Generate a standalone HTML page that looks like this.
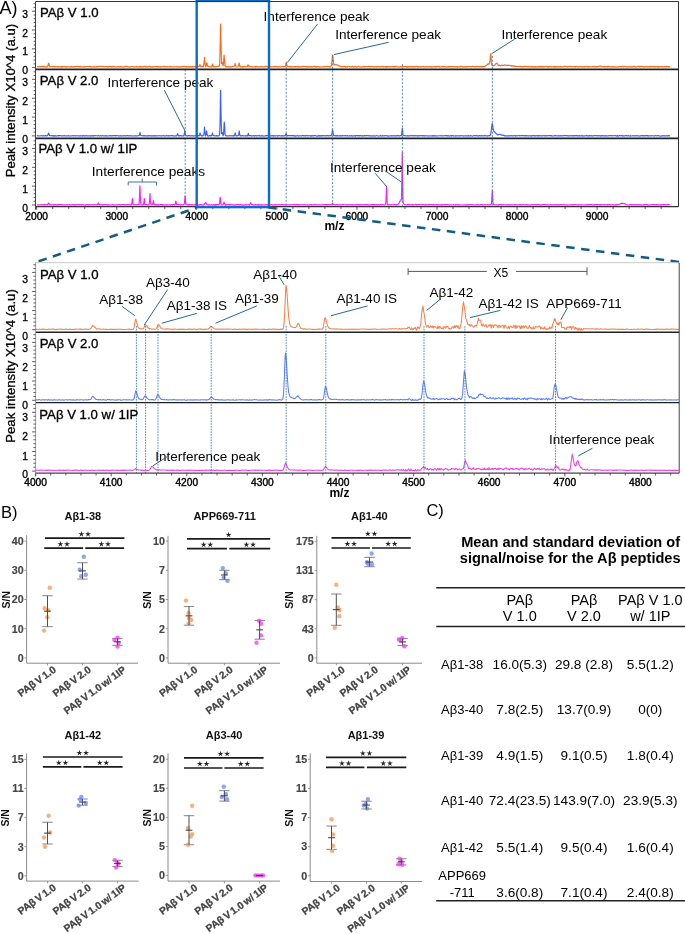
<!DOCTYPE html>
<html><head><meta charset="utf-8"><style>html,body{margin:0;padding:0;background:#fff;}svg{display:block;will-change:transform;}text{font-family:"Liberation Sans",sans-serif;}</style></head><body>
<svg width="685" height="934" viewBox="0 0 685 934" font-family='"Liberation Sans", sans-serif'>
<rect width="685" height="934" fill="#fff"/>
<polyline fill="none" stroke="#fb6a1c" stroke-width="1.15" stroke-linejoin="round" opacity="1" points="37,66.58 37.5,66.46 38,66.81 38.5,66.4 39,66.73 39.5,66.61 40,66.39 40.5,66.71 41,66.38 41.5,66.65 42,66.4 42.5,66.41 43,66.65 43.5,66.93 44,66.44 44.5,66.51 45,66.79 45.5,67.01 46,66.75 46.5,66.63 47,67.03 47.5,66.29 48,65.85 48.5,63.45 48.6,63.25 49,64.44 49.5,66.28 50,66.91 50.5,66.48 51,66.76 51.5,66.8 52,66.61 52.5,66.73 53,66.39 53.5,66.39 54,66.49 54.5,66.83 55,66.65 55.5,66.57 56,66.76 56.5,66.67 57,66.56 57.5,66.91 58,66.84 58.5,66.52 59,66.75 59.5,66.72 60,66.96 60.5,66.86 61,66.55 61.5,67.04 62,66.43 62.5,66.64 63,66.88 63.5,66.46 64,66.69 64.5,66.38 65,66.82 65.5,66.89 66,66.75 66.5,66.96 67,66.57 67.5,66.84 68,66.77 68.5,66.76 69,66.67 69.5,66.94 70,67.01 70.5,66.68 71,66.81 71.5,66.39 72,66.84 72.5,66.8 73,67.05 73.5,66.93 74,66.55 74.5,66.62 75,66.82 75.5,66.37 76,66.67 76.5,66.47 77,66.43 77.5,66.39 78,66.89 78.5,66.44 79,66.52 79.5,66.62 80,66.96 80.5,66.41 81,66.66 81.5,66.73 82,66.97 82.5,66.92 83,66.95 83.5,66.54 84,66.64 84.5,66.6 85,66.97 85.5,67.02 86,66.46 86.5,66.47 87,66.51 87.5,66.51 88,66.69 88.5,66.76 89,66.53 89.5,66.35 90,66.64 90.5,66.61 91,66.75 91.5,67.02 92,66.83 92.5,66.71 93,66.78 93.5,66.82 94,66.39 94.5,66.98 95,66.9 95.5,66.96 96,66.91 96.5,66.62 97,66.63 97.5,66.42 98,66.79 98.5,66.39 99,66.4 99.5,66.5 100,66.46 100.5,66.59 101,66.39 101.5,66.35 102,66.46 102.5,66.42 103,66.6 103.5,66.37 104,66.96 104.5,66.78 105,66.45 105.5,66.53 106,66.59 106.5,66.6 107,66.44 107.5,66.94 108,67.05 108.5,66.68 109,66.69 109.5,66.41 110,66.42 110.5,66.59 111,66.54 111.5,66.93 112,66.46 112.5,66.37 113,67.02 113.5,66.72 114,66.45 114.5,66.73 115,66.37 115.5,66.72 116,67.03 116.5,66.95 117,66.84 117.5,66.53 118,66.61 118.5,66.47 119,66.89 119.5,66.72 120,66.9 120.5,66.58 121,66.51 121.5,66.92 122,67.04 122.5,66.95 123,66.91 123.5,66.92 124,66.87 124.5,66.51 125,66.71 125.5,66.6 126,66.37 126.5,66.37 127,66.55 127.5,66.53 128,66.83 128.5,67.02 129,66.66 129.5,67.01 130,67.04 130.5,67.02 131,66.61 131.5,66.5 132,66.51 132.5,66.49 133,66.49 133.5,66.79 134,66.98 134.5,66.94 135,66.69 135.5,66.81 136,66.91 136.5,66.41 137,66.81 137.5,66.99 138,66.9 138.5,66.88 139,66.68 139.5,66.47 140,66.9 140.5,66.58 141,66.91 141.5,67.03 142,66.63 142.5,66.63 143,67.01 143.5,66.86 144,66.47 144.5,66.44 145,66.46 145.5,66.98 146,66.91 146.5,66.45 147,66.93 147.5,67.04 148,66.81 148.5,66.6 149,66.73 149.5,66.44 150,66.36 150.5,67.03 151,66.8 151.5,66.72 152,67 152.5,66.65 153,66.96 153.5,66.93 154,66.5 154.5,66.53 155,66.56 155.5,66.52 156,66.76 156.5,66.53 157,66.64 157.5,66.44 158,66.99 158.5,66.6 159,66.67 159.5,66.76 160,66.98 160.5,66.64 161,66.99 161.5,66.7 162,66.72 162.5,66.72 163,66.36 163.5,66.66 164,66.48 164.5,66.35 165,66.91 165.5,66.47 166,66.68 166.5,66.86 167,66.74 167.5,66.58 168,66.71 168.5,66.74 169,66.9 169.5,66.42 170,66.74 170.5,66.52 171,66.54 171.5,66.89 172,66.71 172.5,66.74 173,66.88 173.5,66.99 174,66.66 174.5,66.78 175,66.7 175.5,66.71 176,66.83 176.5,66.67 177,66.72 177.5,66.68 178,67.01 178.5,66.84 179,66.96 179.5,67.01 180,66.53 180.5,66.74 181,67.01 181.5,66.94 182,66.45 182.5,66.44 183,66.66 183.5,66.4 184,66.52 184.5,66.4 185,66.82 185.5,66.9 186,66.98 186.5,66.46 187,66.85 187.5,66.81 188,66.45 188.5,66.97 189,67.03 189.5,66.5 190,67.02 190.5,66.63 191,66.69 191.5,67.04 192,66.93 192.5,66.46 193,66.65 193.5,66.71 194,66.59 194.5,66.49 195,66.57 195.5,66.86 196,66.36 196.5,66.74 197,66.66 197.5,66.36 198,66.58 198.5,66.79 199,66.66 199.5,65.51 200,64.64 200.5,66.02 201,66.99 201.5,66.42 202,66.54 202.5,66.38 203,66.89 203.5,66.37 204,63.02 204.5,57.35 205,63.57 205.5,66.75 206,66.21 206.5,63.52 206.8,62.79 207,63.17 207.5,66.25 208,66.4 208.5,66.39 209,66.83 209.5,66.65 210,66.4 210.5,67.01 211,66.79 211.5,66.88 212,65.4 212.4,64.55 212.5,64.12 213,66.61 213.5,66.66 214,66.59 214.5,66.74 215,67 215.5,66.54 216,66.44 216.5,66.72 217,66.52 217.5,66.43 218,66.46 218.5,66.39 219,66.48 219.5,65.9 220,54.2 220.5,25.81 220.6,24.05 221,42.15 221.5,63.54 222,63.16 222.2,62.16 222.5,63.94 223,66.05 223.5,63.52 224,55.62 224.1,54.98 224.5,60.04 225,66.29 225.5,66.41 226,66.92 226.5,66.65 227,66.7 227.5,66.93 228,66.63 228.5,66.7 229,66.83 229.5,67.04 230,66.59 230.5,66.93 231,66.84 231.5,66.8 232,66.63 232.5,66.59 233,66.39 233.5,66.44 234,66.38 234.5,66.01 235,63.23 235.5,65.61 236,66.39 236.5,66.94 237,66.96 237.5,66.82 238,66.55 238.5,66.26 239,63.57 239.2,62.97 239.5,64.19 240,66.55 240.5,66.53 241,67.02 241.5,67.03 242,66.73 242.5,66.52 243,67.03 243.5,66.57 244,66.6 244.5,66.35 245,66.62 245.5,66.68 246,66.7 246.5,66.49 247,66.7 247.5,65.91 248,64.83 248.5,65.97 249,66.62 249.5,66.38 250,66.37 250.5,66.56 251,66.51 251.5,66.76 252,66.72 252.5,66.88 253,66.81 253.5,66.85 254,66.97 254.5,66.62 255,66.58 255.5,67.04 256,66.45 256.5,66.86 257,66.8 257.5,66.38 258,66.93 258.5,66.97 259,66.79 259.5,66.86 260,66.92 260.5,66.45 261,66.72 261.5,66.7 262,66.93 262.5,66.91 263,66.93 263.5,66.76 264,66.97 264.5,66.83 265,66.84 265.5,66.51 266,66.37 266.5,66.44 267,66.6 267.5,66.42 268,66.94 268.5,66.74 269,66.79 269.5,66.79 270,66.83 270.5,66.69 271,66.35 271.5,66.91 272,66.87 272.5,66.7 273,66.72 273.5,66.81 274,66.4 274.5,66.87 275,66.53 275.5,66.4 276,66.54 276.5,66.86 277,66.49 277.5,66.87 278,67.03 278.5,66.7 279,66.62 279.5,66.69 280,66.83 280.5,66.89 281,66.78 281.5,66.8 282,66.4 282.5,66.45 283,66.53 283.5,66.87 284,66.56 284.5,66.75 285,66.36 285.5,66.33 286,64.56 286.4,62.12 286.5,62.38 287,66.15 287.5,66.55 288,66.71 288.5,66.68 289,66.68 289.5,66.43 290,66.98 290.5,66.49 291,67.03 291.5,67.01 292,66.36 292.5,66.67 293,66.92 293.5,67.03 294,66.66 294.5,66.54 295,66.5 295.5,67.01 296,66.5 296.5,66.76 297,66.45 297.5,66.72 298,67.02 298.5,66.44 299,66.92 299.5,66.71 300,66.97 300.5,66.84 301,66.51 301.5,66.98 302,66.69 302.5,66.37 303,66.35 303.5,66.69 304,66.67 304.5,66.56 305,66.45 305.5,66.59 306,66.57 306.5,66.94 307,66.35 307.5,66.88 308,66.94 308.5,66.43 309,67 309.5,66.85 310,66.98 310.5,66.55 311,66.61 311.5,66.63 312,67.05 312.5,66.76 313,66.6 313.5,66.65 314,66.54 314.5,66.38 315,66.42 315.5,66.93 316,66.55 316.5,67 317,66.52 317.5,66.54 318,66.71 318.5,66.48 319,66.61 319.5,67.02 320,66.97 320.5,66.92 321,66.79 321.5,66.99 322,67.01 322.5,66.73 323,66.85 323.5,66.38 324,66.86 324.5,66.67 325,66.88 325.5,66.8 326,66.55 326.5,66.38 327,67 327.5,66.44 328,66.68 328.5,66.58 329,66.54 329.5,66.83 330,66.96 330.5,66.4 331,66.48 331.5,64.98 332,60.67 332.5,55.54 332.6,55.14 333,57.51 333.5,62.66 334,65.03 334.5,64.8 335,64.46 335.5,64.88 336,65.01 336.5,64.79 337,64.81 337.5,65.14 338,65.36 338.5,65.82 339,65.88 339.5,66.16 340,66.31 340.5,66.62 341,66.9 341.5,66.84 342,66.62 342.5,66.63 343,66.71 343.5,66.61 344,66.59 344.5,66.39 345,66.54 345.5,67.03 346,66.44 346.5,66.7 347,66.79 347.5,66.95 348,66.5 348.5,66.54 349,66.52 349.5,66.63 350,66.66 350.5,67.02 351,66.94 351.5,66.96 352,66.37 352.5,66.37 353,66.85 353.5,66.98 354,66.68 354.5,66.76 355,66.35 355.5,66.62 356,67 356.5,66.93 357,66.95 357.5,67.03 358,66.52 358.5,66.43 359,66.46 359.5,66.72 360,66.83 360.5,67.01 361,66.86 361.5,66.8 362,66.89 362.5,66.67 363,66.74 363.5,66.38 364,66.9 364.5,66.51 365,66.99 365.5,66.8 366,66.56 366.5,66.44 367,66.53 367.5,66.8 368,66.84 368.5,66.43 369,66.4 369.5,66.72 370,66.76 370.5,66.62 371,66.51 371.5,66.77 372,66.36 372.5,66.56 373,66.67 373.5,67.02 374,66.8 374.5,66.97 375,66.68 375.5,66.51 376,66.52 376.5,67.02 377,66.84 377.5,66.57 378,66.37 378.5,66.7 379,66.82 379.5,66.64 380,66.53 380.5,66.82 381,67 381.5,66.51 382,66.37 382.5,66.59 383,66.64 383.5,66.83 384,66.49 384.5,66.91 385,66.87 385.5,66.7 386,66.49 386.5,67.03 387,66.57 387.5,66.92 388,66.51 388.5,66.51 389,66.88 389.5,66.56 390,67.02 390.5,66.7 391,66.48 391.5,66.51 392,66.64 392.5,66.82 393,67.01 393.5,66.45 394,66.63 394.5,66.5 395,67.03 395.5,66.45 396,66.39 396.5,66.39 397,66.63 397.5,66.98 398,66.97 398.5,66.86 399,67.05 399.5,67 400,66.58 400.5,66.48 401,67.01 401.5,66.87 402,66.37 402.5,66.82 403,66.62 403.5,66.61 404,66.58 404.5,66.47 405,66.35 405.5,66.55 406,66.6 406.5,67.02 407,66.44 407.5,67.02 408,66.5 408.5,66.6 409,66.93 409.5,66.93 410,66.65 410.5,66.38 411,66.68 411.5,66.61 412,66.99 412.5,66.49 413,66.6 413.5,66.98 414,66.37 414.5,66.64 415,66.92 415.5,66.89 416,66.38 416.5,66.37 417,66.39 417.5,66.99 418,66.53 418.5,66.87 419,66.98 419.5,66.59 420,66.54 420.5,67.02 421,66.78 421.5,66.53 422,66.85 422.5,66.57 423,66.54 423.5,66.35 424,66.88 424.5,66.99 425,66.79 425.5,67.01 426,66.37 426.5,66.51 427,66.68 427.5,67.02 428,67.02 428.5,66.62 429,66.53 429.5,66.65 430,66.7 430.5,67 431,66.48 431.5,66.91 432,66.87 432.5,66.93 433,66.89 433.5,66.78 434,66.58 434.5,66.57 435,66.6 435.5,66.9 436,66.41 436.5,66.49 437,66.88 437.5,66.52 438,66.4 438.5,66.37 439,66.74 439.5,66.58 440,67.04 440.5,66.97 441,67.04 441.5,66.54 442,66.41 442.5,66.42 443,66.7 443.5,66.85 444,66.66 444.5,66.51 445,66.64 445.5,66.78 446,66.82 446.5,66.87 447,66.94 447.5,66.82 448,66.43 448.5,66.94 449,66.56 449.5,66.75 450,66.61 450.5,66.87 451,66.49 451.5,66.52 452,66.52 452.5,66.46 453,66.97 453.5,66.75 454,66.58 454.5,66.63 455,67.04 455.5,66.71 456,66.51 456.5,66.92 457,66.81 457.5,67.04 458,66.42 458.5,66.68 459,66.92 459.5,66.94 460,66.99 460.5,66.38 461,66.56 461.5,66.43 462,66.48 462.5,67.03 463,66.76 463.5,67 464,66.61 464.5,66.96 465,66.66 465.5,66.53 466,66.89 466.5,67.01 467,66.42 467.5,66.77 468,66.78 468.5,66.5 469,66.61 469.5,66.45 470,66.49 470.5,66.53 471,66.77 471.5,66.81 472,66.49 472.5,66.36 473,66.58 473.5,66.82 474,66.48 474.5,66.57 475,66.49 475.5,66.91 476,66.73 476.5,66.39 477,66.42 477.5,66.63 478,66.73 478.5,66.8 479,66.41 479.5,66.46 480,66.84 480.5,66.63 481,66.54 481.5,66.56 482,67 482.5,66.53 483,66.68 483.5,66.49 484,66.45 484.5,66.64 485,66.56 485.5,65.88 486,65.47 486.5,65.49 487,64.74 487.5,64.21 488,64.48 488.5,63.87 489,63.98 489.5,63.32 490,60.39 490.5,54.22 490.6,53.79 491,57.56 491.5,63.71 492,65.14 492.5,65.7 493,65.37 493.5,65.89 494,65.69 494.5,65.52 495,64.73 495.5,64.09 496,63.59 496.5,63.56 497,63.2 497.5,64.05 498,64.93 498.5,65.55 499,65.28 499.5,65.32 500,65.89 500.5,65.86 501,65.46 501.5,65.1 502,65.66 502.5,65.23 503,65.56 503.5,65.33 504,65.45 504.5,64.97 505,65.4 505.5,65.01 506,65.15 506.5,65.48 507,65.5 507.5,65.09 508,65.16 508.5,65.34 509,65.48 509.5,65.45 510,65.33 510.5,65.49 511,65.9 511.5,66.09 512,65.56 512.5,65.99 513,66.2 513.5,65.76 514,66.38 514.5,65.94 515,66.33 515.5,66.35 516,66.45 516.5,66.27 517,66.39 517.5,66.54 518,66.46 518.5,66.65 519,66.53 519.5,66.54 520,66.27 520.5,66.71 521,66.63 521.5,66.46 522,66.84 522.5,66.86 523,66.64 523.5,66.45 524,66.66 524.5,66.41 525,66.43 525.5,66.64 526,66.41 526.5,66.65 527,66.7 527.5,66.38 528,66.79 528.5,66.41 529,66.86 529.5,66.89 530,66.71 530.5,66.39 531,66.7 531.5,66.61 532,67.02 532.5,66.45 533,66.95 533.5,67.05 534,66.86 534.5,66.92 535,66.49 535.5,67.04 536,66.69 536.5,67.02 537,66.99 537.5,66.47 538,66.9 538.5,67 539,66.4 539.5,66.6 540,66.88 540.5,66.46 541,66.98 541.5,66.54 542,66.92 542.5,66.45 543,66.7 543.5,66.99 544,66.5 544.5,66.53 545,66.7 545.5,66.57 546,66.38 546.5,66.48 547,66.46 547.5,67.01 548,66.83 548.5,66.98 549,66.47 549.5,66.9 550,66.43 550.5,66.72 551,66.8 551.5,66.6 552,66.96 552.5,66.74 553,66.76 553.5,66.97 554,66.42 554.5,67.05 555,66.79 555.5,66.63 556,66.91 556.5,66.54 557,67.04 557.5,66.75 558,66.6 558.5,66.89 559,66.66 559.5,66.47 560,66.87 560.5,66.38 561,66.92 561.5,66.53 562,66.8 562.5,67.04 563,66.76 563.5,66.81 564,66.57 564.5,66.35 565,66.37 565.5,66.45 566,66.78 566.5,66.65 567,66.71 567.5,66.98 568,66.44 568.5,66.51 569,66.81 569.5,66.37 570,66.35 570.5,66.6 571,66.42 571.5,66.6 572,66.51 572.5,66.76 573,66.76 573.5,66.49 574,66.79 574.5,66.68 575,66.44 575.5,67.01 576,66.52 576.5,66.45 577,66.42 577.5,66.8 578,66.96 578.5,66.9 579,66.63 579.5,66.53 580,66.36 580.5,66.8 581,66.74 581.5,66.6 582,66.8 582.5,66.66 583,67.01 583.5,66.86 584,66.52 584.5,66.98 585,66.38 585.5,66.72 586,66.63 586.5,66.52 587,66.39 587.5,66.9 588,66.36 588.5,66.74 589,67.01 589.5,66.45 590,66.49 590.5,66.78 591,66.7 591.5,66.8 592,66.92 592.5,66.47 593,66.57 593.5,66.56 594,66.38 594.5,66.96 595,66.88 595.5,66.82 596,66.3 596.5,66.86 597,66.76 597.5,66.53 598,66.68 598.5,66.43 599,66.24 599.5,66.13 600,66.21 600.5,66.09 601,66.32 601.5,66.64 602,66.64 602.5,66.79 603,66.74 603.5,66.46 604,66.69 604.5,66.62 605,66.88 605.5,66.71 606,66.53 606.5,66.8 607,67.02 607.5,66.5 608,66.97 608.5,66.36 609,66.53 609.5,66.52 610,66.87 610.5,67.01 611,66.87 611.5,66.58 612,66.97 612.5,66.58 613,66.52 613.5,66.99 614,66.79 614.5,66.83 615,66.82 615.5,67.04 616,66.68 616.5,66.94 617,66.84 617.5,66.95 618,66.66 618.5,66.86 619,66.75 619.5,66.57 620,66.5 620.5,66.79 621,66.4 621.5,66.99 622,66.45 622.5,66.37 623,66.42 623.5,67 624,66.59 624.5,66.45 625,66.37 625.5,66.38 626,66.83 626.5,66.79 627,66.84 627.5,66.87 628,66.4 628.5,66.76 629,66.6 629.5,66.92 630,66.92 630.5,66.97 631,66.4 631.5,66.96 632,66.99 632.5,67.01 633,66.42 633.5,66.49 634,66.43 634.5,66.37 635,66.94 635.5,66.92 636,66.79 636.5,66.93 637,66.79 637.5,66.55 638,66.42 638.5,66.42 639,66.88 639.5,66.49 640,66.57 640.5,66.65 641,66.36 641.5,66.53 642,66.55 642.5,66.85 643,66.61 643.5,66.57 644,67.02 644.5,66.7 645,66.95 645.5,66.78 646,66.37 646.5,66.64 647,66.66 647.5,66.89 648,66.59 648.5,66.84 649,66.73 649.5,66.5 650,66.95 650.5,66.41 651,66.92 651.5,66.47 652,66.35 652.5,66.49 653,66.88 653.5,67.03 654,66.35 654.5,66.69 655,66.69 655.5,66.91 656,66.48 656.5,66.7 657,66.59 657.5,66.93 658,66.53 658.5,67.01 659,66.55 659.5,66.5 660,66.84 660.5,66.7 661,66.43 661.5,66.8 662,66.41 662.5,66.9 663,66.84 663.5,66.9 664,66.79 664.5,66.6 665,66.63 665.5,66.63 666,66.97 666.5,66.41 667,66.97 667.5,66.37 668,66.49 668.5,66.53 669,66.98 669.5,66.7 670,66.62"/>
<polyline fill="none" stroke="#3d5efa" stroke-width="1.15" stroke-linejoin="round" opacity="1" points="37,136.03 37.5,135.64 38,135.78 38.5,135.82 39,135.95 39.5,135.95 40,135.89 40.5,135.71 41,135.7 41.5,135.59 42,136.01 42.5,135.9 43,135.95 43.5,135.6 44,135.76 44.5,135.96 45,135.85 45.5,135.58 46,135.78 46.5,136.03 47,135.64 47.5,135.59 48,134.97 48.5,133.04 48.6,133.01 49,134.01 49.5,135.48 50,135.65 50.5,135.7 51,135.81 51.5,135.6 52,135.7 52.5,135.61 53,136.09 53.5,135.94 54,135.56 54.5,136.08 55,135.56 55.5,135.73 56,136.09 56.5,135.98 57,135.94 57.5,135.76 58,135.62 58.5,135.88 59,135.56 59.5,135.62 60,135.73 60.5,135.52 61,135.74 61.5,135.97 62,135.92 62.5,135.8 63,135.88 63.5,135.78 64,135.59 64.5,135.86 65,135.74 65.5,135.94 66,136.04 66.5,135.76 67,135.84 67.5,135.95 68,135.75 68.5,135.64 69,135.93 69.5,136.03 70,135.96 70.5,135.92 71,136.01 71.5,135.91 72,135.88 72.5,135.77 73,135.69 73.5,135.88 74,135.56 74.5,135.75 75,135.97 75.5,135.93 76,135.88 76.5,135.65 77,135.75 77.5,135.77 78,135.87 78.5,135.75 79,135.91 79.5,136.06 80,135.61 80.5,135.89 81,135.97 81.5,135.73 82,135.79 82.5,136.08 83,135.52 83.5,135.83 84,135.6 84.5,135.97 85,136.06 85.5,135.81 86,135.56 86.5,135.84 87,135.82 87.5,135.93 88,135.81 88.5,135.88 89,136 89.5,135.81 90,135.75 90.5,136.07 91,135.63 91.5,135.91 92,135.74 92.5,135.96 93,135.57 93.5,136.09 94,135.71 94.5,135.53 95,135.66 95.5,135.74 96,135.51 96.5,135.75 97,135.75 97.5,135.92 98,135.71 98.5,135.66 99,135.63 99.5,135.94 100,136.06 100.5,135.82 101,135.63 101.5,135.98 102,135.74 102.5,135.63 103,135.58 103.5,135.97 104,135.99 104.5,135.88 105,135.78 105.5,135.84 106,135.64 106.5,136.08 107,135.71 107.5,135.88 108,135.99 108.5,135.99 109,135.78 109.5,135.68 110,135.83 110.5,135.58 111,136 111.5,135.71 112,136.01 112.5,135.66 113,135.73 113.5,135.65 114,135.76 114.5,135.61 115,135.5 115.5,135.93 116,135.67 116.5,135.65 117,135.68 117.5,135.79 118,135.76 118.5,135.88 119,135.9 119.5,135.72 120,136.06 120.5,136.01 121,135.53 121.5,136 122,136.04 122.5,135.97 123,135.58 123.5,136 124,135.88 124.5,135.51 125,135.51 125.5,136.07 126,135.89 126.5,135.65 127,135.56 127.5,135.59 128,135.64 128.5,135.97 129,135.71 129.5,135.59 130,136.04 130.5,135.98 131,135.6 131.5,136.03 132,135.87 132.5,135.97 133,135.9 133.5,136.04 134,135.97 134.5,136 135,135.62 135.5,135.92 136,135.82 136.5,135.95 137,135.76 137.5,136.03 138,135.83 138.5,135.66 139,135.63 139.5,134.7 140,132.4 140.5,134.66 141,135.77 141.5,135.59 142,135.79 142.5,135.8 143,135.82 143.5,136.02 144,135.5 144.5,136 145,135.78 145.5,135.84 146,135.9 146.5,136 147,135.72 147.5,135.75 148,136.08 148.5,135.55 149,135.88 149.5,135.88 150,135.52 150.5,135.87 151,135.91 151.5,136.06 152,135.7 152.5,136.09 153,135.81 153.5,135.79 154,136.04 154.5,135.52 155,135.93 155.5,135.88 156,135.7 156.5,136.02 157,135.72 157.5,135.78 158,135.82 158.5,135.96 159,135.63 159.5,135.76 160,135.75 160.5,135.83 161,136 161.5,135.68 162,136 162.5,135.74 163,135.8 163.5,135.66 164,135.8 164.5,136.08 165,135.89 165.5,135.98 166,135.7 166.5,135.69 167,135.68 167.5,135.85 168,135.88 168.5,135.97 169,135.52 169.5,135.93 170,136.03 170.5,135.83 171,135.53 171.5,135.68 172,135.5 172.5,135.61 173,136.05 173.5,135.87 174,135.89 174.5,135.97 175,136.05 175.5,135.87 176,135.87 176.5,135.87 177,135.6 177.5,133.77 177.6,133.71 178,134.7 178.5,135.87 179,135.77 179.5,135.96 180,135.56 180.5,135.61 181,135.52 181.5,135.96 182,136.05 182.5,135.89 183,135.72 183.5,135.99 184,135.59 184.5,132.35 184.8,130.65 185,131.42 185.5,135.05 186,135.68 186.5,135.76 187,135.89 187.5,136.06 188,135.53 188.5,135.84 189,135.52 189.5,135.57 190,135.99 190.5,135.85 191,136.05 191.5,135.77 192,135.51 192.5,135.73 193,135.86 193.5,136.06 194,136.09 194.5,135.79 195,135.75 195.5,135.56 196,135.89 196.5,135.63 197,135.59 197.5,135.51 198,135.5 198.5,135.91 199,135.57 199.5,135.67 200,132.81 200.1,133.12 200.5,134.36 201,135.47 201.5,135.93 202,135.65 202.5,135.94 203,135.61 203.5,135.49 204,133.69 204.5,127.13 205,133.74 205.5,135.89 206,134.84 206.5,131.14 206.6,130.93 207,133.67 207.5,136 208,135.65 208.5,136.08 209,135.93 209.5,135.51 210,135.51 210.5,135.89 211,135.99 211.5,135.51 212,134.51 212.4,133.14 212.5,132.95 213,135.62 213.5,135.79 214,135.54 214.5,135.72 215,135.84 215.5,135.76 216,135.91 216.5,135.59 217,135.98 217.5,135.72 218,135.89 218.5,135.88 219,135.75 219.5,135.37 220,125.17 220.5,92.25 220.6,90.37 221,111.79 221.5,133.62 222,132.46 222.2,132.28 222.5,133.59 223,135.86 223.5,134.61 224,126.03 224.3,121.99 224.5,123.98 225,133.87 225.5,135.64 226,135.76 226.5,136.03 227,135.73 227.5,135.91 228,135.86 228.5,136.04 229,135.98 229.5,135.67 230,135.5 230.5,135.66 231,135.75 231.5,135.85 232,135.99 232.5,136.03 233,135.53 233.5,136 234,135.99 234.5,135.82 235,133.51 235.2,132.76 235.5,134.23 236,135.89 236.5,135.91 237,136.05 237.5,135.71 238,135.55 238.5,135.5 239,132.19 239.2,130.92 239.5,133.06 240,135.91 240.5,135.64 241,135.86 241.5,135.91 242,135.78 242.5,135.62 243,135.65 243.5,135.95 244,135.97 244.5,135.78 245,135.55 245.5,135.98 246,135.96 246.5,135.64 247,135.85 247.5,136.02 248,134.83 248.3,133.41 248.5,134.02 249,135.8 249.5,135.61 250,135.62 250.5,135.61 251,135.92 251.5,135.72 252,135.84 252.5,135.74 253,135.81 253.5,135.59 254,135.53 254.5,136.1 255,135.72 255.5,135.56 256,135.88 256.5,135.97 257,135.59 257.5,135.86 258,135.71 258.5,135.81 259,135.51 259.5,135.52 260,136.09 260.5,136.02 261,135.79 261.5,135.84 262,135.66 262.5,135.97 263,135.76 263.5,136.07 264,135.96 264.5,135.99 265,136.08 265.5,135.65 266,135.52 266.5,135.62 267,135.61 267.5,135.55 268,135.53 268.5,135.83 269,136.02 269.5,135.77 270,136.07 270.5,136.05 271,135.54 271.5,135.86 272,135.74 272.5,135.57 273,136.08 273.5,135.65 274,135.84 274.5,135.88 275,136.07 275.5,135.9 276,135.74 276.5,135.77 277,135.6 277.5,136.08 278,136.1 278.5,135.63 279,135.52 279.5,135.65 280,135.71 280.5,136.04 281,136.04 281.5,136 282,135.53 282.5,135.97 283,135.93 283.5,135.89 284,136.09 284.5,135.53 285,135.57 285.5,135.36 286,133.66 286.1,133.41 286.5,134.36 287,135.76 287.5,135.95 288,135.56 288.5,135.69 289,135.65 289.5,135.57 290,135.79 290.5,135.6 291,135.64 291.5,135.59 292,135.91 292.5,135.51 293,135.93 293.5,135.62 294,135.52 294.5,136.06 295,135.63 295.5,136.06 296,136.02 296.5,136.03 297,135.58 297.5,135.77 298,135.56 298.5,136.06 299,136.01 299.5,135.88 300,135.77 300.5,135.7 301,135.99 301.5,135.79 302,135.88 302.5,135.59 303,135.63 303.5,135.53 304,135.93 304.5,135.83 305,135.59 305.5,136.02 306,135.66 306.5,135.75 307,135.59 307.5,135.66 308,136 308.5,135.7 309,135.6 309.5,135.79 310,135.69 310.5,136.04 311,135.57 311.5,136.09 312,135.53 312.5,136.04 313,135.9 313.5,135.63 314,135.79 314.5,135.67 315,135.65 315.5,135.62 316,135.72 316.5,136.09 317,136.1 317.5,136.06 318,135.56 318.5,135.67 319,136.04 319.5,135.53 320,135.94 320.5,135.68 321,136.09 321.5,135.51 322,135.98 322.5,135.7 323,135.58 323.5,135.5 324,136 324.5,135.82 325,135.61 325.5,135.76 326,136.05 326.5,135.63 327,135.84 327.5,135.58 328,135.61 328.5,135.96 329,135.93 329.5,135.62 330,135.55 330.5,135.55 331,135.85 331.5,135.46 332,133.11 332.5,129.76 332.6,129.87 333,131.82 333.5,135.1 334,135.79 334.5,135.62 335,135.54 335.5,135.94 336,135.74 336.5,135.93 337,135.53 337.5,135.99 338,135.7 338.5,136.01 339,136.02 339.5,135.8 340,135.51 340.5,136.05 341,135.79 341.5,136.02 342,135.66 342.5,135.61 343,136 343.5,135.72 344,135.6 344.5,135.72 345,135.86 345.5,135.5 346,135.81 346.5,135.77 347,135.81 347.5,135.57 348,135.93 348.5,135.99 349,136.02 349.5,135.69 350,135.93 350.5,135.73 351,135.95 351.5,135.54 352,136.02 352.5,136.07 353,135.8 353.5,135.81 354,135.82 354.5,135.82 355,135.51 355.5,136.08 356,135.63 356.5,135.61 357,135.56 357.5,135.65 358,135.99 358.5,135.52 359,135.56 359.5,135.92 360,135.62 360.5,135.51 361,135.86 361.5,135.85 362,135.81 362.5,135.92 363,135.56 363.5,136.02 364,135.93 364.5,135.53 365,135.57 365.5,135.8 366,135.8 366.5,135.67 367,135.57 367.5,135.74 368,135.58 368.5,135.86 369,136.02 369.5,135.59 370,135.84 370.5,135.95 371,135.6 371.5,136 372,136.06 372.5,135.73 373,135.75 373.5,136 374,135.82 374.5,135.74 375,136.06 375.5,135.97 376,135.7 376.5,135.64 377,135.7 377.5,135.76 378,136.09 378.5,135.98 379,136.05 379.5,135.99 380,136.01 380.5,135.53 381,135.81 381.5,136.07 382,136.06 382.5,135.65 383,135.75 383.5,135.88 384,135.72 384.5,135.82 385,135.54 385.5,135.76 386,135.8 386.5,135.51 387,135.58 387.5,136.08 388,135.97 388.5,136.06 389,135.88 389.5,135.99 390,136.03 390.5,136.03 391,135.52 391.5,135.88 392,135.66 392.5,135.91 393,135.66 393.5,135.83 394,136.05 394.5,135.87 395,135.65 395.5,135.81 396,135.76 396.5,136.07 397,135.67 397.5,135.68 398,135.89 398.5,135.57 399,135.86 399.5,136.07 400,135.81 400.5,135.66 401,135.78 401.5,135.58 402,130.98 402.3,128.07 402.5,129.54 403,135.15 403.5,135.74 404,135.67 404.5,135.65 405,135.55 405.5,135.83 406,136 406.5,135.87 407,135.84 407.5,135.89 408,135.62 408.5,135.93 409,135.78 409.5,135.83 410,135.87 410.5,135.78 411,135.69 411.5,135.65 412,135.63 412.5,135.81 413,135.73 413.5,135.85 414,135.51 414.5,135.71 415,136.02 415.5,135.64 416,135.83 416.5,135.79 417,135.67 417.5,136.09 418,135.68 418.5,135.96 419,135.6 419.5,135.54 420,136.02 420.5,135.76 421,135.54 421.5,135.73 422,135.76 422.5,135.94 423,135.57 423.5,135.64 424,136.08 424.5,135.94 425,135.59 425.5,135.7 426,135.71 426.5,135.91 427,135.87 427.5,136.01 428,135.99 428.5,135.81 429,135.94 429.5,135.95 430,135.96 430.5,135.79 431,135.97 431.5,135.93 432,136.05 432.5,135.58 433,136.02 433.5,135.5 434,135.96 434.5,135.85 435,135.8 435.5,136.08 436,135.84 436.5,135.75 437,135.97 437.5,136.02 438,135.86 438.5,135.73 439,135.77 439.5,135.77 440,135.93 440.5,135.68 441,135.73 441.5,135.83 442,135.73 442.5,135.69 443,135.97 443.5,136.01 444,135.8 444.5,135.77 445,135.61 445.5,135.68 446,135.59 446.5,135.85 447,135.85 447.5,135.55 448,136.05 448.5,135.69 449,136.01 449.5,136 450,136.08 450.5,135.62 451,135.76 451.5,136.05 452,135.51 452.5,135.53 453,135.84 453.5,135.8 454,136.05 454.5,135.96 455,135.82 455.5,136.1 456,135.81 456.5,135.81 457,135.91 457.5,135.73 458,135.71 458.5,135.86 459,135.71 459.5,136.07 460,135.91 460.5,135.82 461,135.56 461.5,135.72 462,135.74 462.5,135.84 463,135.84 463.5,136.03 464,136.08 464.5,135.79 465,135.76 465.5,135.87 466,136.1 466.5,135.71 467,135.82 467.5,135.99 468,135.6 468.5,135.69 469,136.09 469.5,136 470,135.81 470.5,135.57 471,136.04 471.5,135.91 472,135.99 472.5,136.09 473,136.03 473.5,135.75 474,135.59 474.5,135.67 475,135.81 475.5,135.8 476,135.61 476.5,135.61 477,135.88 477.5,135.86 478,135.71 478.5,136.1 479,135.88 479.5,135.53 480,135.75 480.5,135.97 481,135.68 481.5,135.91 482,135.5 482.5,135.68 483,136.01 483.5,135.85 484,135.9 484.5,135.62 485,135.8 485.5,135.83 486,135.66 486.5,135.89 487,135.82 487.5,136.1 488,135.84 488.5,135.75 489,135.57 489.5,135.58 490,135.84 490.5,134.87 491,132.7 491.5,128.28 492,124.16 492.2,123.68 492.5,124.14 493,127.85 493.5,130.48 494,131.47 494.5,132.06 495,132.04 495.5,132.83 496,133.33 496.5,133.87 497,134.39 497.5,134.51 498,135.03 498.5,134.77 499,134.52 499.5,134.5 500,134.43 500.5,134.27 501,134.87 501.5,134.84 502,135.24 502.5,135.11 503,135.39 503.5,135.32 504,135.31 504.5,135.92 505,135.93 505.5,135.64 506,136.02 506.5,135.98 507,135.68 507.5,135.86 508,136.07 508.5,135.8 509,136.07 509.5,135.65 510,135.73 510.5,135.93 511,135.63 511.5,135.69 512,136.03 512.5,135.79 513,135.98 513.5,135.65 514,135.6 514.5,135.72 515,135.61 515.5,136.08 516,135.67 516.5,135.84 517,135.57 517.5,135.82 518,135.73 518.5,135.74 519,135.54 519.5,135.57 520,136 520.5,135.71 521,135.65 521.5,135.61 522,135.67 522.5,135.64 523,135.52 523.5,135.9 524,135.7 524.5,135.59 525,135.92 525.5,135.56 526,135.66 526.5,136 527,135.58 527.5,135.77 528,136 528.5,135.98 529,135.6 529.5,135.71 530,135.93 530.5,135.73 531,136.08 531.5,135.62 532,136.07 532.5,135.8 533,135.64 533.5,135.77 534,135.58 534.5,135.92 535,135.66 535.5,136.04 536,135.85 536.5,135.72 537,135.65 537.5,135.86 538,135.63 538.5,136.02 539,135.57 539.5,135.81 540,135.83 540.5,135.66 541,135.96 541.5,135.73 542,135.89 542.5,135.84 543,135.69 543.5,135.73 544,135.55 544.5,135.61 545,136.01 545.5,135.69 546,135.9 546.5,135.57 547,135.84 547.5,135.72 548,135.8 548.5,135.68 549,135.54 549.5,135.69 550,135.64 550.5,135.58 551,135.93 551.5,135.67 552,135.74 552.5,136.05 553,135.96 553.5,136.03 554,136.02 554.5,135.58 555,135.67 555.5,135.52 556,135.91 556.5,135.9 557,135.71 557.5,135.75 558,135.9 558.5,135.92 559,135.65 559.5,136.01 560,135.71 560.5,135.88 561,135.61 561.5,135.57 562,136.05 562.5,135.94 563,135.93 563.5,135.52 564,135.52 564.5,135.6 565,135.62 565.5,135.68 566,135.73 566.5,135.52 567,135.69 567.5,135.88 568,135.61 568.5,136 569,135.84 569.5,135.93 570,135.65 570.5,135.76 571,135.91 571.5,135.71 572,135.5 572.5,136 573,135.97 573.5,135.67 574,135.53 574.5,136.01 575,135.86 575.5,135.53 576,135.65 576.5,135.57 577,135.97 577.5,135.63 578,136.05 578.5,135.95 579,135.55 579.5,135.92 580,135.74 580.5,135.95 581,136 581.5,135.67 582,135.55 582.5,136.07 583,135.75 583.5,136.06 584,135.91 584.5,135.94 585,136 585.5,135.88 586,135.77 586.5,135.53 587,135.92 587.5,135.76 588,135.81 588.5,136.06 589,135.58 589.5,135.96 590,135.53 590.5,135.92 591,135.98 591.5,135.66 592,135.83 592.5,136.08 593,135.88 593.5,135.83 594,135.65 594.5,135.54 595,135.71 595.5,135.75 596,135.62 596.5,135.69 597,135.58 597.5,135.92 598,135.9 598.5,135.64 599,135.65 599.5,135.81 600,135.77 600.5,136.06 601,135.71 601.5,135.68 602,136.03 602.5,135.59 603,135.84 603.5,135.7 604,135.99 604.5,135.83 605,135.96 605.5,135.6 606,135.9 606.5,135.86 607,135.78 607.5,135.96 608,136 608.5,135.57 609,135.67 609.5,135.72 610,135.62 610.5,135.54 611,135.67 611.5,135.62 612,135.92 612.5,135.77 613,135.57 613.5,135.69 614,135.78 614.5,135.72 615,135.6 615.5,135.54 616,135.51 616.5,136.1 617,135.95 617.5,135.55 618,135.93 618.5,136.09 619,135.84 619.5,135.57 620,135.79 620.5,135.76 621,135.61 621.5,135.83 622,135.5 622.5,136.05 623,135.89 623.5,135.88 624,136.06 624.5,135.89 625,135.65 625.5,135.65 626,135.58 626.5,135.52 627,135.96 627.5,136 628,135.68 628.5,135.61 629,135.88 629.5,136.01 630,136.06 630.5,135.6 631,135.97 631.5,136 632,135.95 632.5,135.7 633,135.61 633.5,136 634,135.69 634.5,135.72 635,135.83 635.5,135.72 636,136 636.5,135.64 637,135.52 637.5,135.84 638,135.88 638.5,135.99 639,135.92 639.5,136.04 640,136.07 640.5,135.8 641,135.8 641.5,135.59 642,135.68 642.5,135.85 643,135.55 643.5,135.91 644,135.6 644.5,135.77 645,136.08 645.5,135.55 646,135.52 646.5,135.76 647,135.61 647.5,135.93 648,135.5 648.5,136 649,136.01 649.5,135.97 650,135.76 650.5,135.67 651,135.9 651.5,135.81 652,135.75 652.5,135.7 653,135.76 653.5,135.9 654,136 654.5,136.04 655,135.6 655.5,135.68 656,135.77 656.5,135.84 657,135.71 657.5,135.62 658,135.55 658.5,135.69 659,135.78 659.5,136.08 660,136.05 660.5,136.02 661,136.08 661.5,136.08 662,135.87 662.5,135.99 663,135.54 663.5,135.91 664,135.87 664.5,135.68 665,135.84 665.5,136.07 666,135.79 666.5,135.89 667,135.68 667.5,135.71 668,136.03 668.5,135.52 669,135.61 669.5,135.91 670,135.77"/>
<polyline fill="none" stroke="#fa1efa" stroke-width="1.15" stroke-linejoin="round" opacity="1" points="37,204.55 37.5,204.9 38,204.72 38.5,204.85 39,204.75 39.5,204.82 40,204.84 40.5,204.74 41,204.57 41.5,204.61 42,205.03 42.5,204.83 43,204.57 43.5,205.02 44,204.65 44.5,204.56 45,204.82 45.5,204.65 46,204.79 46.5,204.83 47,204.64 47.5,204.83 48,204.14 48.5,203.08 48.6,203.05 49,203.6 49.5,204.67 50,204.54 50.5,204.76 51,205.02 51.5,204.83 52,204.93 52.5,204.95 53,204.57 53.5,205.09 54,204.93 54.5,204.56 55,205 55.5,204.74 56,204.6 56.5,205.08 57,204.84 57.5,204.96 58,204.58 58.5,204.97 59,204.53 59.5,204.64 60,204.72 60.5,204.51 61,204.86 61.5,204.63 62,204.68 62.5,204.92 63,204.76 63.5,205.03 64,204.87 64.5,205.02 65,204.84 65.5,205.05 66,205.02 66.5,204.6 67,204.95 67.5,204.7 68,204.96 68.5,204.91 69,205 69.5,204.57 70,204.72 70.5,204.94 71,205.07 71.5,204.93 72,204.53 72.5,204.86 73,204.56 73.5,204.83 74,204.98 74.5,204.57 75,205.06 75.5,204.91 76,204.65 76.5,204.62 77,204.77 77.5,205 78,204.85 78.5,204.57 79,204.51 79.5,204.57 80,204.98 80.5,204.61 81,204.83 81.5,204.67 82,204.91 82.5,204.73 83,204.59 83.5,205.03 84,204.82 84.5,204.91 85,204.98 85.5,205.07 86,204.51 86.5,204.71 87,204.59 87.5,204.8 88,205.02 88.5,204.98 89,204.52 89.5,204.61 90,204.99 90.5,204.91 91,204.74 91.5,204.79 92,204.59 92.5,205.01 93,204.74 93.5,205.02 94,204.87 94.5,204.55 95,204.7 95.5,204.63 96,205.04 96.5,204.85 97,204.53 97.5,204.58 98,203.92 98.4,202.88 98.5,203.05 99,204.46 99.5,204.71 100,204.5 100.5,204.85 101,204.7 101.5,204.51 102,204.78 102.5,205.09 103,204.53 103.5,204.59 104,204.9 104.5,204.66 105,204.66 105.5,204.8 106,204.66 106.5,204.84 107,204.82 107.5,205.07 108,205.1 108.5,204.52 109,204.84 109.5,204.96 110,205.02 110.5,204.96 111,204.88 111.5,204.88 112,204.72 112.5,204.67 113,204.98 113.5,205.02 114,205.06 114.5,204.91 115,204.68 115.5,204.96 116,204.94 116.5,204.81 117,204.88 117.5,204.71 118,204.83 118.5,204.74 119,204.54 119.5,204.7 120,204.69 120.5,205.09 121,204.79 121.5,204.72 122,204.65 122.5,204.64 123,204.71 123.5,204.58 124,204.5 124.5,205.02 125,204.77 125.5,204.77 126,204.84 126.5,204.68 127,204.6 127.5,204.54 128,204.68 128.5,204.69 129,204.94 129.5,204.83 130,205.06 130.5,204.7 131,205.05 131.5,204.77 132,201.98 132.4,198.51 132.5,199.07 133,204.22 133.5,204.71 134,204.96 134.5,204.76 135,205.02 135.5,204.54 136,204.79 136.5,205.04 137,204.67 137.5,204.65 138,204.51 138.5,204.6 139,204.42 139.5,196.97 139.9,185.73 140,186.83 140.5,201.92 141,204.83 141.5,205.02 142,204.89 142.5,204.62 143,204.94 143.5,204.89 144,201.11 144.3,198.45 144.5,200.07 145,204.59 145.5,204.7 146,204.58 146.5,204.61 147,204.82 147.5,205.03 148,204.88 148.5,205.05 149,204.58 149.5,201.75 150,193.55 150.5,201.94 151,204.69 151.5,204.91 152,204.7 152.5,204.48 153,203.06 153.4,200.53 153.5,201.09 154,204.13 154.5,204.79 155,204.86 155.5,204.65 156,204.78 156.5,204.51 157,205.06 157.5,204.84 158,205.09 158.5,204.53 159,204.87 159.5,204.93 160,204.7 160.5,204.56 161,204.59 161.5,204.59 162,204.96 162.5,204.55 163,204.99 163.5,204.75 164,204.82 164.5,204.85 165,204.83 165.5,204.89 166,204.86 166.5,204.7 167,204.94 167.5,204.65 168,204.93 168.5,204.96 169,204.97 169.5,204.69 170,204.96 170.5,205.09 171,204.77 171.5,204.67 172,204.81 172.5,205.06 173,204.58 173.5,204.51 174,204.79 174.5,204.89 175,204.84 175.5,202.26 175.8,201.09 176,201.42 176.5,204.67 177,204.55 177.5,204.52 178,204.58 178.5,204.54 179,204.8 179.5,204.83 180,204.61 180.5,205.06 181,204.72 181.5,204.59 182,204.61 182.5,204.94 183,205.05 183.5,204.6 184,204.45 184.5,202.86 185,196.09 185.1,196.19 185.5,200.11 186,204.53 186.5,204.7 187,204.98 187.5,204.78 188,204.69 188.5,205.04 189,204.56 189.5,204.94 190,204.54 190.5,204.89 191,204.74 191.5,205.02 192,204.54 192.5,204.84 193,204.75 193.5,205.05 194,205.07 194.5,204.88 195,204.63 195.5,204.65 196,204.66 196.5,204.76 197,204.64 197.5,204.62 198,204.96 198.5,204.89 199,204.68 199.5,205.1 200,204.63 200.5,204.84 201,204.59 201.5,205.02 202,205.02 202.5,204.66 203,204.95 203.5,204.98 204,204.52 204.5,204 205,203.03 205.5,202.63 206,202.83 206.5,204.21 207,204.71 207.5,204.75 208,204.85 208.5,205.03 209,204.63 209.5,205.03 210,204.72 210.5,204.97 211,205.02 211.5,204.61 212,205.02 212.5,205.1 213,204.68 213.5,204.51 214,204.57 214.5,205.08 215,204.51 215.5,205.05 216,204.59 216.5,204.94 217,204.56 217.5,204.6 218,204.91 218.5,204.55 219,204.68 219.5,203.95 220,198.28 220.2,197.23 220.5,199.65 221,203.92 221.5,204.63 222,204.98 222.5,204.91 223,204.5 223.5,204.19 224,202.14 224.1,202.16 224.5,203.19 225,204.41 225.5,205.09 226,204.69 226.5,205.03 227,204.57 227.5,204.79 228,204.58 228.5,204.76 229,204.61 229.5,204.91 230,204.59 230.5,204.94 231,204.8 231.5,204.57 232,204.71 232.5,204.8 233,205.05 233.5,204.71 234,204.63 234.5,205.08 235,205.03 235.5,204.94 236,204.66 236.5,204.61 237,204.66 237.5,204.54 238,204.53 238.5,204.81 239,204.74 239.5,204.83 240,204.72 240.5,204.51 241,204.91 241.5,204.89 242,204.83 242.5,204.83 243,204.91 243.5,205.09 244,205.02 244.5,204.93 245,204.74 245.5,204.69 246,204.75 246.5,205.08 247,204.73 247.5,204.73 248,204.75 248.5,204.59 249,205.1 249.5,204.43 250,204.13 250.5,203.11 250.6,202.65 251,203.58 251.5,204.52 252,204.64 252.5,204.62 253,204.57 253.5,205.01 254,204.97 254.5,205.05 255,204.53 255.5,204.92 256,204.69 256.5,204.89 257,204.83 257.5,204.69 258,205.08 258.5,204.5 259,204.95 259.5,205.01 260,204.81 260.5,204.86 261,205.1 261.5,204.64 262,204.88 262.5,204.95 263,204.73 263.5,204.93 264,204.74 264.5,204.82 265,204.87 265.5,204.91 266,204.69 266.5,204.88 267,204.83 267.5,204.63 268,204.87 268.5,204.66 269,205.05 269.5,204.78 270,204.93 270.5,204.81 271,204.79 271.5,204.63 272,204.59 272.5,205.06 273,204.82 273.5,204.81 274,204.82 274.5,204.99 275,204.64 275.5,204.6 276,204.99 276.5,204.78 277,204.88 277.5,205 278,205.04 278.5,205.02 279,204.53 279.5,204.73 280,205 280.5,204.99 281,204.57 281.5,204.59 282,204.65 282.5,204.56 283,204.71 283.5,204.98 284,204.81 284.5,204.77 285,204.55 285.5,204.74 286,205.1 286.5,204.92 287,204.77 287.5,204.79 288,204.98 288.5,204.96 289,204.59 289.5,204.91 290,204.72 290.5,204.81 291,204.64 291.5,204.72 292,204.7 292.5,204.73 293,204.51 293.5,204.62 294,204.84 294.5,204.53 295,204.61 295.5,204.93 296,204.66 296.5,204.69 297,204.65 297.5,205 298,204.55 298.5,204.88 299,205.02 299.5,204.62 300,204.75 300.5,204.98 301,204.87 301.5,204.72 302,204.53 302.5,204.77 303,204.72 303.5,204.93 304,204.68 304.5,204.74 305,204.89 305.5,204.99 306,204.71 306.5,204.73 307,204.85 307.5,205.05 308,204.61 308.5,205.08 309,204.93 309.5,204.72 310,204.9 310.5,204.7 311,204.54 311.5,204.95 312,204.73 312.5,204.82 313,204.8 313.5,205.04 314,204.95 314.5,204.52 315,204.86 315.5,204.78 316,204.78 316.5,205 317,204.75 317.5,204.78 318,205.03 318.5,204.76 319,204.79 319.5,204.81 320,204.99 320.5,204.9 321,204.94 321.5,204.74 322,204.52 322.5,204.91 323,204.83 323.5,204.96 324,204.96 324.5,204.57 325,204.63 325.5,204.55 326,204.99 326.5,204.56 327,204.55 327.5,204.95 328,204.84 328.5,204.53 329,204.91 329.5,204.93 330,204.79 330.5,204.53 331,204.91 331.5,204.75 332,204.56 332.5,203.2 332.6,202.99 333,204.18 333.5,204.56 334,204.7 334.5,204.81 335,204.5 335.5,205.09 336,204.66 336.5,204.66 337,204.69 337.5,204.65 338,205.02 338.5,204.83 339,204.81 339.5,204.75 340,204.53 340.5,204.68 341,205.02 341.5,204.98 342,205.01 342.5,204.65 343,204.62 343.5,204.53 344,204.82 344.5,204.72 345,204.78 345.5,204.79 346,204.85 346.5,204.72 347,204.98 347.5,204.62 348,205.05 348.5,204.83 349,204.53 349.5,204.69 350,204.82 350.5,204.75 351,204.84 351.5,204.69 352,204.66 352.5,204.98 353,204.67 353.5,204.93 354,204.98 354.5,204.86 355,204.77 355.5,205.06 356,204.77 356.5,205.03 357,204.53 357.5,204.76 358,204.88 358.5,204.53 359,205.02 359.5,204.54 360,204.86 360.5,204.61 361,205.05 361.5,204.84 362,204.98 362.5,204.8 363,204.9 363.5,204.9 364,204.68 364.5,204.63 365,205 365.5,204.59 366,205.05 366.5,204.62 367,204.56 367.5,204.56 368,204.97 368.5,205.07 369,204.75 369.5,204.9 370,204.65 370.5,205.04 371,204.91 371.5,204.59 372,204.53 372.5,204.92 373,204.53 373.5,205 374,204.68 374.5,204.64 375,204.85 375.5,204.69 376,204.84 376.5,204.59 377,205.05 377.5,204.69 378,205 378.5,204.59 379,204.98 379.5,205.09 380,204.73 380.5,204.52 381,204.73 381.5,204.88 382,204.63 382.5,204.83 383,204.56 383.5,204.78 384,204.94 384.5,204.76 385,204.91 385.5,204.49 386,200.24 386.5,186.17 387,200.29 387.5,205.02 388,205.06 388.5,204.82 389,204.67 389.5,204.71 390,204.95 390.5,204.8 391,205.06 391.5,204.56 392,204.79 392.5,205.02 393,204.86 393.5,204.82 394,204.55 394.5,204.58 395,204.66 395.5,205.03 396,205 396.5,204.61 397,204.97 397.5,204.29 398,204.35 398.5,204.07 399,202.94 399.5,202.33 400,201.16 400.5,200.02 401,199.9 401.5,199.35 402,172.65 402.3,152.2 402.5,163.24 403,200.89 403.5,203.67 404,204.04 404.5,204.61 405,204.47 405.5,204.8 406,204.96 406.5,204.85 407,204.78 407.5,204.52 408,204.81 408.5,204.56 409,204.89 409.5,204.58 410,204.85 410.5,204.71 411,204.72 411.5,204.9 412,204.6 412.5,204.6 413,205.06 413.5,204.7 414,205.01 414.5,205.02 415,204.79 415.5,204.59 416,204.56 416.5,205.03 417,204.57 417.5,204.8 418,204.82 418.5,204.57 419,204.78 419.5,204.6 420,204.82 420.5,204.8 421,204.72 421.5,204.62 422,204.74 422.5,204.62 423,204.58 423.5,204.64 424,205.02 424.5,204.8 425,205.03 425.5,204.51 426,205.07 426.5,204.79 427,204.97 427.5,204.84 428,204.91 428.5,204.64 429,204.95 429.5,204.59 430,204.66 430.5,204.52 431,204.74 431.5,204.81 432,204.68 432.5,205.03 433,204.55 433.5,204.85 434,204.64 434.5,204.86 435,204.97 435.5,204.93 436,204.54 436.5,204.65 437,204.86 437.5,205.09 438,204.52 438.5,204.87 439,204.92 439.5,204.99 440,204.71 440.5,204.99 441,204.78 441.5,205.05 442,204.51 442.5,205.06 443,204.75 443.5,204.74 444,204.55 444.5,204.65 445,204.94 445.5,204.91 446,204.59 446.5,204.71 447,204.58 447.5,204.62 448,204.63 448.5,204.7 449,205.09 449.5,205.1 450,204.97 450.5,204.79 451,204.8 451.5,204.97 452,205.04 452.5,204.95 453,204.88 453.5,204.62 454,204.88 454.5,205.01 455,204.97 455.5,204.56 456,204.93 456.5,204.71 457,204.6 457.5,205.08 458,204.9 458.5,204.95 459,204.58 459.5,205 460,205.06 460.5,205.04 461,204.95 461.5,205 462,204.98 462.5,204.85 463,204.76 463.5,205 464,204.97 464.5,205.02 465,204.68 465.5,205.08 466,204.82 466.5,205.07 467,204.57 467.5,205.08 468,204.97 468.5,204.65 469,205 469.5,204.64 470,204.62 470.5,204.77 471,204.64 471.5,204.8 472,205.04 472.5,204.91 473,204.93 473.5,204.74 474,204.97 474.5,204.98 475,204.91 475.5,205.07 476,205 476.5,204.74 477,204.55 477.5,204.89 478,205 478.5,204.7 479,204.86 479.5,205 480,204.98 480.5,204.5 481,204.79 481.5,204.51 482,204.57 482.5,204.99 483,204.75 483.5,204.86 484,204.77 484.5,204.7 485,204.63 485.5,204.71 486,205.01 486.5,204.87 487,204.68 487.5,204.55 488,204.66 488.5,204.92 489,204.77 489.5,204.9 490,204.98 490.5,204.57 491,204.89 491.5,203.42 492,195.02 492.3,190.31 492.5,192.48 493,203.06 493.5,204.67 494,204.63 494.5,205.03 495,204.87 495.5,205.04 496,204.74 496.5,204.8 497,205.07 497.5,204.8 498,205.09 498.5,204.61 499,205 499.5,204.6 500,204.82 500.5,204.5 501,204.61 501.5,205.07 502,204.77 502.5,204.99 503,204.65 503.5,204.71 504,204.56 504.5,204.83 505,205.02 505.5,204.81 506,204.73 506.5,205.06 507,205.04 507.5,204.9 508,204.55 508.5,204.87 509,204.77 509.5,205.07 510,204.72 510.5,204.9 511,204.88 511.5,204.73 512,204.81 512.5,204.91 513,205.04 513.5,204.8 514,204.72 514.5,205.09 515,204.53 515.5,205 516,204.91 516.5,204.83 517,204.77 517.5,204.95 518,205.03 518.5,204.94 519,204.95 519.5,204.52 520,204.7 520.5,204.58 521,205.07 521.5,205.03 522,204.59 522.5,204.85 523,204.85 523.5,204.53 524,204.74 524.5,204.95 525,204.88 525.5,204.67 526,204.96 526.5,204.67 527,204.83 527.5,204.75 528,205.09 528.5,204.89 529,204.98 529.5,204.91 530,204.73 530.5,205.08 531,204.93 531.5,204.91 532,204.67 532.5,204.6 533,204.85 533.5,205 534,204.98 534.5,204.71 535,204.58 535.5,204.81 536,205.03 536.5,204.6 537,204.94 537.5,204.6 538,204.69 538.5,204.53 539,204.68 539.5,204.73 540,205.08 540.5,205.08 541,204.61 541.5,204.69 542,205.07 542.5,204.62 543,204.69 543.5,204.76 544,204.57 544.5,204.66 545,204.74 545.5,204.73 546,205.08 546.5,204.66 547,204.62 547.5,205.05 548,204.77 548.5,205 549,204.88 549.5,204.97 550,204.69 550.5,204.59 551,204.95 551.5,204.78 552,204.84 552.5,204.9 553,204.95 553.5,204.67 554,204.72 554.5,205.05 555,204.82 555.5,204.67 556,204.88 556.5,204.66 557,204.96 557.5,204.52 558,205 558.5,204.84 559,204.71 559.5,205.06 560,204.66 560.5,204.65 561,204.54 561.5,204.83 562,204.95 562.5,204.91 563,204.75 563.5,204.98 564,204.57 564.5,204.68 565,204.89 565.5,205.08 566,204.88 566.5,204.92 567,204.96 567.5,204.74 568,205.06 568.5,204.95 569,204.71 569.5,204.74 570,204.98 570.5,204.71 571,204.61 571.5,205.02 572,204.82 572.5,204.81 573,204.9 573.5,205.04 574,204.58 574.5,204.7 575,204.54 575.5,204.75 576,204.8 576.5,205.01 577,204.9 577.5,204.85 578,204.74 578.5,204.84 579,204.66 579.5,205.01 580,204.97 580.5,205 581,204.59 581.5,204.9 582,204.95 582.5,204.8 583,205.04 583.5,205.04 584,204.95 584.5,204.99 585,204.89 585.5,205.03 586,204.58 586.5,204.92 587,204.92 587.5,204.87 588,204.67 588.5,204.54 589,204.86 589.5,204.99 590,204.66 590.5,204.63 591,204.63 591.5,204.56 592,204.91 592.5,205.08 593,204.98 593.5,204.72 594,204.92 594.5,204.54 595,205 595.5,204.7 596,204.5 596.5,204.88 597,204.58 597.5,204.67 598,204.54 598.5,204.77 599,204.83 599.5,204.98 600,204.52 600.5,205 601,204.57 601.5,204.63 602,204.88 602.5,204.7 603,204.7 603.5,204.84 604,204.63 604.5,204.98 605,204.63 605.5,205 606,204.99 606.5,204.82 607,204.52 607.5,204.97 608,204.52 608.5,204.8 609,204.75 609.5,204.54 610,204.88 610.5,204.93 611,204.85 611.5,204.74 612,204.81 612.5,204.85 613,204.64 613.5,205.02 614,205.1 614.5,204.98 615,205.07 615.5,204.69 616,205.08 616.5,204.52 617,204.73 617.5,204.49 618,204.61 618.5,204.66 619,204.54 619.5,204.22 620,203.96 620.5,203.65 621,203.57 621.5,203.33 622,203.16 622.5,203.44 623,203.35 623.5,203.42 624,203.45 624.5,203.96 625,203.87 625.5,204.11 626,204.45 626.5,204.67 627,204.93 627.5,204.86 628,205.02 628.5,205.02 629,204.92 629.5,204.93 630,204.53 630.5,204.62 631,204.51 631.5,205.02 632,204.93 632.5,204.88 633,204.66 633.5,204.71 634,204.6 634.5,204.88 635,205.09 635.5,204.68 636,204.53 636.5,204.61 637,204.71 637.5,205.04 638,204.98 638.5,204.77 639,204.56 639.5,204.56 640,204.59 640.5,204.97 641,204.78 641.5,205.09 642,205.05 642.5,204.98 643,204.79 643.5,204.99 644,204.58 644.5,204.57 645,204.84 645.5,204.8 646,204.63 646.5,204.65 647,204.51 647.5,205.05 648,204.93 648.5,205.07 649,205.09 649.5,204.76 650,204.94 650.5,204.73 651,204.99 651.5,205 652,204.58 652.5,204.51 653,204.63 653.5,204.85 654,204.73 654.5,204.51 655,205 655.5,204.97 656,204.78 656.5,204.53 657,205.03 657.5,204.82 658,204.54 658.5,204.69 659,204.87 659.5,205.03 660,204.79 660.5,204.88 661,204.62 661.5,204.65 662,205.04 662.5,204.73 663,204.56 663.5,204.85 664,204.58 664.5,204.62 665,204.77 665.5,204.85 666,204.88 666.5,204.92 667,204.76 667.5,204.54 668,204.93 668.5,204.53 669,204.78 669.5,204.74 670,204.9"/>
<line x1="185.2" y1="69.4" x2="185.2" y2="206.6" stroke="#4477a6" stroke-width="0.85" stroke-dasharray="2.1,1.5"/>
<line x1="286.2" y1="63" x2="286.2" y2="206.6" stroke="#4477a6" stroke-width="0.85" stroke-dasharray="2.1,1.5"/>
<line x1="332.6" y1="56" x2="332.6" y2="206.6" stroke="#4477a6" stroke-width="0.85" stroke-dasharray="2.1,1.5"/>
<line x1="402.4" y1="64" x2="402.4" y2="206.6" stroke="#4477a6" stroke-width="0.85" stroke-dasharray="2.1,1.5"/>
<line x1="492.4" y1="56" x2="492.4" y2="206.6" stroke="#4477a6" stroke-width="0.85" stroke-dasharray="2.1,1.5"/>
<line x1="35.5" y1="1.5" x2="678.5" y2="1.5" stroke="#333" stroke-width="1"/>
<line x1="678.5" y1="1.5" x2="678.5" y2="206.6" stroke="#333" stroke-width="1"/>
<line x1="35.5" y1="69.4" x2="678.5" y2="69.4" stroke="#222" stroke-width="1.6"/>
<line x1="35.5" y1="138.4" x2="678.5" y2="138.4" stroke="#222" stroke-width="1.6"/>
<line x1="35.5" y1="206.6" x2="678.5" y2="206.6" stroke="#333" stroke-width="1.2"/>
<line x1="35.5" y1="1.5" x2="35.5" y2="209.6" stroke="#444" stroke-width="1"/>
<line x1="32" y1="67.6" x2="35.5" y2="67.6" stroke="#333" stroke-width="0.8"/>
<text x="28" y="74.2" font-size="10.3" font-weight="normal" text-anchor="end" fill="#000" stroke="#000" stroke-width="0.3">0</text>
<line x1="33.5" y1="63.84" x2="35.5" y2="63.84" stroke="#333" stroke-width="0.8"/>
<line x1="33.5" y1="60.08" x2="35.5" y2="60.08" stroke="#333" stroke-width="0.8"/>
<line x1="33.5" y1="56.32" x2="35.5" y2="56.32" stroke="#333" stroke-width="0.8"/>
<line x1="33.5" y1="52.56" x2="35.5" y2="52.56" stroke="#333" stroke-width="0.8"/>
<line x1="32" y1="48.8" x2="35.5" y2="48.8" stroke="#333" stroke-width="0.8"/>
<text x="28" y="55.4" font-size="10.3" font-weight="normal" text-anchor="end" fill="#000" stroke="#000" stroke-width="0.3">1</text>
<line x1="33.5" y1="45.04" x2="35.5" y2="45.04" stroke="#333" stroke-width="0.8"/>
<line x1="33.5" y1="41.28" x2="35.5" y2="41.28" stroke="#333" stroke-width="0.8"/>
<line x1="33.5" y1="37.52" x2="35.5" y2="37.52" stroke="#333" stroke-width="0.8"/>
<line x1="33.5" y1="33.76" x2="35.5" y2="33.76" stroke="#333" stroke-width="0.8"/>
<line x1="32" y1="30" x2="35.5" y2="30" stroke="#333" stroke-width="0.8"/>
<text x="28" y="36.6" font-size="10.3" font-weight="normal" text-anchor="end" fill="#000" stroke="#000" stroke-width="0.3">2</text>
<line x1="33.5" y1="26.24" x2="35.5" y2="26.24" stroke="#333" stroke-width="0.8"/>
<line x1="33.5" y1="22.48" x2="35.5" y2="22.48" stroke="#333" stroke-width="0.8"/>
<line x1="33.5" y1="18.72" x2="35.5" y2="18.72" stroke="#333" stroke-width="0.8"/>
<line x1="33.5" y1="14.96" x2="35.5" y2="14.96" stroke="#333" stroke-width="0.8"/>
<line x1="32" y1="11.2" x2="35.5" y2="11.2" stroke="#333" stroke-width="0.8"/>
<text x="28" y="17.8" font-size="10.3" font-weight="normal" text-anchor="end" fill="#000" stroke="#000" stroke-width="0.3">3</text>
<line x1="33.5" y1="7.44" x2="35.5" y2="7.44" stroke="#333" stroke-width="0.8"/>
<line x1="33.5" y1="3.68" x2="35.5" y2="3.68" stroke="#333" stroke-width="0.8"/>
<line x1="32" y1="135.9" x2="35.5" y2="135.9" stroke="#333" stroke-width="0.8"/>
<text x="28" y="142.5" font-size="10.3" font-weight="normal" text-anchor="end" fill="#000" stroke="#000" stroke-width="0.3">0</text>
<line x1="33.5" y1="132.13" x2="35.5" y2="132.13" stroke="#333" stroke-width="0.8"/>
<line x1="33.5" y1="128.36" x2="35.5" y2="128.36" stroke="#333" stroke-width="0.8"/>
<line x1="33.5" y1="124.59" x2="35.5" y2="124.59" stroke="#333" stroke-width="0.8"/>
<line x1="33.5" y1="120.82" x2="35.5" y2="120.82" stroke="#333" stroke-width="0.8"/>
<line x1="32" y1="117.05" x2="35.5" y2="117.05" stroke="#333" stroke-width="0.8"/>
<text x="28" y="123.65" font-size="10.3" font-weight="normal" text-anchor="end" fill="#000" stroke="#000" stroke-width="0.3">1</text>
<line x1="33.5" y1="113.28" x2="35.5" y2="113.28" stroke="#333" stroke-width="0.8"/>
<line x1="33.5" y1="109.51" x2="35.5" y2="109.51" stroke="#333" stroke-width="0.8"/>
<line x1="33.5" y1="105.74" x2="35.5" y2="105.74" stroke="#333" stroke-width="0.8"/>
<line x1="33.5" y1="101.97" x2="35.5" y2="101.97" stroke="#333" stroke-width="0.8"/>
<line x1="32" y1="98.2" x2="35.5" y2="98.2" stroke="#333" stroke-width="0.8"/>
<text x="28" y="104.8" font-size="10.3" font-weight="normal" text-anchor="end" fill="#000" stroke="#000" stroke-width="0.3">2</text>
<line x1="33.5" y1="94.43" x2="35.5" y2="94.43" stroke="#333" stroke-width="0.8"/>
<line x1="33.5" y1="90.66" x2="35.5" y2="90.66" stroke="#333" stroke-width="0.8"/>
<line x1="33.5" y1="86.89" x2="35.5" y2="86.89" stroke="#333" stroke-width="0.8"/>
<line x1="33.5" y1="83.12" x2="35.5" y2="83.12" stroke="#333" stroke-width="0.8"/>
<line x1="32" y1="79.35" x2="35.5" y2="79.35" stroke="#333" stroke-width="0.8"/>
<text x="28" y="85.95" font-size="10.3" font-weight="normal" text-anchor="end" fill="#000" stroke="#000" stroke-width="0.3">3</text>
<line x1="33.5" y1="75.58" x2="35.5" y2="75.58" stroke="#333" stroke-width="0.8"/>
<line x1="33.5" y1="71.81" x2="35.5" y2="71.81" stroke="#333" stroke-width="0.8"/>
<line x1="32" y1="205" x2="35.5" y2="205" stroke="#333" stroke-width="0.8"/>
<text x="28" y="211.6" font-size="10.3" font-weight="normal" text-anchor="end" fill="#000" stroke="#000" stroke-width="0.3">0</text>
<line x1="33.5" y1="201.23" x2="35.5" y2="201.23" stroke="#333" stroke-width="0.8"/>
<line x1="33.5" y1="197.46" x2="35.5" y2="197.46" stroke="#333" stroke-width="0.8"/>
<line x1="33.5" y1="193.69" x2="35.5" y2="193.69" stroke="#333" stroke-width="0.8"/>
<line x1="33.5" y1="189.92" x2="35.5" y2="189.92" stroke="#333" stroke-width="0.8"/>
<line x1="32" y1="186.15" x2="35.5" y2="186.15" stroke="#333" stroke-width="0.8"/>
<text x="28" y="192.75" font-size="10.3" font-weight="normal" text-anchor="end" fill="#000" stroke="#000" stroke-width="0.3">1</text>
<line x1="33.5" y1="182.38" x2="35.5" y2="182.38" stroke="#333" stroke-width="0.8"/>
<line x1="33.5" y1="178.61" x2="35.5" y2="178.61" stroke="#333" stroke-width="0.8"/>
<line x1="33.5" y1="174.84" x2="35.5" y2="174.84" stroke="#333" stroke-width="0.8"/>
<line x1="33.5" y1="171.07" x2="35.5" y2="171.07" stroke="#333" stroke-width="0.8"/>
<line x1="32" y1="167.3" x2="35.5" y2="167.3" stroke="#333" stroke-width="0.8"/>
<text x="28" y="173.9" font-size="10.3" font-weight="normal" text-anchor="end" fill="#000" stroke="#000" stroke-width="0.3">2</text>
<line x1="33.5" y1="163.53" x2="35.5" y2="163.53" stroke="#333" stroke-width="0.8"/>
<line x1="33.5" y1="159.76" x2="35.5" y2="159.76" stroke="#333" stroke-width="0.8"/>
<line x1="33.5" y1="155.99" x2="35.5" y2="155.99" stroke="#333" stroke-width="0.8"/>
<line x1="33.5" y1="152.22" x2="35.5" y2="152.22" stroke="#333" stroke-width="0.8"/>
<line x1="32" y1="148.45" x2="35.5" y2="148.45" stroke="#333" stroke-width="0.8"/>
<text x="28" y="155.05" font-size="10.3" font-weight="normal" text-anchor="end" fill="#000" stroke="#000" stroke-width="0.3">3</text>
<line x1="33.5" y1="144.68" x2="35.5" y2="144.68" stroke="#333" stroke-width="0.8"/>
<line x1="33.5" y1="140.91" x2="35.5" y2="140.91" stroke="#333" stroke-width="0.8"/>
<line x1="36.7" y1="206.6" x2="36.7" y2="209.8" stroke="#333" stroke-width="0.8"/>
<text x="36.7" y="220.2" font-size="10.2" font-weight="normal" text-anchor="middle" fill="#000" stroke="#000" stroke-width="0.4">2000</text>
<line x1="52.71" y1="206.6" x2="52.71" y2="209.1" stroke="#333" stroke-width="0.8"/>
<line x1="68.72" y1="206.6" x2="68.72" y2="209.1" stroke="#333" stroke-width="0.8"/>
<line x1="84.74" y1="206.6" x2="84.74" y2="209.1" stroke="#333" stroke-width="0.8"/>
<line x1="100.75" y1="206.6" x2="100.75" y2="209.1" stroke="#333" stroke-width="0.8"/>
<line x1="116.76" y1="206.6" x2="116.76" y2="209.8" stroke="#333" stroke-width="0.8"/>
<text x="116.76" y="220.2" font-size="10.2" font-weight="normal" text-anchor="middle" fill="#000" stroke="#000" stroke-width="0.4">3000</text>
<line x1="132.77" y1="206.6" x2="132.77" y2="209.1" stroke="#333" stroke-width="0.8"/>
<line x1="148.78" y1="206.6" x2="148.78" y2="209.1" stroke="#333" stroke-width="0.8"/>
<line x1="164.8" y1="206.6" x2="164.8" y2="209.1" stroke="#333" stroke-width="0.8"/>
<line x1="180.81" y1="206.6" x2="180.81" y2="209.1" stroke="#333" stroke-width="0.8"/>
<line x1="196.82" y1="206.6" x2="196.82" y2="209.8" stroke="#333" stroke-width="0.8"/>
<text x="196.82" y="220.2" font-size="10.2" font-weight="normal" text-anchor="middle" fill="#000" stroke="#000" stroke-width="0.4">4000</text>
<line x1="212.83" y1="206.6" x2="212.83" y2="209.1" stroke="#333" stroke-width="0.8"/>
<line x1="228.84" y1="206.6" x2="228.84" y2="209.1" stroke="#333" stroke-width="0.8"/>
<line x1="244.86" y1="206.6" x2="244.86" y2="209.1" stroke="#333" stroke-width="0.8"/>
<line x1="260.87" y1="206.6" x2="260.87" y2="209.1" stroke="#333" stroke-width="0.8"/>
<line x1="276.88" y1="206.6" x2="276.88" y2="209.8" stroke="#333" stroke-width="0.8"/>
<text x="276.88" y="220.2" font-size="10.2" font-weight="normal" text-anchor="middle" fill="#000" stroke="#000" stroke-width="0.4">5000</text>
<line x1="292.89" y1="206.6" x2="292.89" y2="209.1" stroke="#333" stroke-width="0.8"/>
<line x1="308.9" y1="206.6" x2="308.9" y2="209.1" stroke="#333" stroke-width="0.8"/>
<line x1="324.92" y1="206.6" x2="324.92" y2="209.1" stroke="#333" stroke-width="0.8"/>
<line x1="340.93" y1="206.6" x2="340.93" y2="209.1" stroke="#333" stroke-width="0.8"/>
<line x1="356.94" y1="206.6" x2="356.94" y2="209.8" stroke="#333" stroke-width="0.8"/>
<text x="356.94" y="220.2" font-size="10.2" font-weight="normal" text-anchor="middle" fill="#000" stroke="#000" stroke-width="0.4">6000</text>
<line x1="372.95" y1="206.6" x2="372.95" y2="209.1" stroke="#333" stroke-width="0.8"/>
<line x1="388.96" y1="206.6" x2="388.96" y2="209.1" stroke="#333" stroke-width="0.8"/>
<line x1="404.98" y1="206.6" x2="404.98" y2="209.1" stroke="#333" stroke-width="0.8"/>
<line x1="420.99" y1="206.6" x2="420.99" y2="209.1" stroke="#333" stroke-width="0.8"/>
<line x1="437" y1="206.6" x2="437" y2="209.8" stroke="#333" stroke-width="0.8"/>
<text x="437" y="220.2" font-size="10.2" font-weight="normal" text-anchor="middle" fill="#000" stroke="#000" stroke-width="0.4">7000</text>
<line x1="453.01" y1="206.6" x2="453.01" y2="209.1" stroke="#333" stroke-width="0.8"/>
<line x1="469.02" y1="206.6" x2="469.02" y2="209.1" stroke="#333" stroke-width="0.8"/>
<line x1="485.04" y1="206.6" x2="485.04" y2="209.1" stroke="#333" stroke-width="0.8"/>
<line x1="501.05" y1="206.6" x2="501.05" y2="209.1" stroke="#333" stroke-width="0.8"/>
<line x1="517.06" y1="206.6" x2="517.06" y2="209.8" stroke="#333" stroke-width="0.8"/>
<text x="517.06" y="220.2" font-size="10.2" font-weight="normal" text-anchor="middle" fill="#000" stroke="#000" stroke-width="0.4">8000</text>
<line x1="533.07" y1="206.6" x2="533.07" y2="209.1" stroke="#333" stroke-width="0.8"/>
<line x1="549.08" y1="206.6" x2="549.08" y2="209.1" stroke="#333" stroke-width="0.8"/>
<line x1="565.1" y1="206.6" x2="565.1" y2="209.1" stroke="#333" stroke-width="0.8"/>
<line x1="581.11" y1="206.6" x2="581.11" y2="209.1" stroke="#333" stroke-width="0.8"/>
<line x1="597.12" y1="206.6" x2="597.12" y2="209.8" stroke="#333" stroke-width="0.8"/>
<text x="597.12" y="220.2" font-size="10.2" font-weight="normal" text-anchor="middle" fill="#000" stroke="#000" stroke-width="0.4">9000</text>
<line x1="613.13" y1="206.6" x2="613.13" y2="209.1" stroke="#333" stroke-width="0.8"/>
<line x1="629.14" y1="206.6" x2="629.14" y2="209.1" stroke="#333" stroke-width="0.8"/>
<line x1="645.16" y1="206.6" x2="645.16" y2="209.1" stroke="#333" stroke-width="0.8"/>
<line x1="661.17" y1="206.6" x2="661.17" y2="209.1" stroke="#333" stroke-width="0.8"/>
<text x="334.4" y="229.6" font-size="12" font-weight="bold" text-anchor="middle" fill="#000">m/z</text>
<text x="-0.6" y="13.7" font-size="18" font-weight="normal" text-anchor="start" fill="#000">A)</text>
<text x="10.6" y="100.6" font-size="13.2" font-weight="normal" text-anchor="middle" fill="#000" transform="rotate(-90 10.6 100.6)" dominant-baseline="central" stroke="#000" stroke-width="0.3">Peak intensity X10^4 (a.u)</text>
<text x="40" y="16.6" font-size="13.2" font-weight="normal" text-anchor="start" fill="#000" stroke="#000" stroke-width="0.32">PAβ V 1.0</text>
<text x="39.8" y="85" font-size="13.2" font-weight="normal" text-anchor="start" fill="#000" stroke="#000" stroke-width="0.32">PAβ V 2.0</text>
<text x="38.4" y="153.3" font-size="13.2" font-weight="normal" text-anchor="start" fill="#000" stroke="#000" stroke-width="0.32">PAβ V 1.0 w/ 1IP</text>
<text x="263.6" y="21" font-size="13.6" font-weight="normal" text-anchor="start" fill="#000">Interference peak</text>
<text x="335.2" y="39.4" font-size="13.6" font-weight="normal" text-anchor="start" fill="#000">Interference peak</text>
<text x="501.4" y="39.4" font-size="13.6" font-weight="normal" text-anchor="start" fill="#000">Interference peak</text>
<text x="107.6" y="87" font-size="13.6" font-weight="normal" text-anchor="start" fill="#000">Interference peak</text>
<text x="91.8" y="176.3" font-size="13.7" font-weight="normal" text-anchor="start" fill="#000">Interference peaks</text>
<text x="330" y="171.5" font-size="13.6" font-weight="normal" text-anchor="start" fill="#000">Interference peak</text>
<line x1="317.7" y1="23.9" x2="287.4" y2="62.5" stroke="#2a6892" stroke-width="1"/>
<line x1="388.7" y1="42.3" x2="333.8" y2="54.6" stroke="#2a6892" stroke-width="1"/>
<line x1="514.5" y1="39.2" x2="491.5" y2="53.8" stroke="#2a6892" stroke-width="1"/>
<line x1="164.4" y1="90.2" x2="184.8" y2="130.5" stroke="#2a6892" stroke-width="1"/>
<line x1="375.2" y1="173.3" x2="386.8" y2="186.8" stroke="#2a6892" stroke-width="1"/>
<line x1="384.8" y1="170.6" x2="401.4" y2="182" stroke="#2a6892" stroke-width="1"/>
<polyline fill="none" stroke="#2a6892" stroke-width="0.9" points="128.2,185.5 128.2,182 156.5,182 156.5,185.5"/>
<line x1="142.2" y1="182" x2="142.2" y2="178.5" stroke="#2a6892" stroke-width="0.9"/>
<rect x="196.7" y="0.9" width="72.3" height="206.2" fill="none" stroke="#0a6ec8" stroke-width="2.4"/>
<line x1="196" y1="1.5" x2="270" y2="1.5" stroke="#1a2a40" stroke-width="0.9"/>
<line x1="38.6" y1="261.3" x2="196.4" y2="207.9" stroke="#135c86" stroke-width="2.5" stroke-dasharray="8.5,6.5"/>
<line x1="267.8" y1="207.3" x2="679.2" y2="262.0" stroke="#135c86" stroke-width="2.5" stroke-dasharray="8.5,6.55"/>
<polyline fill="none" stroke="#f7814a" stroke-width="1.05" stroke-linejoin="round" opacity="1" points="36,329.43 36.75,329.14 37.5,329.39 38.25,329.42 39,329.28 39.75,329.09 40.5,329.55 41.25,329.36 42,329.04 42.75,329.14 43.5,329.59 44.25,329.14 45,329.24 45.75,329.47 46.5,329.49 47.25,329.38 48,329.44 48.75,329.02 49.5,329.06 50.25,329.59 51,329.48 51.75,329.02 52.5,329.03 53.25,329.14 54,329.56 54.75,329.13 55.5,329.4 56.25,329.56 57,329.38 57.75,329.55 58.5,329.16 59.25,329.09 60,329.01 60.75,329.45 61.5,329.06 62.25,329.58 63,329.43 63.75,329.11 64.5,329.48 65.25,329.1 66,329.31 66.75,329.06 67.5,329.47 68.25,329.53 69,329.55 69.75,329 70.5,329.51 71.25,329.33 72,329.49 72.75,329.3 73.5,329.37 74.25,329.36 75,329.48 75.75,329.05 76.5,329.03 77.25,329.33 78,329.17 78.75,329.24 79.5,329 80.25,329.45 81,329.01 81.75,329.5 82.5,329.49 83.25,329.27 84,329.07 84.75,329.39 85.5,329.12 86.25,329.26 87,329.07 87.75,329.59 88.5,329.32 89.25,329.18 90,328.88 90.75,328.7 91.5,327.55 92.25,326.13 92.8,325.26 93,325.46 93.75,325.93 94.5,327.06 95.25,327.56 96,328.47 96.75,329.06 97.5,329.12 98.25,328.74 99,328.82 99.75,328.88 100.5,329.24 101.25,329.21 102,329.18 102.75,329.15 103.5,329.14 104.25,329.27 105,329.3 105.75,329.47 106.5,329.37 107.25,329.42 108,329.49 108.75,329.46 109.5,329.39 110.25,328.98 111,329.38 111.75,329.48 112.5,329.23 113.25,329.5 114,329.09 114.75,329.55 115.5,329.25 116.25,329.41 117,329.14 117.75,329.17 118.5,329.2 119.25,329.19 120,329.05 120.75,329.26 121.5,329.58 122.25,329.39 123,329.55 123.75,329.45 124.5,329.5 125.25,329.59 126,329.45 126.75,329.16 127.5,329.15 128.25,329.25 129,329.01 129.75,329.14 130.5,329.53 131.25,329.55 132,329.19 132.75,329.43 133.5,328.99 134.25,326.68 135,321.61 135.6,319.22 135.75,319.07 136.5,321.55 137.25,324.41 138,327.01 138.75,328.03 139.5,328.57 140.25,328.99 141,328.6 141.75,328.89 142.5,328.97 143.25,328.57 144,327.57 144.75,325.23 145.4,324.65 145.5,324.54 146.25,325.42 147,326.15 147.75,327.4 148.5,328.21 149.25,328.96 150,328.59 150.75,328.81 151.5,329.14 152.25,329.34 153,328.88 153.75,329.07 154.5,329.24 155.25,329.23 156,329 156.75,327.96 157.5,325.66 158.25,324.38 158.3,324.23 159,325.14 159.75,326.04 160.5,327.29 161.25,328.56 162,328.8 162.75,328.95 163.5,329.07 164.25,329.09 165,329.18 165.75,328.97 166.5,328.86 167.25,328.88 168,328.87 168.75,329.1 169.5,328.98 170.25,328.97 171,329.21 171.75,329.51 172.5,329.35 173.25,329.11 174,329.41 174.75,329.07 175.5,329.02 176.25,329.15 177,329.22 177.75,329.39 178.5,329.25 179.25,329.42 180,329.04 180.75,329.55 181.5,329.19 182.25,329.49 183,329.01 183.75,329.49 184.5,329.13 185.25,329.51 186,329.48 186.75,329.4 187.5,329.16 188.25,329 189,329.11 189.75,329.54 190.5,329.09 191.25,329.39 192,329.35 192.75,329.4 193.5,329.11 194.25,329.08 195,329.06 195.75,329.59 196.5,329.23 197.25,329.39 198,329.34 198.75,329.13 199.5,329.04 200.25,329.01 201,329.51 201.75,329.08 202.5,329.58 203.25,329.22 204,329.43 204.75,329.08 205.5,329.47 206.25,329.15 207,329.21 207.75,329.26 208.5,328.77 209.25,328.08 210,327.14 210.75,326.07 210.8,326.13 211.5,326.65 212.25,327.03 213,327.78 213.75,328.37 214.5,328.8 215.25,328.94 216,329.18 216.75,329.11 217.5,329.37 218.25,328.9 219,329.28 219.75,329.4 220.5,329.05 221.25,328.94 222,329.19 222.75,329.01 223.5,329.22 224.25,329.38 225,329.01 225.75,329.03 226.5,329.25 227.25,329.07 228,329.11 228.75,329.24 229.5,329.05 230.25,329.02 231,329.2 231.75,329.27 232.5,329.55 233.25,329.32 234,329.03 234.75,329.12 235.5,329.44 236.25,329.33 237,329.52 237.75,329.57 238.5,329.51 239.25,329.06 240,329.56 240.75,329.31 241.5,329.14 242.25,329.1 243,329.52 243.75,329.13 244.5,329.05 245.25,329.16 246,329.55 246.75,329.28 247.5,329.44 248.25,329.04 249,329.27 249.75,329.19 250.5,329.12 251.25,329.4 252,329.22 252.75,329.07 253.5,329.59 254.25,329.29 255,329.11 255.75,329.01 256.5,329.39 257.25,329.31 258,329.01 258.75,329.28 259.5,329.44 260.25,329.32 261,329.14 261.75,329.3 262.5,329.36 263.25,329.39 264,329.09 264.75,329.48 265.5,329.57 266.25,329.44 267,329.51 267.75,329.22 268.5,329.54 269.25,329.11 270,329.14 270.75,329.36 271.5,329.54 272.25,329.05 273,329.13 273.75,329.02 274.5,329.26 275.25,329.08 276,329.11 276.75,329.45 277.5,329.35 278.25,329.56 279,329.24 279.75,329.41 280.5,329.01 281.25,329.57 282,329.13 282.75,329.14 283.5,327.91 284.25,321.91 285,305.62 285.75,288.35 286.1,285.47 286.5,287.01 287.25,296.49 288,307.97 288.75,317.91 289.5,322.97 290.25,325.25 291,326.67 291.75,326.76 292.5,327.14 293.25,327.37 294,327.78 294.75,327.51 295.5,327.55 296.25,326.65 297,325.59 297.75,323.62 298.3,323.62 298.5,323.5 299.25,324.86 300,326.74 300.75,328.16 301.5,328.45 302.25,328.73 303,328.74 303.75,329.29 304.5,328.84 305.25,328.87 306,329.12 306.75,329.18 307.5,329.39 308.25,328.91 309,329.03 309.75,329 310.5,329.26 311.25,329.19 312,329.18 312.75,329.47 313.5,329.34 314.25,329.47 315,329.53 315.75,329.12 316.5,329.53 317.25,329.22 318,329 318.75,329.52 319.5,329.04 320.25,328.99 321,329.15 321.75,329.12 322.5,329.19 323.25,327.47 324,322.93 324.75,318.31 325.1,317.8 325.5,318.25 326.25,320.58 327,323.66 327.75,325.94 328.5,327.45 329.25,328.35 330,328.56 330.75,328.82 331.5,328.97 332.25,329.07 333,328.67 333.75,328.66 334.5,329.2 335.25,329.04 336,328.84 336.75,329.18 337.5,328.94 338.25,328.96 339,329.05 339.75,329.17 340.5,329.27 341.25,328.92 342,329.34 342.75,329.28 343.5,329.19 344.25,329.32 345,329.4 345.75,328.93 346.5,329.22 347.25,329.34 348,329.36 348.75,329.33 349.5,329.05 350.25,329.52 351,329.41 351.75,329.08 352.5,329.2 353.25,329.52 354,329.07 354.75,329.19 355.5,329.52 356.25,329.48 357,329.08 357.75,329.38 358.5,329.15 359.25,329.33 360,329.39 360.75,329.01 361.5,329.06 362.25,329.05 363,329.08 363.75,328.94 364.5,329 365.25,329.16 366,329.16 366.75,328.95 367.5,329.25 368.25,329.46 369,329.24 369.75,329.1 370.5,329.31 371.25,329.14 372,328.98 372.75,329.16 373.5,328.88 374.25,329.27 375,328.95 375.75,329.07 376.5,329.42 377.25,329.3 378,329.34 378.75,329.21 379.5,329.2 380.25,329.24 381,329.39 381.75,328.92 382.5,329.26 383.25,328.97 384,328.93 384.75,329.27 385.5,329.13 386.25,329.27 387,329.28 387.75,329.1 388.5,328.85 389.25,328.73 390,329.04 390.75,329.14 391.5,328.86 392.25,328.73 393,328.68 393.75,328.77 394.5,329.07 395.25,328.65 396,328.77 396.75,328.78 397.5,329.04 398.25,329.19 399,328.6 399.75,328.64 400.5,329.12 401.25,329.13 402,328.63 402.75,328.73 403.5,328.82 404.25,328.69 405,328.73 405.75,328.76 406.5,328.61 407.25,328.47 408,327.14 408.75,327.43 409.5,327.14 410.25,329.15 411,329.41 411.75,327.74 412.5,329.74 413.25,329.48 414,327.99 414.75,328.54 415.5,327.37 416.25,330.17 417,328.75 417.75,326.8 418.5,327.15 419.25,329.05 420,326.94 420.75,324.55 421.5,314.82 422.25,309.15 422.6,308.02 423,306.1 423.75,311.93 424.5,315.84 425.25,322.45 426,325.74 426.75,327.14 427.5,325.63 428.25,325.38 429,327.7 429.75,327.43 430.5,325.91 431.25,326.19 432,327.74 432.75,325.99 433.5,328.04 434.25,326.58 435,326.68 435.75,327.33 436.5,327.77 437.25,328.51 438,325.88 438.75,328.52 439.5,326.61 440.25,326.87 441,328.19 441.75,328.38 442.5,328.08 443.25,329.16 444,326.5 444.75,326.89 445.5,328.21 446.25,326.67 447,326.26 447.75,326.5 448.5,328.55 449.25,328.74 450,328.3 450.75,329.2 451.5,328.56 452.25,326.69 453,326.69 453.75,328.21 454.5,325.66 455.25,327.75 456,325.75 456.75,325.57 457.5,327.32 458.25,325.92 459,328.86 459.75,328.57 460.5,326.44 461.25,322.81 462,315.27 462.75,306.5 463.4,302.28 463.5,301.77 464.25,306.3 465,311.54 465.75,318.44 466.5,320.11 467.25,322.26 468,324.48 468.75,325.28 469.5,324.63 470.25,326.36 471,324.79 471.75,325.26 472.5,325.96 473.25,326.93 474,327.19 474.75,325.6 475.5,325.49 476.25,326.26 477,324.45 477.75,321.19 478.5,318.16 478.6,319.48 479.25,320.53 480,320.14 480.75,320.51 481.5,325.36 482.25,326.12 483,323.86 483.75,325.57 484.5,326.39 485.25,325.31 486,324.5 486.75,327.14 487.5,327.26 488.25,326.02 489,324.71 489.75,325.91 490.5,324.8 491.25,328.12 492,324.68 492.75,325.6 493.5,327.44 494.25,325.05 495,324.95 495.75,324.83 496.5,325.2 497.25,326.61 498,327.77 498.75,325.26 499.5,325.29 500.25,327.55 501,326.27 501.75,325.95 502.5,325.14 503.25,325.61 504,328.39 504.75,325.15 505.5,325.71 506.25,327.55 507,328.13 507.75,328.2 508.5,326.57 509.25,328.42 510,327.09 510.75,325.91 511.5,326.6 512.25,327.56 513,327.65 513.75,325.37 514.5,325.63 515.25,328.55 516,325.33 516.75,328.03 517.5,326.24 518.25,325.92 519,325.96 519.75,326.79 520.5,328.79 521.25,325.61 522,328.32 522.75,326.31 523.5,325.77 524.25,327.96 525,326.45 525.75,325.88 526.5,326.78 527.25,328.34 528,328.52 528.75,327.44 529.5,325.32 530.25,328.2 531,327.63 531.75,328.77 532.5,328.99 533.25,326.64 534,328.64 534.75,328.56 535.5,326.48 536.25,326.88 537,326.94 537.75,326.88 538.5,327 539.25,326.01 540,326.48 540.75,329.09 541.5,327.22 542.25,328.1 543,329.08 543.75,328.61 544.5,326.69 545.25,329.28 546,328.87 546.75,329.6 547.5,328.63 548.25,328.75 549,329 549.75,326.89 550.5,328.4 551.25,327.16 552,328.17 552.75,323.73 553.5,322.47 554.25,319.08 554.8,320.22 555,318.49 555.75,321.3 556.5,322.91 557.25,324.68 558,322.69 558.75,324.97 559.5,322.65 560,322.08 560.25,322.25 561,322.09 561.75,327.57 562.5,327.56 563.25,327.59 564,327.26 564.75,329.01 565.5,329.06 566.25,329.45 567,327.01 567.75,327.53 568.5,327.23 569.25,326.7 570,327.6 570.75,326.5 571.5,329.46 572.25,327.33 573,326.77 573.75,326.78 574.5,329.37 575.25,327.34 576,328.37 576.75,328.16 577.5,329.71 578.25,330.31 579,327.88 579.75,329.13 580.5,330.15 581.25,328.55 582,330.2 582.75,329.59 583.5,328.61 584.25,328.97 585,328.8 585.75,328.54 586.5,328.84 587.25,329 588,328.83 588.75,328.83 589.5,328.8 590.25,329.09 591,328.98 591.75,328.71 592.5,328.82 593.25,328.83 594,329.2 594.75,329.06 595.5,328.72 596.25,329.21 597,328.69 597.75,329.04 598.5,328.95 599.25,329.13 600,328.97 600.75,328.78 601.5,329.04 602.25,329.23 603,329.22 603.75,328.97 604.5,328.9 605.25,329.22 606,329.26 606.75,328.92 607.5,329.32 608.25,329.4 609,329.07 609.75,329.04 610.5,329.25 611.25,329.39 612,328.96 612.75,329.02 613.5,329.04 614.25,329.29 615,328.97 615.75,329.19 616.5,329.17 617.25,329.27 618,328.96 618.75,329.46 619.5,329.49 620.25,329.23 621,329.37 621.75,329.01 622.5,329.45 623.25,329.24 624,329.37 624.75,329.43 625.5,329.13 626.25,329.47 627,329.05 627.75,328.94 628.5,329.23 629.25,329.47 630,329.47 630.75,329.51 631.5,329.25 632.25,329.5 633,329.28 633.75,329.03 634.5,329.33 635.25,329.43 636,329.21 636.75,329.32 637.5,329.11 638.25,329.12 639,329.21 639.75,329.27 640.5,329.25 641.25,329.02 642,328.97 642.75,329.17 643.5,329.4 644.25,329.42 645,329.11 645.75,329.13 646.5,329.29 647.25,329.08 648,329.34 648.75,329.52 649.5,329.1 650.25,329.33 651,329.41 651.75,329.43 652.5,329.41 653.25,329.41 654,329.15 654.75,329.49 655.5,329.54 656.25,329.02 657,329.55 657.75,329.25 658.5,329.04 659.25,329.03 660,329.47 660.75,329.4 661.5,329.08 662.25,329.27 663,329.37 663.75,329.59 664.5,329.19 665.25,329.45 666,329.14 666.75,329.11 667.5,329.09 668.25,329.24 669,329.37 669.75,329.18 670.5,329.09 671.25,329.13 672,329.05 672.75,329.11 673.5,329.19 674.25,329.3 675,329.11 675.75,329.28 676.5,329.26 677.25,329.58 678,329.29 678.75,329.56"/>
<polyline fill="none" stroke="#5a7ff6" stroke-width="1.05" stroke-linejoin="round" opacity="1" points="36,399.88 36.75,399.72 37.5,399.96 38.25,399.69 39,399.7 39.75,399.64 40.5,400.02 41.25,400.18 42,399.84 42.75,399.81 43.5,399.86 44.25,399.81 45,400.01 45.75,399.84 46.5,399.69 47.25,400.12 48,399.94 48.75,399.6 49.5,400.11 50.25,400.04 51,399.81 51.75,399.98 52.5,400.15 53.25,399.84 54,399.86 54.75,399.78 55.5,399.93 56.25,400 57,400.04 57.75,400.17 58.5,399.69 59.25,399.82 60,400.11 60.75,400.07 61.5,399.95 62.25,400.01 63,399.8 63.75,400.17 64.5,399.93 65.25,399.84 66,399.71 66.75,399.67 67.5,400.14 68.25,400.08 69,399.62 69.75,399.79 70.5,399.89 71.25,399.9 72,399.82 72.75,400.14 73.5,399.81 74.25,399.92 75,400.16 75.75,399.98 76.5,399.89 77.25,399.8 78,399.83 78.75,399.97 79.5,400.07 80.25,399.76 81,399.82 81.75,399.83 82.5,399.82 83.25,400.15 84,399.92 84.75,399.77 85.5,399.8 86.25,400.09 87,399.7 87.75,400.01 88.5,399.61 89.25,399.69 90,399.48 90.75,399.42 91.5,397.93 92.25,396.72 92.8,396.23 93,396.39 93.75,397.13 94.5,397.89 95.25,398.78 96,399.37 96.75,399.46 97.5,399.85 98.25,399.42 99,399.96 99.75,399.69 100.5,399.56 101.25,399.91 102,399.99 102.75,399.72 103.5,399.56 104.25,400.04 105,399.98 105.75,399.89 106.5,400.13 107.25,399.57 108,399.59 108.75,399.63 109.5,399.58 110.25,399.99 111,399.95 111.75,399.64 112.5,399.67 113.25,399.69 114,399.95 114.75,399.99 115.5,400.17 116.25,399.8 117,400.18 117.75,399.85 118.5,399.83 119.25,399.74 120,399.73 120.75,400.18 121.5,400.19 122.25,400.02 123,399.7 123.75,399.7 124.5,399.69 125.25,399.81 126,400.04 126.75,399.63 127.5,399.92 128.25,400.01 129,399.62 129.75,399.86 130.5,400.07 131.25,399.94 132,399.87 132.75,400.11 133.5,399.73 134.25,398.07 135,393.94 135.75,390.98 135.8,390.92 136.5,392.23 137.25,394.83 138,397.06 138.75,398.43 139.5,399.08 140.25,399.45 141,399.13 141.75,399.67 142.5,399.61 143.25,398.94 144,397.25 144.75,396.2 145.1,395.75 145.5,396.08 146.25,396.85 147,398.02 147.75,398.69 148.5,399.52 149.25,399.74 150,399.83 150.75,399.69 151.5,399.55 152.25,399.62 153,399.58 153.75,399.98 154.5,399.91 155.25,399.7 156,398.75 156.75,396.7 157.5,394.64 157.7,394.31 158.25,394.97 159,395.93 159.75,397.58 160.5,398.38 161.25,399.38 162,399.41 162.75,399.39 163.5,399.84 164.25,399.38 165,399.92 165.75,399.84 166.5,399.51 167.25,399.9 168,399.8 168.75,400.02 169.5,399.84 170.25,399.76 171,400.08 171.75,399.58 172.5,400 173.25,399.61 174,399.72 174.75,399.63 175.5,400.09 176.25,399.83 177,400.01 177.75,399.73 178.5,400.02 179.25,399.97 180,399.64 180.75,399.88 181.5,400.02 182.25,399.72 183,399.98 183.75,399.76 184.5,399.81 185.25,400.15 186,400.16 186.75,400.19 187.5,399.85 188.25,399.94 189,400.08 189.75,400.05 190.5,399.87 191.25,400.12 192,399.84 192.75,400.17 193.5,399.88 194.25,399.67 195,400.05 195.75,399.69 196.5,400.01 197.25,399.63 198,400.19 198.75,399.92 199.5,400.04 200.25,399.68 201,399.98 201.75,399.83 202.5,399.75 203.25,400.09 204,399.62 204.75,399.89 205.5,399.65 206.25,400.11 207,400.13 207.75,399.6 208.5,399.74 209.25,399.29 210,398.45 210.75,397.48 211.1,397.11 211.5,397.56 212.25,397.61 213,398.26 213.75,399.26 214.5,399.21 215.25,399.43 216,399.7 216.75,399.64 217.5,399.56 218.25,400.03 219,399.78 219.75,399.98 220.5,399.67 221.25,400.07 222,399.67 222.75,400.09 223.5,399.92 224.25,400.14 225,400.02 225.75,399.94 226.5,399.89 227.25,400.09 228,399.84 228.75,399.64 229.5,400.13 230.25,400.07 231,399.99 231.75,400.03 232.5,399.73 233.25,399.87 234,400.08 234.75,400.17 235.5,400.15 236.25,399.69 237,400 237.75,399.93 238.5,399.84 239.25,399.7 240,399.68 240.75,399.88 241.5,399.89 242.25,399.76 243,399.82 243.75,399.93 244.5,400.06 245.25,399.95 246,399.7 246.75,400.13 247.5,399.82 248.25,400.18 249,400.19 249.75,399.68 250.5,399.95 251.25,400.18 252,399.83 252.75,399.93 253.5,399.79 254.25,399.62 255,399.72 255.75,399.67 256.5,399.77 257.25,399.98 258,399.94 258.75,400.17 259.5,400.01 260.25,399.82 261,400.17 261.75,399.98 262.5,399.93 263.25,400.12 264,400 264.75,399.82 265.5,399.96 266.25,399.78 267,400.18 267.75,399.75 268.5,400.18 269.25,399.64 270,399.61 270.75,399.93 271.5,399.72 272.25,399.9 273,399.67 273.75,400.1 274.5,400 275.25,400.01 276,400.16 276.75,400.2 277.5,400.01 278.25,400.03 279,399.6 279.75,399.63 280.5,399.86 281.25,400.18 282,399.73 282.75,399.2 283.5,394.36 284.25,379.87 285,359.08 285.5,352.85 285.75,353.92 286.5,362.37 287.25,375.64 288,386.54 288.75,393.18 289.5,395.48 290.25,397.06 291,397.18 291.75,397.9 292.5,397.98 293.25,398.11 294,398.68 294.75,398.38 295.5,398.26 296.25,397.1 297,396.55 297.75,396.16 297.8,395.64 298.5,396.57 299.25,397.48 300,398.47 300.75,399.17 301.5,399.58 302.25,399.85 303,399.92 303.75,399.95 304.5,399.76 305.25,399.81 306,399.54 306.75,399.9 307.5,399.81 308.25,399.71 309,400.05 309.75,399.67 310.5,399.61 311.25,399.63 312,399.64 312.75,399.91 313.5,400.04 314.25,399.66 315,399.87 315.75,399.92 316.5,399.91 317.25,399.83 318,399.91 318.75,399.59 319.5,399.62 320.25,399.84 321,399.73 321.75,400.04 322.5,399.64 323.25,399.24 324,395.78 324.75,389.66 325.5,386.28 326.25,387.97 327,391.57 327.75,395.34 328.5,397.27 329.25,398.6 330,399.12 330.75,399.08 331.5,399.22 332.25,399.56 333,399.45 333.75,399.26 334.5,399.25 335.25,399.31 336,399.5 336.75,399.39 337.5,399.76 338.25,399.65 339,399.61 339.75,399.75 340.5,400.02 341.25,399.63 342,399.59 342.75,399.69 343.5,399.71 344.25,400.07 345,399.96 345.75,399.8 346.5,399.64 347.25,399.58 348,399.63 348.75,400.06 349.5,399.95 350.25,399.65 351,399.94 351.75,399.6 352.5,399.87 353.25,399.77 354,399.63 354.75,400.01 355.5,400 356.25,399.87 357,399.67 357.75,399.97 358.5,399.83 359.25,399.96 360,399.62 360.75,400.11 361.5,399.57 362.25,399.7 363,399.8 363.75,399.68 364.5,399.61 365.25,399.97 366,400.15 366.75,399.75 367.5,399.71 368.25,399.95 369,399.68 369.75,399.79 370.5,399.96 371.25,399.8 372,399.63 372.75,399.58 373.5,399.86 374.25,400.13 375,400.08 375.75,399.59 376.5,399.83 377.25,399.82 378,399.64 378.75,399.92 379.5,399.81 380.25,400 381,399.68 381.75,400.07 382.5,399.99 383.25,399.78 384,399.58 384.75,399.78 385.5,399.56 386.25,399.9 387,399.9 387.75,399.82 388.5,400.06 389.25,399.49 390,399.89 390.75,399.94 391.5,399.52 392.25,399.64 393,399.48 393.75,399.79 394.5,399.87 395.25,399.64 396,399.84 396.75,399.64 397.5,399.84 398.25,399.57 399,399.99 399.75,399.66 400.5,399.39 401.25,399.44 402,399.81 402.75,399.89 403.5,399.75 404.25,399.45 405,399.87 405.75,399.77 406.5,399.41 407.25,399.56 408,399.95 408.75,398.67 409.5,398.74 410.25,399.32 411,400.3 411.75,400.53 412.5,399.23 413.25,400.34 414,400.1 414.75,400.24 415.5,399.71 416.25,400.43 417,399.8 417.75,400.37 418.5,399.63 419.25,398.92 420,399.5 420.75,399.16 421.5,397.24 422.25,392.04 423,384.32 423.6,381.41 423.75,380.86 424.5,383.81 425.25,389.05 426,393.45 426.75,396.06 427.5,397.85 428.25,397.47 429,398.36 429.75,398.02 430.5,399.06 431.25,399.02 432,399.25 432.75,398.81 433.5,398.36 434.25,399.69 435,398.94 435.75,398.72 436.5,398.58 437.25,398.82 438,399.42 438.75,399.64 439.5,399.01 440.25,399.49 441,398.52 441.75,398.97 442.5,398.8 443.25,398.7 444,398.8 444.75,399.54 445.5,399.5 446.25,398.5 447,398.54 447.75,399.58 448.5,399.33 449.25,399.36 450,399.27 450.75,399.37 451.5,398.57 452.25,398.15 453,398.71 453.75,398.08 454.5,399.84 455.25,399 456,399.26 456.75,399.81 457.5,399.5 458.25,398.39 459,398.59 459.75,398.14 460.5,399.43 461.25,399.19 462,397.67 462.75,392.71 463.5,381.53 464.25,371.58 464.5,371.13 465,373.14 465.75,379.34 466.5,386.9 467.25,391.79 468,394.89 468.75,396.05 469.5,397.85 470.25,396.63 471,396.77 471.75,397.16 472.5,398.52 473.25,398.5 474,397.61 474.75,398.67 475.5,398.75 476.25,397.75 477,396.95 477.75,397.37 478.5,395.62 479.25,394.08 480,394.87 480.4,393.89 480.75,393.88 481.5,394.6 482.25,394.52 483,394.75 483.75,396.13 484.5,396.71 485.25,396.48 486,397.51 486.75,398.47 487.5,397.8 488.25,398.54 489,398.49 489.75,397.7 490.5,397.41 491.25,398.68 492,398.58 492.75,397.99 493.5,397.83 494.25,399.09 495,399.21 495.75,397.94 496.5,398.62 497.25,398.61 498,398.14 498.75,397.61 499.5,398.17 500.25,398.78 501,398.71 501.75,398.55 502.5,397.82 503.25,398 504,398.2 504.75,398.41 505.5,398.31 506.25,399.35 507,397.86 507.75,399.52 508.5,398.11 509.25,399.29 510,398.14 510.75,398.8 511.5,398.41 512.25,397.77 513,399.22 513.75,399.26 514.5,398.24 515.25,399.21 516,398.65 516.75,399.63 517.5,397.86 518.25,398.49 519,398.21 519.75,398.98 520.5,399.28 521.25,399.41 522,398.86 522.75,398.57 523.5,399.36 524.25,398.05 525,398.35 525.75,399.3 526.5,398.72 527.25,399.78 528,398.08 528.75,398.79 529.5,398.33 530.25,397.94 531,398.13 531.75,398.13 532.5,398.67 533.25,398.8 534,398.96 534.75,398.56 535.5,399.35 536.25,399.01 537,399.91 537.75,398.37 538.5,399.03 539.25,399.01 540,398.79 540.75,399.74 541.5,398.51 542.25,399.79 543,398.82 543.75,398.79 544.5,399.33 545.25,399.24 546,398.72 546.75,398.36 547.5,400.02 548.25,398.92 549,398.45 549.75,399.49 550.5,399.27 551.25,398.88 552,398.74 552.75,398.68 553.5,393.84 554.25,387.02 555,384.04 555.75,384.86 556.5,389.05 557.25,392.71 558,396.44 558.75,397.84 559.5,398.02 560.25,398.2 561,398.01 561.75,399.17 562.5,398.6 563.25,399.34 564,398.43 564.75,399.01 565.5,397.49 566.25,397.59 567,398.67 567.75,397.81 568.5,397.5 569.25,396.97 570,396.87 570.75,396.46 571.5,396.67 572.25,397.93 573,398.43 573.75,397.99 574.5,399.07 575.25,398.37 576,399.46 576.75,398.75 577.5,399.48 578.25,399.16 579,399.64 579.75,398.87 580.5,399.55 581.25,399.81 582,398.91 582.75,399.25 583.5,399.96 584.25,399.72 585,399.86 585.75,399.82 586.5,399.7 587.25,399.5 588,399.64 588.75,399.88 589.5,399.72 590.25,399.84 591,399.62 591.75,399.67 592.5,399.99 593.25,399.91 594,399.81 594.75,399.49 595.5,399.8 596.25,399.46 597,400 597.75,400.03 598.5,399.89 599.25,399.62 600,399.97 600.75,399.57 601.5,399.97 602.25,399.79 603,399.49 603.75,400.02 604.5,399.75 605.25,399.99 606,399.91 606.75,399.82 607.5,400.02 608.25,399.63 609,400.05 609.75,399.71 610.5,399.53 611.25,399.72 612,399.56 612.75,399.57 613.5,399.9 614.25,399.6 615,399.63 615.75,399.71 616.5,399.7 617.25,400.09 618,400.08 618.75,400.06 619.5,400.14 620.25,399.81 621,400.03 621.75,399.72 622.5,400.11 623.25,400.04 624,400 624.75,399.69 625.5,399.61 626.25,400.12 627,399.89 627.75,399.93 628.5,400.08 629.25,399.65 630,399.99 630.75,399.85 631.5,400.04 632.25,399.85 633,399.69 633.75,400.15 634.5,399.74 635.25,400.02 636,400.08 636.75,399.73 637.5,400 638.25,399.82 639,399.72 639.75,399.71 640.5,400.16 641.25,399.8 642,399.89 642.75,399.89 643.5,399.6 644.25,400.04 645,400.03 645.75,400.11 646.5,399.8 647.25,399.71 648,399.8 648.75,400.03 649.5,399.98 650.25,399.83 651,399.91 651.75,399.68 652.5,400.14 653.25,399.88 654,399.9 654.75,400.07 655.5,399.71 656.25,400.03 657,399.81 657.75,400.08 658.5,399.65 659.25,399.76 660,399.98 660.75,399.88 661.5,399.82 662.25,399.94 663,399.73 663.75,399.86 664.5,399.6 665.25,400.08 666,399.75 666.75,400.1 667.5,399.93 668.25,399.96 669,399.97 669.75,399.67 670.5,400.06 671.25,399.77 672,400.12 672.75,400.07 673.5,400 674.25,400.09 675,399.86 675.75,400 676.5,400.17 677.25,399.71 678,399.66 678.75,399.85"/>
<polyline fill="none" stroke="#f23cf2" stroke-width="1.05" stroke-linejoin="round" opacity="1" points="36,470.31 36.75,470.09 37.5,470.13 38.25,470.52 39,470.23 39.75,470.09 40.5,470.11 41.25,470.35 42,470.11 42.75,470.29 43.5,470.32 44.25,470.26 45,470.3 45.75,470.5 46.5,470.01 47.25,470.56 48,470.12 48.75,470.02 49.5,470.46 50.25,470.34 51,470.32 51.75,470.13 52.5,470.47 53.25,470.18 54,470.44 54.75,470.14 55.5,470.34 56.25,470.39 57,470.22 57.75,470.29 58.5,470.04 59.25,470.39 60,470.41 60.75,470.09 61.5,470.33 62.25,470.44 63,470.06 63.75,470.5 64.5,470.52 65.25,470.03 66,470.15 66.75,470.05 67.5,470.15 68.25,470.05 69,470.29 69.75,470.15 70.5,470.18 71.25,470.28 72,470.22 72.75,470.47 73.5,470.43 74.25,470.07 75,470.13 75.75,470 76.5,470.2 77.25,470.06 78,470.42 78.75,470.47 79.5,470.6 80.25,470.13 81,470.02 81.75,470.45 82.5,470.25 83.25,470.56 84,470.24 84.75,470.19 85.5,470.04 86.25,470.57 87,470.31 87.75,470.26 88.5,470.26 89.25,470.46 90,470.5 90.75,470.29 91.5,470.11 92.25,470.24 93,470.53 93.75,470.24 94.5,470.4 95.25,470.34 96,470.28 96.75,470.34 97.5,470.15 98.25,470.33 99,470.52 99.75,470.05 100.5,470.22 101.25,470.53 102,470.59 102.75,470.01 103.5,470.38 104.25,470.38 105,470.51 105.75,470.28 106.5,470.08 107.25,470.18 108,470.43 108.75,470.44 109.5,470.12 110.25,470.39 111,470.39 111.75,470.39 112.5,470.01 113.25,470.26 114,470.19 114.75,470.36 115.5,470.2 116.25,470.08 117,470.4 117.75,470.17 118.5,470.47 119.25,470.18 120,470.33 120.75,470.48 121.5,470.07 122.25,470.44 123,470.04 123.75,470.56 124.5,470.02 125.25,470.43 126,470.22 126.75,470.11 127.5,470.24 128.25,470.3 129,470.25 129.75,470.07 130.5,470.31 131.25,470.18 132,470.58 132.75,470.22 133.5,470.18 134.25,469.66 135,469.26 135.6,468.49 135.75,468.71 136.5,469.16 137.25,469.43 138,470.05 138.75,469.97 139.5,469.94 140.25,469.93 141,470.19 141.75,470.45 142.5,470.06 143.25,470.21 144,470.41 144.75,470.13 145.5,470.06 146.25,470.28 147,470.23 147.75,470.54 148.5,470.47 149.25,469.85 150,469.37 150.75,468.03 151.5,466.53 152,466.46 152.25,466.79 153,466.91 153.75,467.89 154.5,468.79 155.25,469.04 156,469.96 156.75,469.68 157.5,469.89 158.25,470.19 159,469.8 159.75,470.04 160.5,469.91 161.25,470.14 162,469.88 162.75,469.97 163.5,470.03 164.25,469.95 165,469.97 165.75,470.04 166.5,470.24 167.25,470.02 168,470.44 168.75,470.2 169.5,470.11 170.25,470.11 171,470.47 171.75,470 172.5,470.42 173.25,470.03 174,470.54 174.75,470.22 175.5,470.34 176.25,470.5 177,470.05 177.75,470.03 178.5,470.4 179.25,470.34 180,470.42 180.75,470.16 181.5,470.29 182.25,470.11 183,470.26 183.75,470.16 184.5,470.35 185.25,470.18 186,470.16 186.75,470.38 187.5,470.05 188.25,470.48 189,470.29 189.75,470.14 190.5,470.07 191.25,470.3 192,470.3 192.75,470.43 193.5,470.22 194.25,470.25 195,470.53 195.75,470.16 196.5,470.59 197.25,470.53 198,470.59 198.75,470.57 199.5,470.15 200.25,470.49 201,470.37 201.75,470.12 202.5,470.6 203.25,470.39 204,470.49 204.75,470.33 205.5,470.05 206.25,470.52 207,470.11 207.75,470.16 208.5,470.37 209.25,470.12 210,470.28 210.75,470.43 211.5,470.06 212.25,470.4 213,470.06 213.75,470.29 214.5,470.39 215.25,470.41 216,470.03 216.75,470.11 217.5,470.58 218.25,470.23 219,470.25 219.75,470.22 220.5,470.42 221.25,470.44 222,470.39 222.75,470.24 223.5,470.34 224.25,470.31 225,470.11 225.75,470.57 226.5,470.58 227.25,470.47 228,470.6 228.75,470.28 229.5,470.5 230.25,470.14 231,470.45 231.75,470.43 232.5,470.56 233.25,470.5 234,470.53 234.75,470.16 235.5,470.47 236.25,470.29 237,470.19 237.75,470.22 238.5,470.48 239.25,470.51 240,470.51 240.75,470.4 241.5,470.1 242.25,470.09 243,470.34 243.75,470.13 244.5,470.2 245.25,470.06 246,470.09 246.75,470.43 247.5,470.13 248.25,470.51 249,470.2 249.75,470.51 250.5,470.18 251.25,470.16 252,470.24 252.75,470.01 253.5,470.26 254.25,470.23 255,470.01 255.75,470.52 256.5,470.23 257.25,470 258,470.58 258.75,470.14 259.5,470.15 260.25,470.01 261,470.06 261.75,470.43 262.5,470.35 263.25,470.3 264,470.15 264.75,470.17 265.5,470.58 266.25,470.22 267,470.59 267.75,470.53 268.5,470.07 269.25,470.51 270,470.01 270.75,470.43 271.5,470.49 272.25,470.42 273,470.33 273.75,470.49 274.5,470.09 275.25,470.32 276,470.16 276.75,470.24 277.5,470.11 278.25,470.42 279,470.34 279.75,470.47 280.5,470.38 281.25,470.36 282,470.54 282.75,470.34 283.5,469.42 284.25,467 285,464.31 285.5,463.12 285.75,463.09 286.5,464.5 287.25,466.63 288,468.41 288.75,469.24 289.5,469.72 290.25,470.07 291,470.06 291.75,469.92 292.5,469.97 293.25,470.19 294,469.96 294.75,469.86 295.5,470.19 296.25,470.33 297,470.01 297.75,470.29 298.5,470.43 299.25,469.98 300,470 300.75,470.23 301.5,470.14 302.25,470.52 303,470.55 303.75,470.23 304.5,470.44 305.25,470.35 306,470.08 306.75,470.56 307.5,470.08 308.25,470.03 309,470.25 309.75,470 310.5,470.27 311.25,470.23 312,470.56 312.75,470.24 313.5,470.5 314.25,470.46 315,470.34 315.75,470.14 316.5,470.18 317.25,470.29 318,470.23 318.75,470.38 319.5,470.3 320.25,470.19 321,470.36 321.75,470.59 322.5,470.08 323.25,469.92 324,468.86 324.75,467.35 325.5,466.43 326.25,467.08 327,468.25 327.75,469.08 328.5,469.86 329.25,470.09 330,470.07 330.75,470.12 331.5,469.81 332.25,470.06 333,470.01 333.75,470.24 334.5,469.92 335.25,470.22 336,470.13 336.75,470.21 337.5,470.17 338.25,470 339,470.38 339.75,470.43 340.5,470.31 341.25,470.02 342,470.32 342.75,470.48 343.5,470.56 344.25,470.42 345,470 345.75,470.5 346.5,470.37 347.25,470.14 348,470.52 348.75,470.47 349.5,470.51 350.25,470.12 351,470.32 351.75,470.2 352.5,470.15 353.25,470.43 354,470.34 354.75,470.17 355.5,470.29 356.25,470.53 357,470.31 357.75,470.51 358.5,470.3 359.25,470.56 360,469.98 360.75,470.24 361.5,470.29 362.25,470.39 363,470.54 363.75,470.33 364.5,470.24 365.25,470.33 366,470.27 366.75,470.37 367.5,470.51 368.25,469.95 369,470.13 369.75,470.46 370.5,469.97 371.25,470.41 372,469.95 372.75,470.32 373.5,470.41 374.25,470.07 375,470.15 375.75,470.05 376.5,470.34 377.25,470.23 378,470.27 378.75,470.1 379.5,470.25 380.25,470.47 381,470.36 381.75,470.46 382.5,470.03 383.25,470.19 384,470.11 384.75,470.08 385.5,470.35 386.25,469.97 387,470.2 387.75,470.32 388.5,470.41 389.25,469.86 390,470 390.75,470.13 391.5,470.39 392.25,469.92 393,470.33 393.75,470.05 394.5,470.14 395.25,470.36 396,469.84 396.75,469.99 397.5,469.88 398.25,469.86 399,469.95 399.75,470.18 400.5,470.23 401.25,469.26 402,470.68 402.75,470.05 403.5,469.28 404.25,470.69 405,470.69 405.75,469.41 406.5,470.92 407.25,470.64 408,469.41 408.75,468.92 409.5,470.73 410.25,470.64 411,469.1 411.75,470.49 412.5,470.5 413.25,470.2 414,470.61 414.75,470.92 415.5,469.53 416.25,470.58 417,470.75 417.75,469.46 418.5,470.23 419.25,470.22 420,470.53 420.75,469.79 421.5,468.74 422.25,467.83 423,467.49 423.6,466.3 423.75,467.84 424.5,468.19 425.25,467.38 426,468.92 426.75,469.33 427.5,468.46 428.25,469.99 429,470.03 429.75,469.09 430.5,468.67 431.25,469.06 432,470.09 432.75,469.44 433.5,470.17 434.25,468.79 435,468.68 435.75,469.18 436.5,470.29 437.25,468.78 438,468.58 438.75,470 439.5,468.6 440.25,469.8 441,468.57 441.75,468.9 442.5,469.76 443.25,470.19 444,469.21 444.75,469.28 445.5,468.39 446.25,469.03 447,468.81 447.75,469.94 448.5,469.77 449.25,469.91 450,469.37 450.75,469.71 451.5,468.49 452.25,469.02 453,468.81 453.75,468.78 454.5,469.72 455.25,468.61 456,468.83 456.75,468.73 457.5,469.94 458.25,469.45 459,469.11 459.75,468.88 460.5,470.01 461.25,470.03 462,468.97 462.75,469.01 463.5,468.58 464.25,464.53 465,461.26 465.4,460.31 465.75,461.4 466.5,463.51 467.25,464.35 468,466.67 468.75,468.85 469.5,468.23 470.25,468.2 471,469.24 471.75,469.4 472.5,468.35 473.25,467.86 474,468.96 474.75,469.2 475.5,469.61 476.25,469.07 477,468.34 477.75,468.79 478.5,468.32 479.25,468.66 480,468.71 480.75,469.65 481.5,469.64 482.25,469.69 483,468.75 483.75,469.77 484.5,468.04 485.25,469.68 486,469.09 486.75,469.58 487.5,468.61 488.25,469.82 489,467.8 489.75,469.52 490.5,469.46 491.25,468.53 492,469.48 492.75,468.19 493.5,469.32 494.25,468.73 495,468.61 495.75,468.16 496.5,469.43 497.25,469.28 498,467.94 498.75,469.81 499.5,468.22 500.25,468.54 501,468.63 501.75,468.97 502.5,469.64 503.25,469.75 504,469.1 504.75,468.55 505.5,468.01 506.25,467.93 507,468.88 507.75,469.02 508.5,468.74 509.25,469.87 510,468.69 510.75,468.56 511.5,468.71 512.25,468.2 513,469.82 513.75,469.09 514.5,469 515.25,468.76 516,468.4 516.75,468.55 517.5,468.93 518.25,468.84 519,469.97 519.75,469.11 520.5,468.37 521.25,468.06 522,468.29 522.75,468.69 523.5,469.62 524.25,469.86 525,468.5 525.75,469.65 526.5,468.95 527.25,469.17 528,469.17 528.75,468.15 529.5,468.21 530.25,469.49 531,469.55 531.75,468.91 532.5,470.05 533.25,469.86 534,468.78 534.75,468.3 535.5,469.34 536.25,469.56 537,468.67 537.75,468.31 538.5,469.25 539.25,468.32 540,469.8 540.75,469.59 541.5,468.87 542.25,469.23 543,468.8 543.75,468.72 544.5,468.72 545.25,470.07 546,469.32 546.75,469.88 547.5,469.13 548.25,470.1 549,469.67 549.75,469.81 550.5,469.27 551.25,469.64 552,468.87 552.75,470.48 553.5,469.58 554.25,468.43 555,467.24 555.75,465.26 555.8,465.75 556.5,465.87 557.25,467.96 558,467.1 558.75,468.67 559.5,469.95 560.25,469.95 561,469.91 561.75,469.08 562.5,468.97 563.25,470 564,469.18 564.75,470.09 565.5,469.34 566.25,470.22 567,469.85 567.75,470.38 568.5,470.75 569.25,469.42 570,469.96 570.75,464.53 571.5,459.6 572.2,454.13 572.25,455.25 573,457.15 573.75,462.12 574.5,464.75 575.25,465.89 576,465.67 576.75,462.15 577.4,461.33 577.5,460.82 578.25,461.06 579,464.7 579.75,465.62 580.5,467.65 581.25,467.5 582,468.45 582.75,469.51 583.5,469.84 584.25,469.67 585,469.35 585.75,470.03 586.5,469.97 587.25,469.05 588,469.8 588.75,469.97 589.5,470.29 590.25,469.67 591,469.77 591.75,469.82 592.5,469.7 593.25,469.87 594,470.12 594.75,470.05 595.5,469.83 596.25,470.18 597,469.82 597.75,470.22 598.5,469.87 599.25,469.85 600,469.95 600.75,470.12 601.5,469.98 602.25,470.36 603,470.4 603.75,470.02 604.5,470.3 605.25,470.28 606,470.2 606.75,470.02 607.5,470.45 608.25,470.45 609,469.89 609.75,470.09 610.5,470.09 611.25,470.02 612,470.16 612.75,470.45 613.5,469.93 614.25,470.42 615,470.1 615.75,469.93 616.5,470.46 617.25,470.09 618,470.06 618.75,470 619.5,470.16 620.25,470.01 621,470.05 621.75,470.09 622.5,470.29 623.25,470.21 624,470.13 624.75,470.27 625.5,470.42 626.25,470.39 627,470.16 627.75,470.51 628.5,470.43 629.25,470.3 630,470.25 630.75,470.16 631.5,470.05 632.25,470.5 633,470.33 633.75,470.03 634.5,470.53 635.25,470.51 636,469.99 636.75,470.4 637.5,470.12 638.25,470.3 639,470.48 639.75,470.19 640.5,470.28 641.25,470.38 642,470.1 642.75,470.36 643.5,470.24 644.25,470.57 645,470.1 645.75,470.41 646.5,470.01 647.25,470.15 648,470.06 648.75,470.08 649.5,470.31 650.25,470.09 651,470.47 651.75,470.05 652.5,470.36 653.25,470.51 654,470.07 654.75,470.12 655.5,470.45 656.25,470.27 657,470.55 657.75,470.2 658.5,470.23 659.25,470.57 660,470.2 660.75,470.57 661.5,470.53 662.25,470.12 663,470.32 663.75,470.56 664.5,470.07 665.25,470.51 666,470.46 666.75,470.45 667.5,470.36 668.25,470.06 669,470.57 669.75,470.06 670.5,470.47 671.25,470.43 672,470.19 672.75,470.41 673.5,470.24 674.25,470.45 675,470.02 675.75,470.56 676.5,470.23 677.25,470.48 678,470.28 678.75,470.49"/>
<line x1="136.4" y1="326" x2="136.4" y2="473.2" stroke="#4477a6" stroke-width="0.85" stroke-dasharray="1.7,1.0"/>
<line x1="145.6" y1="326" x2="145.6" y2="473.2" stroke="#4477a6" stroke-width="0.85" stroke-dasharray="1.7,1.0"/>
<line x1="158" y1="326" x2="158" y2="473.2" stroke="#4477a6" stroke-width="0.85" stroke-dasharray="1.7,1.0"/>
<line x1="211.2" y1="326" x2="211.2" y2="473.2" stroke="#4477a6" stroke-width="0.85" stroke-dasharray="1.7,1.0"/>
<line x1="286.2" y1="326" x2="286.2" y2="473.2" stroke="#4477a6" stroke-width="0.85" stroke-dasharray="1.7,1.0"/>
<line x1="325.8" y1="326" x2="325.8" y2="473.2" stroke="#4477a6" stroke-width="0.85" stroke-dasharray="1.7,1.0"/>
<line x1="424" y1="326" x2="424" y2="473.2" stroke="#4477a6" stroke-width="0.85" stroke-dasharray="1.7,1.0"/>
<line x1="464.9" y1="326" x2="464.9" y2="473.2" stroke="#4477a6" stroke-width="0.85" stroke-dasharray="1.7,1.0"/>
<line x1="555.5" y1="326" x2="555.5" y2="473.2" stroke="#4477a6" stroke-width="0.85" stroke-dasharray="1.7,1.0"/>
<line x1="35.6" y1="262.7" x2="679.2" y2="262.7" stroke="#c8c8c8" stroke-width="1"/>
<line x1="679.2" y1="262.7" x2="679.2" y2="473.2" stroke="#444" stroke-width="1"/>
<line x1="35.6" y1="332.2" x2="679.2" y2="332.2" stroke="#222" stroke-width="1.4"/>
<line x1="35.6" y1="402.6" x2="679.2" y2="402.6" stroke="#222" stroke-width="1.4"/>
<line x1="35.6" y1="473.2" x2="679.2" y2="473.2" stroke="#444" stroke-width="1.2"/>
<line x1="35.6" y1="262.7" x2="35.6" y2="476.2" stroke="#9a9a9a" stroke-width="1"/>
<line x1="32.1" y1="329.7" x2="35.6" y2="329.7" stroke="#333" stroke-width="0.8"/>
<line x1="33.4" y1="325.88" x2="35.6" y2="325.88" stroke="#333" stroke-width="0.8"/>
<line x1="33.4" y1="322.06" x2="35.6" y2="322.06" stroke="#333" stroke-width="0.8"/>
<line x1="33.4" y1="318.24" x2="35.6" y2="318.24" stroke="#333" stroke-width="0.8"/>
<line x1="33.4" y1="314.42" x2="35.6" y2="314.42" stroke="#333" stroke-width="0.8"/>
<line x1="32.1" y1="310.6" x2="35.6" y2="310.6" stroke="#333" stroke-width="0.8"/>
<line x1="33.4" y1="306.78" x2="35.6" y2="306.78" stroke="#333" stroke-width="0.8"/>
<line x1="33.4" y1="302.96" x2="35.6" y2="302.96" stroke="#333" stroke-width="0.8"/>
<line x1="33.4" y1="299.14" x2="35.6" y2="299.14" stroke="#333" stroke-width="0.8"/>
<line x1="33.4" y1="295.32" x2="35.6" y2="295.32" stroke="#333" stroke-width="0.8"/>
<line x1="32.1" y1="291.5" x2="35.6" y2="291.5" stroke="#333" stroke-width="0.8"/>
<line x1="33.4" y1="287.68" x2="35.6" y2="287.68" stroke="#333" stroke-width="0.8"/>
<line x1="33.4" y1="283.86" x2="35.6" y2="283.86" stroke="#333" stroke-width="0.8"/>
<line x1="33.4" y1="280.04" x2="35.6" y2="280.04" stroke="#333" stroke-width="0.8"/>
<line x1="33.4" y1="276.22" x2="35.6" y2="276.22" stroke="#333" stroke-width="0.8"/>
<line x1="32.1" y1="272.4" x2="35.6" y2="272.4" stroke="#333" stroke-width="0.8"/>
<line x1="33.4" y1="268.58" x2="35.6" y2="268.58" stroke="#333" stroke-width="0.8"/>
<line x1="33.4" y1="264.76" x2="35.6" y2="264.76" stroke="#333" stroke-width="0.8"/>
<text x="28" y="339.9" font-size="10.3" font-weight="normal" text-anchor="end" fill="#000" stroke="#000" stroke-width="0.3">0</text>
<text x="28" y="320.8" font-size="10.3" font-weight="normal" text-anchor="end" fill="#000" stroke="#000" stroke-width="0.3">1</text>
<text x="28" y="302.4" font-size="10.3" font-weight="normal" text-anchor="end" fill="#000" stroke="#000" stroke-width="0.3">2</text>
<text x="28" y="283.4" font-size="10.3" font-weight="normal" text-anchor="end" fill="#000" stroke="#000" stroke-width="0.3">3</text>
<line x1="32.1" y1="400.3" x2="35.6" y2="400.3" stroke="#333" stroke-width="0.8"/>
<line x1="33.4" y1="396.44" x2="35.6" y2="396.44" stroke="#333" stroke-width="0.8"/>
<line x1="33.4" y1="392.58" x2="35.6" y2="392.58" stroke="#333" stroke-width="0.8"/>
<line x1="33.4" y1="388.72" x2="35.6" y2="388.72" stroke="#333" stroke-width="0.8"/>
<line x1="33.4" y1="384.86" x2="35.6" y2="384.86" stroke="#333" stroke-width="0.8"/>
<line x1="32.1" y1="381" x2="35.6" y2="381" stroke="#333" stroke-width="0.8"/>
<line x1="33.4" y1="377.14" x2="35.6" y2="377.14" stroke="#333" stroke-width="0.8"/>
<line x1="33.4" y1="373.28" x2="35.6" y2="373.28" stroke="#333" stroke-width="0.8"/>
<line x1="33.4" y1="369.42" x2="35.6" y2="369.42" stroke="#333" stroke-width="0.8"/>
<line x1="33.4" y1="365.56" x2="35.6" y2="365.56" stroke="#333" stroke-width="0.8"/>
<line x1="32.1" y1="361.7" x2="35.6" y2="361.7" stroke="#333" stroke-width="0.8"/>
<line x1="33.4" y1="357.84" x2="35.6" y2="357.84" stroke="#333" stroke-width="0.8"/>
<line x1="33.4" y1="353.98" x2="35.6" y2="353.98" stroke="#333" stroke-width="0.8"/>
<line x1="33.4" y1="350.12" x2="35.6" y2="350.12" stroke="#333" stroke-width="0.8"/>
<line x1="33.4" y1="346.26" x2="35.6" y2="346.26" stroke="#333" stroke-width="0.8"/>
<line x1="32.1" y1="342.4" x2="35.6" y2="342.4" stroke="#333" stroke-width="0.8"/>
<line x1="33.4" y1="338.54" x2="35.6" y2="338.54" stroke="#333" stroke-width="0.8"/>
<line x1="33.4" y1="334.68" x2="35.6" y2="334.68" stroke="#333" stroke-width="0.8"/>
<text x="28" y="409.1" font-size="10.3" font-weight="normal" text-anchor="end" fill="#000" stroke="#000" stroke-width="0.3">0</text>
<text x="28" y="390.3" font-size="10.3" font-weight="normal" text-anchor="end" fill="#000" stroke="#000" stroke-width="0.3">1</text>
<text x="28" y="371" font-size="10.3" font-weight="normal" text-anchor="end" fill="#000" stroke="#000" stroke-width="0.3">2</text>
<text x="28" y="351.7" font-size="10.3" font-weight="normal" text-anchor="end" fill="#000" stroke="#000" stroke-width="0.3">3</text>
<line x1="32.1" y1="471.1" x2="35.6" y2="471.1" stroke="#333" stroke-width="0.8"/>
<line x1="33.4" y1="467.18" x2="35.6" y2="467.18" stroke="#333" stroke-width="0.8"/>
<line x1="33.4" y1="463.26" x2="35.6" y2="463.26" stroke="#333" stroke-width="0.8"/>
<line x1="33.4" y1="459.34" x2="35.6" y2="459.34" stroke="#333" stroke-width="0.8"/>
<line x1="33.4" y1="455.42" x2="35.6" y2="455.42" stroke="#333" stroke-width="0.8"/>
<line x1="32.1" y1="451.5" x2="35.6" y2="451.5" stroke="#333" stroke-width="0.8"/>
<line x1="33.4" y1="447.58" x2="35.6" y2="447.58" stroke="#333" stroke-width="0.8"/>
<line x1="33.4" y1="443.66" x2="35.6" y2="443.66" stroke="#333" stroke-width="0.8"/>
<line x1="33.4" y1="439.74" x2="35.6" y2="439.74" stroke="#333" stroke-width="0.8"/>
<line x1="33.4" y1="435.82" x2="35.6" y2="435.82" stroke="#333" stroke-width="0.8"/>
<line x1="32.1" y1="431.9" x2="35.6" y2="431.9" stroke="#333" stroke-width="0.8"/>
<line x1="33.4" y1="427.98" x2="35.6" y2="427.98" stroke="#333" stroke-width="0.8"/>
<line x1="33.4" y1="424.06" x2="35.6" y2="424.06" stroke="#333" stroke-width="0.8"/>
<line x1="33.4" y1="420.14" x2="35.6" y2="420.14" stroke="#333" stroke-width="0.8"/>
<line x1="33.4" y1="416.22" x2="35.6" y2="416.22" stroke="#333" stroke-width="0.8"/>
<line x1="32.1" y1="412.3" x2="35.6" y2="412.3" stroke="#333" stroke-width="0.8"/>
<line x1="33.4" y1="408.38" x2="35.6" y2="408.38" stroke="#333" stroke-width="0.8"/>
<line x1="33.4" y1="404.46" x2="35.6" y2="404.46" stroke="#333" stroke-width="0.8"/>
<text x="28" y="478.4" font-size="10.3" font-weight="normal" text-anchor="end" fill="#000" stroke="#000" stroke-width="0.3">0</text>
<text x="28" y="459.6" font-size="10.3" font-weight="normal" text-anchor="end" fill="#000" stroke="#000" stroke-width="0.3">1</text>
<text x="28" y="440.3" font-size="10.3" font-weight="normal" text-anchor="end" fill="#000" stroke="#000" stroke-width="0.3">2</text>
<text x="28" y="421" font-size="10.3" font-weight="normal" text-anchor="end" fill="#000" stroke="#000" stroke-width="0.3">3</text>
<line x1="35.6" y1="473.2" x2="35.6" y2="476.4" stroke="#333" stroke-width="0.8"/>
<text x="35.6" y="486.4" font-size="10.2" font-weight="normal" text-anchor="middle" fill="#000" stroke="#000" stroke-width="0.4">4000</text>
<line x1="50.72" y1="473.2" x2="50.72" y2="475.5" stroke="#333" stroke-width="0.8"/>
<line x1="65.84" y1="473.2" x2="65.84" y2="475.5" stroke="#333" stroke-width="0.8"/>
<line x1="80.96" y1="473.2" x2="80.96" y2="475.5" stroke="#333" stroke-width="0.8"/>
<line x1="96.08" y1="473.2" x2="96.08" y2="475.5" stroke="#333" stroke-width="0.8"/>
<line x1="111.2" y1="473.2" x2="111.2" y2="476.4" stroke="#333" stroke-width="0.8"/>
<text x="111.2" y="486.4" font-size="10.2" font-weight="normal" text-anchor="middle" fill="#000" stroke="#000" stroke-width="0.4">4100</text>
<line x1="126.32" y1="473.2" x2="126.32" y2="475.5" stroke="#333" stroke-width="0.8"/>
<line x1="141.44" y1="473.2" x2="141.44" y2="475.5" stroke="#333" stroke-width="0.8"/>
<line x1="156.56" y1="473.2" x2="156.56" y2="475.5" stroke="#333" stroke-width="0.8"/>
<line x1="171.68" y1="473.2" x2="171.68" y2="475.5" stroke="#333" stroke-width="0.8"/>
<line x1="186.8" y1="473.2" x2="186.8" y2="476.4" stroke="#333" stroke-width="0.8"/>
<text x="186.8" y="486.4" font-size="10.2" font-weight="normal" text-anchor="middle" fill="#000" stroke="#000" stroke-width="0.4">4200</text>
<line x1="201.92" y1="473.2" x2="201.92" y2="475.5" stroke="#333" stroke-width="0.8"/>
<line x1="217.04" y1="473.2" x2="217.04" y2="475.5" stroke="#333" stroke-width="0.8"/>
<line x1="232.16" y1="473.2" x2="232.16" y2="475.5" stroke="#333" stroke-width="0.8"/>
<line x1="247.28" y1="473.2" x2="247.28" y2="475.5" stroke="#333" stroke-width="0.8"/>
<line x1="262.4" y1="473.2" x2="262.4" y2="476.4" stroke="#333" stroke-width="0.8"/>
<text x="262.4" y="486.4" font-size="10.2" font-weight="normal" text-anchor="middle" fill="#000" stroke="#000" stroke-width="0.4">4300</text>
<line x1="277.52" y1="473.2" x2="277.52" y2="475.5" stroke="#333" stroke-width="0.8"/>
<line x1="292.64" y1="473.2" x2="292.64" y2="475.5" stroke="#333" stroke-width="0.8"/>
<line x1="307.76" y1="473.2" x2="307.76" y2="475.5" stroke="#333" stroke-width="0.8"/>
<line x1="322.88" y1="473.2" x2="322.88" y2="475.5" stroke="#333" stroke-width="0.8"/>
<line x1="338" y1="473.2" x2="338" y2="476.4" stroke="#333" stroke-width="0.8"/>
<text x="338" y="486.4" font-size="10.2" font-weight="normal" text-anchor="middle" fill="#000" stroke="#000" stroke-width="0.4">4400</text>
<line x1="353.12" y1="473.2" x2="353.12" y2="475.5" stroke="#333" stroke-width="0.8"/>
<line x1="368.24" y1="473.2" x2="368.24" y2="475.5" stroke="#333" stroke-width="0.8"/>
<line x1="383.36" y1="473.2" x2="383.36" y2="475.5" stroke="#333" stroke-width="0.8"/>
<line x1="398.48" y1="473.2" x2="398.48" y2="475.5" stroke="#333" stroke-width="0.8"/>
<line x1="413.6" y1="473.2" x2="413.6" y2="476.4" stroke="#333" stroke-width="0.8"/>
<text x="413.6" y="486.4" font-size="10.2" font-weight="normal" text-anchor="middle" fill="#000" stroke="#000" stroke-width="0.4">4500</text>
<line x1="428.72" y1="473.2" x2="428.72" y2="475.5" stroke="#333" stroke-width="0.8"/>
<line x1="443.84" y1="473.2" x2="443.84" y2="475.5" stroke="#333" stroke-width="0.8"/>
<line x1="458.96" y1="473.2" x2="458.96" y2="475.5" stroke="#333" stroke-width="0.8"/>
<line x1="474.08" y1="473.2" x2="474.08" y2="475.5" stroke="#333" stroke-width="0.8"/>
<line x1="489.2" y1="473.2" x2="489.2" y2="476.4" stroke="#333" stroke-width="0.8"/>
<text x="489.2" y="486.4" font-size="10.2" font-weight="normal" text-anchor="middle" fill="#000" stroke="#000" stroke-width="0.4">4600</text>
<line x1="504.32" y1="473.2" x2="504.32" y2="475.5" stroke="#333" stroke-width="0.8"/>
<line x1="519.44" y1="473.2" x2="519.44" y2="475.5" stroke="#333" stroke-width="0.8"/>
<line x1="534.56" y1="473.2" x2="534.56" y2="475.5" stroke="#333" stroke-width="0.8"/>
<line x1="549.68" y1="473.2" x2="549.68" y2="475.5" stroke="#333" stroke-width="0.8"/>
<line x1="564.8" y1="473.2" x2="564.8" y2="476.4" stroke="#333" stroke-width="0.8"/>
<text x="564.8" y="486.4" font-size="10.2" font-weight="normal" text-anchor="middle" fill="#000" stroke="#000" stroke-width="0.4">4700</text>
<line x1="579.92" y1="473.2" x2="579.92" y2="475.5" stroke="#333" stroke-width="0.8"/>
<line x1="595.04" y1="473.2" x2="595.04" y2="475.5" stroke="#333" stroke-width="0.8"/>
<line x1="610.16" y1="473.2" x2="610.16" y2="475.5" stroke="#333" stroke-width="0.8"/>
<line x1="625.28" y1="473.2" x2="625.28" y2="475.5" stroke="#333" stroke-width="0.8"/>
<line x1="640.4" y1="473.2" x2="640.4" y2="476.4" stroke="#333" stroke-width="0.8"/>
<text x="640.4" y="486.4" font-size="10.2" font-weight="normal" text-anchor="middle" fill="#000" stroke="#000" stroke-width="0.4">4800</text>
<line x1="655.52" y1="473.2" x2="655.52" y2="475.5" stroke="#333" stroke-width="0.8"/>
<line x1="670.64" y1="473.2" x2="670.64" y2="475.5" stroke="#333" stroke-width="0.8"/>
<text x="339.4" y="497" font-size="12" font-weight="bold" text-anchor="middle" fill="#000">m/z</text>
<text x="10.9" y="366" font-size="13.2" font-weight="normal" text-anchor="middle" fill="#000" transform="rotate(-90 10.9 366)" dominant-baseline="central" stroke="#000" stroke-width="0.3">Peak intensity X10^4 (a.u)</text>
<text x="39.9" y="278.6" font-size="13.2" font-weight="normal" text-anchor="start" fill="#000" stroke="#000" stroke-width="0.32">PAβ V 1.0</text>
<text x="39.8" y="348" font-size="13.2" font-weight="normal" text-anchor="start" fill="#000" stroke="#000" stroke-width="0.32">PAβ V 2.0</text>
<text x="39.3" y="418.6" font-size="13.2" font-weight="normal" text-anchor="start" fill="#000" stroke="#000" stroke-width="0.32">PAβ V 1.0 w/ 1IP</text>
<text x="99.2" y="303.6" font-size="13.5" font-weight="normal" text-anchor="start" fill="#000">Aβ1-38</text>
<text x="145.9" y="286.5" font-size="13.5" font-weight="normal" text-anchor="start" fill="#000">Aβ3-40</text>
<text x="166.7" y="309.9" font-size="13.5" font-weight="normal" text-anchor="start" fill="#000">Aβ1-38 IS</text>
<text x="235" y="302.9" font-size="13.5" font-weight="normal" text-anchor="start" fill="#000">Aβ1-39</text>
<text x="253.2" y="279.1" font-size="13.5" font-weight="normal" text-anchor="start" fill="#000">Aβ1-40</text>
<text x="336.6" y="302.9" font-size="13.5" font-weight="normal" text-anchor="start" fill="#000">Aβ1-40 IS</text>
<text x="429.4" y="297" font-size="13.5" font-weight="normal" text-anchor="start" fill="#000">Aβ1-42</text>
<text x="478.4" y="307.6" font-size="13.5" font-weight="normal" text-anchor="start" fill="#000">Aβ1-42 IS</text>
<text x="546.2" y="307.7" font-size="13.5" font-weight="normal" text-anchor="start" fill="#000">APP669-711</text>
<text x="155.3" y="460.7" font-size="13.5" font-weight="normal" text-anchor="start" fill="#000">Interference peak</text>
<text x="549.1" y="443.9" font-size="13.5" font-weight="normal" text-anchor="start" fill="#000">Interference peak</text>
<text x="493.4" y="277.2" font-size="12" font-weight="normal" text-anchor="start" fill="#000">X5</text>
<line x1="122" y1="306.4" x2="134.9" y2="315.7" stroke="#2a6892" stroke-width="1"/>
<line x1="167.6" y1="289.6" x2="144.2" y2="325" stroke="#2a6892" stroke-width="1"/>
<line x1="196.8" y1="313.4" x2="161.8" y2="323.2" stroke="#2a6892" stroke-width="1"/>
<line x1="256.9" y1="305.9" x2="215.5" y2="323.2" stroke="#2a6892" stroke-width="1"/>
<line x1="278.9" y1="276" x2="284.2" y2="284.9" stroke="#2a6892" stroke-width="1"/>
<line x1="367.6" y1="305.9" x2="331" y2="315.7" stroke="#2a6892" stroke-width="1"/>
<line x1="440.1" y1="299.4" x2="426.5" y2="310.6" stroke="#2a6892" stroke-width="1"/>
<line x1="500.3" y1="310.4" x2="470" y2="317.6" stroke="#2a6892" stroke-width="1"/>
<line x1="567.5" y1="307.7" x2="560.8" y2="319.8" stroke="#2a6892" stroke-width="1"/>
<line x1="167.7" y1="456.3" x2="152.6" y2="466" stroke="#2a6892" stroke-width="1"/>
<line x1="592.4" y1="448.2" x2="578.2" y2="456" stroke="#2a6892" stroke-width="1"/>
<line x1="408.1" y1="271.4" x2="486.8" y2="271.4" stroke="#555" stroke-width="1"/>
<line x1="408.1" y1="268.3" x2="408.1" y2="274.9" stroke="#555" stroke-width="1"/>
<line x1="516" y1="271.4" x2="587" y2="271.4" stroke="#555" stroke-width="1"/>
<line x1="587" y1="267.2" x2="587" y2="275.3" stroke="#555" stroke-width="1"/>
<text x="1" y="518" font-size="16.5" font-weight="normal" text-anchor="start" fill="#000">B)</text>
<text x="82.8" y="520.2" font-size="11" font-weight="bold" text-anchor="middle" fill="#111">Aβ1-38</text>
<line x1="26.6" y1="535.3" x2="26.6" y2="663.2" stroke="#8c8c8c" stroke-width="1"/>
<line x1="26.6" y1="663.2" x2="138" y2="663.2" stroke="#8c8c8c" stroke-width="1"/>
<line x1="24.4" y1="657.9" x2="26.6" y2="657.9" stroke="#8c8c8c" stroke-width="0.9"/>
<text x="23.6" y="661.7" font-size="10.7" font-weight="bold" text-anchor="end" fill="#444444" stroke="#444444" stroke-width="0.15">0</text>
<line x1="24.4" y1="628.7" x2="26.6" y2="628.7" stroke="#8c8c8c" stroke-width="0.9"/>
<text x="23.6" y="632.5" font-size="10.7" font-weight="bold" text-anchor="end" fill="#444444" stroke="#444444" stroke-width="0.15">10</text>
<line x1="24.4" y1="599.5" x2="26.6" y2="599.5" stroke="#8c8c8c" stroke-width="0.9"/>
<text x="23.6" y="603.3" font-size="10.7" font-weight="bold" text-anchor="end" fill="#444444" stroke="#444444" stroke-width="0.15">20</text>
<line x1="24.4" y1="570.3" x2="26.6" y2="570.3" stroke="#8c8c8c" stroke-width="0.9"/>
<text x="23.6" y="574.1" font-size="10.7" font-weight="bold" text-anchor="end" fill="#444444" stroke="#444444" stroke-width="0.15">30</text>
<line x1="24.4" y1="541.1" x2="26.6" y2="541.1" stroke="#8c8c8c" stroke-width="0.9"/>
<text x="23.6" y="544.9" font-size="10.7" font-weight="bold" text-anchor="end" fill="#444444" stroke="#444444" stroke-width="0.15">40</text>
<line x1="47.5" y1="663.2" x2="47.5" y2="665.4" stroke="#8c8c8c" stroke-width="0.9"/>
<line x1="82.5" y1="663.2" x2="82.5" y2="665.4" stroke="#8c8c8c" stroke-width="0.9"/>
<line x1="117.5" y1="663.2" x2="117.5" y2="665.4" stroke="#8c8c8c" stroke-width="0.9"/>
<text x="5.5" y="599.75" font-size="10.5" font-weight="bold" text-anchor="middle" fill="#111" transform="rotate(-90 5.5 599.75)" dominant-baseline="central">S/N</text>
<text x="0" y="0" font-size="10.25" font-weight="bold" word-spacing="-1.1" text-anchor="end" fill="#444444" stroke="#444" stroke-width="0.25" transform="translate(56.8 671.2) rotate(-36)">PAβ V 1.0</text>
<text x="0" y="0" font-size="10.25" font-weight="bold" word-spacing="-1.1" text-anchor="end" fill="#444444" stroke="#444" stroke-width="0.25" transform="translate(91.8 671.2) rotate(-36)">PAβ V 2.0</text>
<text x="0" y="0" font-size="10.25" font-weight="bold" word-spacing="-1.1" text-anchor="end" fill="#444444" stroke="#444" stroke-width="0.25" transform="translate(126.8 671.2) rotate(-36)">PAβ V 1.0 w/ 1IP</text>
<line x1="45" y1="538.2" x2="124.4" y2="538.2" stroke="#1a1a1a" stroke-width="1.7"/>
<line x1="44.3" y1="548.1" x2="83.1" y2="548.1" stroke="#1a1a1a" stroke-width="1.7"/>
<line x1="85.3" y1="548.1" x2="124.1" y2="548.1" stroke="#1a1a1a" stroke-width="1.7"/>
<polygon points="81.4,531.05 82.05,533.31 84.4,533.23 82.45,534.54 83.25,536.75 81.4,535.3 79.55,536.75 80.35,534.54 78.4,533.23 80.75,533.31" fill="#222"/>
<polygon points="88,531.05 88.65,533.31 91,533.23 89.05,534.54 89.85,536.75 88,535.3 86.15,536.75 86.95,534.54 85,533.23 87.35,533.31" fill="#222"/>
<polygon points="60.4,540.95 61.05,543.21 63.4,543.13 61.45,544.44 62.25,546.65 60.4,545.2 58.55,546.65 59.35,544.44 57.4,543.13 59.75,543.21" fill="#222"/>
<polygon points="67,540.95 67.65,543.21 70,543.13 68.05,544.44 68.85,546.65 67,545.2 65.15,546.65 65.95,544.44 64,543.13 66.35,543.21" fill="#222"/>
<polygon points="101.4,540.95 102.05,543.21 104.4,543.13 102.45,544.44 103.25,546.65 101.4,545.2 99.55,546.65 100.35,544.44 98.4,543.13 100.75,543.21" fill="#222"/>
<polygon points="108,540.95 108.65,543.21 111,543.13 109.05,544.44 109.85,546.65 108,545.2 106.15,546.65 106.95,544.44 105,543.13 107.35,543.21" fill="#222"/>
<line x1="42.3" y1="595.7" x2="52.7" y2="595.7" stroke="#8f8f8f" stroke-width="1.1"/>
<line x1="42.3" y1="626.66" x2="52.7" y2="626.66" stroke="#8f8f8f" stroke-width="1.1"/>
<line x1="77.3" y1="562.71" x2="87.7" y2="562.71" stroke="#8f8f8f" stroke-width="1.1"/>
<line x1="77.3" y1="579.06" x2="87.7" y2="579.06" stroke="#8f8f8f" stroke-width="1.1"/>
<line x1="112.3" y1="638.34" x2="122.7" y2="638.34" stroke="#8f8f8f" stroke-width="1.1"/>
<line x1="112.3" y1="645.34" x2="122.7" y2="645.34" stroke="#8f8f8f" stroke-width="1.1"/>
<circle cx="49.8" cy="587.8" r="2.2" fill="#f99a5a" fill-opacity="0.78"/>
<circle cx="44.6" cy="608.3" r="2.2" fill="#f99a5a" fill-opacity="0.78"/>
<circle cx="48" cy="610.2" r="2.2" fill="#f99a5a" fill-opacity="0.78"/>
<circle cx="47.2" cy="617.3" r="2.2" fill="#f99a5a" fill-opacity="0.78"/>
<circle cx="44" cy="630.6" r="2.2" fill="#f99a5a" fill-opacity="0.78"/>
<circle cx="83.8" cy="556.8" r="2.2" fill="#6b8cf8" fill-opacity="0.78"/>
<circle cx="79.7" cy="569.7" r="2.2" fill="#6b8cf8" fill-opacity="0.78"/>
<circle cx="81.3" cy="576.2" r="2.2" fill="#6b8cf8" fill-opacity="0.78"/>
<circle cx="85.8" cy="574.8" r="2.2" fill="#6b8cf8" fill-opacity="0.78"/>
<circle cx="117.5" cy="637.8" r="2.2" fill="#ef45ef" fill-opacity="0.78"/>
<circle cx="114.4" cy="639.9" r="2.2" fill="#ef45ef" fill-opacity="0.78"/>
<circle cx="118.5" cy="642.9" r="2.2" fill="#ef45ef" fill-opacity="0.78"/>
<circle cx="117.5" cy="646.6" r="2.2" fill="#ef45ef" fill-opacity="0.78"/>
<line x1="47.5" y1="595.7" x2="47.5" y2="626.66" stroke="#505050" stroke-width="1"/>
<line x1="44.1" y1="611.18" x2="50.9" y2="611.18" stroke="#3a3a3a" stroke-width="1"/>
<line x1="82.5" y1="562.71" x2="82.5" y2="579.06" stroke="#505050" stroke-width="1"/>
<line x1="79.1" y1="570.88" x2="85.9" y2="570.88" stroke="#3a3a3a" stroke-width="1"/>
<line x1="117.5" y1="638.34" x2="117.5" y2="645.34" stroke="#505050" stroke-width="1"/>
<line x1="114.1" y1="641.84" x2="120.9" y2="641.84" stroke="#3a3a3a" stroke-width="1"/>
<text x="224.6" y="520.4" font-size="11" font-weight="bold" text-anchor="middle" fill="#111">APP669-711</text>
<line x1="168" y1="535.8" x2="168" y2="663.2" stroke="#8c8c8c" stroke-width="1"/>
<line x1="168" y1="663.2" x2="280" y2="663.2" stroke="#8c8c8c" stroke-width="1"/>
<line x1="165.8" y1="657.9" x2="168" y2="657.9" stroke="#8c8c8c" stroke-width="0.9"/>
<text x="165" y="661.7" font-size="10.7" font-weight="bold" text-anchor="end" fill="#444444" stroke="#444444" stroke-width="0.15">0</text>
<line x1="165.8" y1="628.7" x2="168" y2="628.7" stroke="#8c8c8c" stroke-width="0.9"/>
<text x="165" y="632.5" font-size="10.7" font-weight="bold" text-anchor="end" fill="#444444" stroke="#444444" stroke-width="0.15">2</text>
<line x1="165.8" y1="599.5" x2="168" y2="599.5" stroke="#8c8c8c" stroke-width="0.9"/>
<text x="165" y="603.3" font-size="10.7" font-weight="bold" text-anchor="end" fill="#444444" stroke="#444444" stroke-width="0.15">5</text>
<line x1="165.8" y1="570.3" x2="168" y2="570.3" stroke="#8c8c8c" stroke-width="0.9"/>
<text x="165" y="574.1" font-size="10.7" font-weight="bold" text-anchor="end" fill="#444444" stroke="#444444" stroke-width="0.15">7</text>
<line x1="165.8" y1="541.1" x2="168" y2="541.1" stroke="#8c8c8c" stroke-width="0.9"/>
<text x="165" y="544.9" font-size="10.7" font-weight="bold" text-anchor="end" fill="#444444" stroke="#444444" stroke-width="0.15">10</text>
<line x1="189" y1="663.2" x2="189" y2="665.4" stroke="#8c8c8c" stroke-width="0.9"/>
<line x1="224.4" y1="663.2" x2="224.4" y2="665.4" stroke="#8c8c8c" stroke-width="0.9"/>
<line x1="259.6" y1="663.2" x2="259.6" y2="665.4" stroke="#8c8c8c" stroke-width="0.9"/>
<text x="147.4" y="600" font-size="10.5" font-weight="bold" text-anchor="middle" fill="#111" transform="rotate(-90 147.4 600)" dominant-baseline="central">S/N</text>
<text x="0" y="0" font-size="10.25" font-weight="bold" word-spacing="-1.1" text-anchor="end" fill="#444444" stroke="#444" stroke-width="0.25" transform="translate(198.3 671.2) rotate(-36)">PAβ V 1.0</text>
<text x="0" y="0" font-size="10.25" font-weight="bold" word-spacing="-1.1" text-anchor="end" fill="#444444" stroke="#444" stroke-width="0.25" transform="translate(233.7 671.2) rotate(-36)">PAβ V 2.0</text>
<text x="0" y="0" font-size="10.25" font-weight="bold" word-spacing="-1.1" text-anchor="end" fill="#444444" stroke="#444" stroke-width="0.25" transform="translate(268.9 671.2) rotate(-36)">PAβ V 1.0 w/ 1IP</text>
<line x1="187" y1="538.8" x2="270.2" y2="538.8" stroke="#1a1a1a" stroke-width="1.7"/>
<line x1="187" y1="548.6" x2="226.9" y2="548.6" stroke="#1a1a1a" stroke-width="1.7"/>
<line x1="229.3" y1="548.6" x2="270.2" y2="548.6" stroke="#1a1a1a" stroke-width="1.7"/>
<polygon points="228.6,531.65 229.25,533.91 231.6,533.83 229.65,535.14 230.45,537.35 228.6,535.9 226.75,537.35 227.55,535.14 225.6,533.83 227.95,533.91" fill="#222"/>
<polygon points="203.65,541.45 204.3,543.71 206.65,543.63 204.7,544.94 205.5,547.15 203.65,545.7 201.8,547.15 202.6,544.94 200.65,543.63 203,543.71" fill="#222"/>
<polygon points="210.25,541.45 210.9,543.71 213.25,543.63 211.3,544.94 212.1,547.15 210.25,545.7 208.4,547.15 209.2,544.94 207.25,543.63 209.6,543.71" fill="#222"/>
<polygon points="246.45,541.45 247.1,543.71 249.45,543.63 247.5,544.94 248.3,547.15 246.45,545.7 244.6,547.15 245.4,544.94 243.45,543.63 245.8,543.71" fill="#222"/>
<polygon points="253.05,541.45 253.7,543.71 256.05,543.63 254.1,544.94 254.9,547.15 253.05,545.7 251.2,547.15 252,544.94 250.05,543.63 252.4,543.71" fill="#222"/>
<line x1="183.8" y1="606.51" x2="194.2" y2="606.51" stroke="#8f8f8f" stroke-width="1.1"/>
<line x1="183.8" y1="625.2" x2="194.2" y2="625.2" stroke="#8f8f8f" stroke-width="1.1"/>
<line x1="219.2" y1="570.3" x2="229.6" y2="570.3" stroke="#8f8f8f" stroke-width="1.1"/>
<line x1="219.2" y1="579.64" x2="229.6" y2="579.64" stroke="#8f8f8f" stroke-width="1.1"/>
<line x1="254.4" y1="620.52" x2="264.8" y2="620.52" stroke="#8f8f8f" stroke-width="1.1"/>
<line x1="254.4" y1="639.21" x2="264.8" y2="639.21" stroke="#8f8f8f" stroke-width="1.1"/>
<circle cx="186" cy="600.6" r="2.2" fill="#f99a5a" fill-opacity="0.78"/>
<circle cx="188.6" cy="612.9" r="2.2" fill="#f99a5a" fill-opacity="0.78"/>
<circle cx="189" cy="618.2" r="2.2" fill="#f99a5a" fill-opacity="0.78"/>
<circle cx="191.1" cy="620" r="2.2" fill="#f99a5a" fill-opacity="0.78"/>
<circle cx="188.6" cy="623.7" r="2.2" fill="#f99a5a" fill-opacity="0.78"/>
<circle cx="222.8" cy="568.1" r="2.2" fill="#6b8cf8" fill-opacity="0.78"/>
<circle cx="225.8" cy="573.2" r="2.2" fill="#6b8cf8" fill-opacity="0.78"/>
<circle cx="223.8" cy="577.7" r="2.2" fill="#6b8cf8" fill-opacity="0.78"/>
<circle cx="227.5" cy="580.7" r="2.2" fill="#6b8cf8" fill-opacity="0.78"/>
<circle cx="259.1" cy="620.7" r="2.2" fill="#ef45ef" fill-opacity="0.78"/>
<circle cx="261" cy="623.7" r="2.2" fill="#ef45ef" fill-opacity="0.78"/>
<circle cx="261" cy="635.4" r="2.2" fill="#ef45ef" fill-opacity="0.78"/>
<circle cx="256.5" cy="642.7" r="2.2" fill="#ef45ef" fill-opacity="0.78"/>
<line x1="189" y1="606.51" x2="189" y2="625.2" stroke="#505050" stroke-width="1"/>
<line x1="185.6" y1="615.85" x2="192.4" y2="615.85" stroke="#3a3a3a" stroke-width="1"/>
<line x1="224.4" y1="570.3" x2="224.4" y2="579.64" stroke="#505050" stroke-width="1"/>
<line x1="221" y1="574.97" x2="227.8" y2="574.97" stroke="#3a3a3a" stroke-width="1"/>
<line x1="259.6" y1="620.52" x2="259.6" y2="639.21" stroke="#505050" stroke-width="1"/>
<line x1="256.2" y1="629.87" x2="263" y2="629.87" stroke="#3a3a3a" stroke-width="1"/>
<text x="369.4" y="520.4" font-size="11" font-weight="bold" text-anchor="middle" fill="#111">Aβ1-40</text>
<line x1="316.8" y1="535.8" x2="316.8" y2="663.2" stroke="#8c8c8c" stroke-width="1"/>
<line x1="316.8" y1="663.2" x2="422" y2="663.2" stroke="#8c8c8c" stroke-width="1"/>
<line x1="314.6" y1="657.9" x2="316.8" y2="657.9" stroke="#8c8c8c" stroke-width="0.9"/>
<text x="313.8" y="661.7" font-size="10.7" font-weight="bold" text-anchor="end" fill="#444444" stroke="#444444" stroke-width="0.15">0</text>
<line x1="314.6" y1="628.75" x2="316.8" y2="628.75" stroke="#8c8c8c" stroke-width="0.9"/>
<text x="313.8" y="632.55" font-size="10.7" font-weight="bold" text-anchor="end" fill="#444444" stroke="#444444" stroke-width="0.15">43</text>
<line x1="314.6" y1="599.6" x2="316.8" y2="599.6" stroke="#8c8c8c" stroke-width="0.9"/>
<text x="313.8" y="603.4" font-size="10.7" font-weight="bold" text-anchor="end" fill="#444444" stroke="#444444" stroke-width="0.15">87</text>
<line x1="314.6" y1="570.45" x2="316.8" y2="570.45" stroke="#8c8c8c" stroke-width="0.9"/>
<text x="313.8" y="574.25" font-size="10.7" font-weight="bold" text-anchor="end" fill="#444444" stroke="#444444" stroke-width="0.15">131</text>
<line x1="314.6" y1="541.3" x2="316.8" y2="541.3" stroke="#8c8c8c" stroke-width="0.9"/>
<text x="313.8" y="545.1" font-size="10.7" font-weight="bold" text-anchor="end" fill="#444444" stroke="#444444" stroke-width="0.15">175</text>
<line x1="336.3" y1="663.2" x2="336.3" y2="665.4" stroke="#8c8c8c" stroke-width="0.9"/>
<line x1="369.5" y1="663.2" x2="369.5" y2="665.4" stroke="#8c8c8c" stroke-width="0.9"/>
<line x1="402.6" y1="663.2" x2="402.6" y2="665.4" stroke="#8c8c8c" stroke-width="0.9"/>
<text x="288.7" y="600" font-size="10.5" font-weight="bold" text-anchor="middle" fill="#111" transform="rotate(-90 288.7 600)" dominant-baseline="central">S/N</text>
<text x="0" y="0" font-size="10.25" font-weight="bold" word-spacing="-1.1" text-anchor="end" fill="#444444" stroke="#444" stroke-width="0.25" transform="translate(345.6 671.2) rotate(-36)">PAβ V 1.0</text>
<text x="0" y="0" font-size="10.25" font-weight="bold" word-spacing="-1.1" text-anchor="end" fill="#444444" stroke="#444" stroke-width="0.25" transform="translate(378.8 671.2) rotate(-36)">PAβ V 2.0</text>
<text x="0" y="0" font-size="10.25" font-weight="bold" word-spacing="-1.1" text-anchor="end" fill="#444444" stroke="#444" stroke-width="0.25" transform="translate(411.9 671.2) rotate(-36)">PAβ V 1.0 w/ 1IP</text>
<line x1="331.5" y1="537.8" x2="410.8" y2="537.8" stroke="#1a1a1a" stroke-width="1.7"/>
<line x1="331.5" y1="548" x2="369.9" y2="548" stroke="#1a1a1a" stroke-width="1.7"/>
<line x1="372" y1="548" x2="410.8" y2="548" stroke="#1a1a1a" stroke-width="1.7"/>
<polygon points="367.85,530.65 368.5,532.91 370.85,532.83 368.9,534.14 369.7,536.35 367.85,534.9 366,536.35 366.8,534.14 364.85,532.83 367.2,532.91" fill="#222"/>
<polygon points="374.45,530.65 375.1,532.91 377.45,532.83 375.5,534.14 376.3,536.35 374.45,534.9 372.6,536.35 373.4,534.14 371.45,532.83 373.8,532.91" fill="#222"/>
<polygon points="347.4,540.85 348.05,543.11 350.4,543.03 348.45,544.34 349.25,546.55 347.4,545.1 345.55,546.55 346.35,544.34 344.4,543.03 346.75,543.11" fill="#222"/>
<polygon points="354,540.85 354.65,543.11 357,543.03 355.05,544.34 355.85,546.55 354,545.1 352.15,546.55 352.95,544.34 351,543.03 353.35,543.11" fill="#222"/>
<polygon points="388.1,540.85 388.75,543.11 391.1,543.03 389.15,544.34 389.95,546.55 388.1,545.1 386.25,546.55 387.05,544.34 385.1,543.03 387.45,543.11" fill="#222"/>
<polygon points="394.7,540.85 395.35,543.11 397.7,543.03 395.75,544.34 396.55,546.55 394.7,545.1 392.85,546.55 393.65,544.34 391.7,543.03 394.05,543.11" fill="#222"/>
<line x1="331.1" y1="594" x2="341.5" y2="594" stroke="#8f8f8f" stroke-width="1.1"/>
<line x1="331.1" y1="625.32" x2="341.5" y2="625.32" stroke="#8f8f8f" stroke-width="1.1"/>
<line x1="364.3" y1="557.36" x2="374.7" y2="557.36" stroke="#8f8f8f" stroke-width="1.1"/>
<line x1="364.3" y1="566.68" x2="374.7" y2="566.68" stroke="#8f8f8f" stroke-width="1.1"/>
<line x1="397.4" y1="638.44" x2="407.8" y2="638.44" stroke="#8f8f8f" stroke-width="1.1"/>
<line x1="397.4" y1="645.51" x2="407.8" y2="645.51" stroke="#8f8f8f" stroke-width="1.1"/>
<circle cx="336.2" cy="584.8" r="2.2" fill="#f99a5a" fill-opacity="0.78"/>
<circle cx="337.8" cy="607.4" r="2.2" fill="#f99a5a" fill-opacity="0.78"/>
<circle cx="339.3" cy="610" r="2.2" fill="#f99a5a" fill-opacity="0.78"/>
<circle cx="339.3" cy="616.2" r="2.2" fill="#f99a5a" fill-opacity="0.78"/>
<circle cx="334.8" cy="627.8" r="2.2" fill="#f99a5a" fill-opacity="0.78"/>
<circle cx="371.6" cy="553.5" r="2.2" fill="#6b8cf8" fill-opacity="0.78"/>
<circle cx="366.9" cy="562.3" r="2.2" fill="#6b8cf8" fill-opacity="0.78"/>
<circle cx="368" cy="563.8" r="2.2" fill="#6b8cf8" fill-opacity="0.78"/>
<circle cx="372" cy="564.4" r="2.2" fill="#6b8cf8" fill-opacity="0.78"/>
<circle cx="398.9" cy="639.5" r="2.2" fill="#ef45ef" fill-opacity="0.78"/>
<circle cx="402.2" cy="638" r="2.2" fill="#ef45ef" fill-opacity="0.78"/>
<circle cx="404.3" cy="646.2" r="2.2" fill="#ef45ef" fill-opacity="0.78"/>
<circle cx="401" cy="640.5" r="2.2" fill="#ef45ef" fill-opacity="0.78"/>
<line x1="336.3" y1="594" x2="336.3" y2="625.32" stroke="#505050" stroke-width="1"/>
<line x1="332.9" y1="609.66" x2="339.7" y2="609.66" stroke="#3a3a3a" stroke-width="1"/>
<line x1="369.5" y1="557.36" x2="369.5" y2="566.68" stroke="#505050" stroke-width="1"/>
<line x1="366.1" y1="562.02" x2="372.9" y2="562.02" stroke="#3a3a3a" stroke-width="1"/>
<line x1="402.6" y1="638.44" x2="402.6" y2="645.51" stroke="#505050" stroke-width="1"/>
<line x1="399.2" y1="641.98" x2="406" y2="641.98" stroke="#3a3a3a" stroke-width="1"/>
<text x="82.8" y="739.2" font-size="11" font-weight="bold" text-anchor="middle" fill="#111">Aβ1-42</text>
<line x1="26.6" y1="753.5" x2="26.6" y2="881.1" stroke="#8c8c8c" stroke-width="1"/>
<line x1="26.6" y1="881.1" x2="138.6" y2="881.1" stroke="#8c8c8c" stroke-width="1"/>
<line x1="24.4" y1="875.8" x2="26.6" y2="875.8" stroke="#8c8c8c" stroke-width="0.9"/>
<text x="23.6" y="879.6" font-size="10.7" font-weight="bold" text-anchor="end" fill="#444444" stroke="#444444" stroke-width="0.15">0</text>
<line x1="24.4" y1="846.7" x2="26.6" y2="846.7" stroke="#8c8c8c" stroke-width="0.9"/>
<text x="23.6" y="850.5" font-size="10.7" font-weight="bold" text-anchor="end" fill="#444444" stroke="#444444" stroke-width="0.15">3</text>
<line x1="24.4" y1="817.6" x2="26.6" y2="817.6" stroke="#8c8c8c" stroke-width="0.9"/>
<text x="23.6" y="821.4" font-size="10.7" font-weight="bold" text-anchor="end" fill="#444444" stroke="#444444" stroke-width="0.15">7</text>
<line x1="24.4" y1="788.5" x2="26.6" y2="788.5" stroke="#8c8c8c" stroke-width="0.9"/>
<text x="23.6" y="792.3" font-size="10.7" font-weight="bold" text-anchor="end" fill="#444444" stroke="#444444" stroke-width="0.15">11</text>
<line x1="24.4" y1="759.4" x2="26.6" y2="759.4" stroke="#8c8c8c" stroke-width="0.9"/>
<text x="23.6" y="763.2" font-size="10.7" font-weight="bold" text-anchor="end" fill="#444444" stroke="#444444" stroke-width="0.15">15</text>
<line x1="47.5" y1="881.1" x2="47.5" y2="883.3" stroke="#8c8c8c" stroke-width="0.9"/>
<line x1="82.5" y1="881.1" x2="82.5" y2="883.3" stroke="#8c8c8c" stroke-width="0.9"/>
<line x1="117.5" y1="881.1" x2="117.5" y2="883.3" stroke="#8c8c8c" stroke-width="0.9"/>
<text x="5.5" y="817.8" font-size="10.5" font-weight="bold" text-anchor="middle" fill="#111" transform="rotate(-90 5.5 817.8)" dominant-baseline="central">S/N</text>
<text x="0" y="0" font-size="10.25" font-weight="bold" word-spacing="-1.1" text-anchor="end" fill="#444444" stroke="#444" stroke-width="0.25" transform="translate(56.8 889.1) rotate(-36)">PAβ V 1.0</text>
<text x="0" y="0" font-size="10.25" font-weight="bold" word-spacing="-1.1" text-anchor="end" fill="#444444" stroke="#444" stroke-width="0.25" transform="translate(91.8 889.1) rotate(-36)">PAβ V 2.0</text>
<text x="0" y="0" font-size="10.25" font-weight="bold" word-spacing="-1.1" text-anchor="end" fill="#444444" stroke="#444" stroke-width="0.25" transform="translate(126.8 889.1) rotate(-36)">PAβ V 1.0 w/ 1IP</text>
<line x1="42.9" y1="757" x2="122.6" y2="757" stroke="#1a1a1a" stroke-width="1.7"/>
<line x1="42.9" y1="766.8" x2="81.3" y2="766.8" stroke="#1a1a1a" stroke-width="1.7"/>
<line x1="83.4" y1="766.8" x2="122.6" y2="766.8" stroke="#1a1a1a" stroke-width="1.7"/>
<polygon points="79.45,749.85 80.1,752.11 82.45,752.03 80.5,753.34 81.3,755.55 79.45,754.1 77.6,755.55 78.4,753.34 76.45,752.03 78.8,752.11" fill="#222"/>
<polygon points="86.05,749.85 86.7,752.11 89.05,752.03 87.1,753.34 87.9,755.55 86.05,754.1 84.2,755.55 85,753.34 83.05,752.03 85.4,752.11" fill="#222"/>
<polygon points="58.8,759.65 59.45,761.91 61.8,761.83 59.85,763.14 60.65,765.35 58.8,763.9 56.95,765.35 57.75,763.14 55.8,761.83 58.15,761.91" fill="#222"/>
<polygon points="65.4,759.65 66.05,761.91 68.4,761.83 66.45,763.14 67.25,765.35 65.4,763.9 63.55,765.35 64.35,763.14 62.4,761.83 64.75,761.91" fill="#222"/>
<polygon points="99.7,759.65 100.35,761.91 102.7,761.83 100.75,763.14 101.55,765.35 99.7,763.9 97.85,765.35 98.65,763.14 96.7,761.83 99.05,761.91" fill="#222"/>
<polygon points="106.3,759.65 106.95,761.91 109.3,761.83 107.35,763.14 108.15,765.35 106.3,763.9 104.45,765.35 105.25,763.14 103.3,761.83 105.65,761.91" fill="#222"/>
<line x1="42.3" y1="822.26" x2="52.7" y2="822.26" stroke="#8f8f8f" stroke-width="1.1"/>
<line x1="42.3" y1="843.98" x2="52.7" y2="843.98" stroke="#8f8f8f" stroke-width="1.1"/>
<line x1="77.3" y1="798.98" x2="87.7" y2="798.98" stroke="#8f8f8f" stroke-width="1.1"/>
<line x1="77.3" y1="805.18" x2="87.7" y2="805.18" stroke="#8f8f8f" stroke-width="1.1"/>
<line x1="112.3" y1="860.28" x2="122.7" y2="860.28" stroke="#8f8f8f" stroke-width="1.1"/>
<line x1="112.3" y1="866.49" x2="122.7" y2="866.49" stroke="#8f8f8f" stroke-width="1.1"/>
<circle cx="48.6" cy="815.7" r="2.2" fill="#f99a5a" fill-opacity="0.78"/>
<circle cx="50.1" cy="832.5" r="2.2" fill="#f99a5a" fill-opacity="0.78"/>
<circle cx="43.9" cy="837.6" r="2.2" fill="#f99a5a" fill-opacity="0.78"/>
<circle cx="45" cy="846.8" r="2.2" fill="#f99a5a" fill-opacity="0.78"/>
<circle cx="81.3" cy="796.9" r="2.2" fill="#6b8cf8" fill-opacity="0.78"/>
<circle cx="80.1" cy="799.5" r="2.2" fill="#6b8cf8" fill-opacity="0.78"/>
<circle cx="85.8" cy="803" r="2.2" fill="#6b8cf8" fill-opacity="0.78"/>
<circle cx="78.7" cy="805.6" r="2.2" fill="#6b8cf8" fill-opacity="0.78"/>
<circle cx="114.9" cy="860.1" r="2.2" fill="#ef45ef" fill-opacity="0.78"/>
<circle cx="117.5" cy="862.7" r="2.2" fill="#ef45ef" fill-opacity="0.78"/>
<circle cx="116.1" cy="867.6" r="2.2" fill="#ef45ef" fill-opacity="0.78"/>
<circle cx="118" cy="864" r="2.2" fill="#ef45ef" fill-opacity="0.78"/>
<line x1="47.5" y1="822.26" x2="47.5" y2="843.98" stroke="#505050" stroke-width="1"/>
<line x1="44.1" y1="833.12" x2="50.9" y2="833.12" stroke="#3a3a3a" stroke-width="1"/>
<line x1="82.5" y1="798.98" x2="82.5" y2="805.18" stroke="#505050" stroke-width="1"/>
<line x1="79.1" y1="802.08" x2="85.9" y2="802.08" stroke="#3a3a3a" stroke-width="1"/>
<line x1="117.5" y1="860.28" x2="117.5" y2="866.49" stroke="#505050" stroke-width="1"/>
<line x1="114.1" y1="863.38" x2="120.9" y2="863.38" stroke="#3a3a3a" stroke-width="1"/>
<text x="224.1" y="739.4" font-size="11" font-weight="bold" text-anchor="middle" fill="#111">Aβ3-40</text>
<line x1="168" y1="753.3" x2="168" y2="881.1" stroke="#8c8c8c" stroke-width="1"/>
<line x1="168" y1="881.1" x2="280" y2="881.1" stroke="#8c8c8c" stroke-width="1"/>
<line x1="165.8" y1="875.6" x2="168" y2="875.6" stroke="#8c8c8c" stroke-width="0.9"/>
<text x="165" y="879.4" font-size="10.7" font-weight="bold" text-anchor="end" fill="#444444" stroke="#444444" stroke-width="0.15">0</text>
<line x1="165.8" y1="846.5" x2="168" y2="846.5" stroke="#8c8c8c" stroke-width="0.9"/>
<text x="165" y="850.3" font-size="10.7" font-weight="bold" text-anchor="end" fill="#444444" stroke="#444444" stroke-width="0.15">5</text>
<line x1="165.8" y1="817.4" x2="168" y2="817.4" stroke="#8c8c8c" stroke-width="0.9"/>
<text x="165" y="821.2" font-size="10.7" font-weight="bold" text-anchor="end" fill="#444444" stroke="#444444" stroke-width="0.15">10</text>
<line x1="165.8" y1="788.3" x2="168" y2="788.3" stroke="#8c8c8c" stroke-width="0.9"/>
<text x="165" y="792.1" font-size="10.7" font-weight="bold" text-anchor="end" fill="#444444" stroke="#444444" stroke-width="0.15">15</text>
<line x1="165.8" y1="759.2" x2="168" y2="759.2" stroke="#8c8c8c" stroke-width="0.9"/>
<text x="165" y="763" font-size="10.7" font-weight="bold" text-anchor="end" fill="#444444" stroke="#444444" stroke-width="0.15">20</text>
<line x1="189" y1="881.1" x2="189" y2="883.3" stroke="#8c8c8c" stroke-width="0.9"/>
<line x1="224.4" y1="881.1" x2="224.4" y2="883.3" stroke="#8c8c8c" stroke-width="0.9"/>
<line x1="259.6" y1="881.1" x2="259.6" y2="883.3" stroke="#8c8c8c" stroke-width="0.9"/>
<text x="147.4" y="817.7" font-size="10.5" font-weight="bold" text-anchor="middle" fill="#111" transform="rotate(-90 147.4 817.7)" dominant-baseline="central">S/N</text>
<text x="0" y="0" font-size="10.25" font-weight="bold" word-spacing="-1.1" text-anchor="end" fill="#444444" stroke="#444" stroke-width="0.25" transform="translate(198.3 889.1) rotate(-36)">PAβ V 1.0</text>
<text x="0" y="0" font-size="10.25" font-weight="bold" word-spacing="-1.1" text-anchor="end" fill="#444444" stroke="#444" stroke-width="0.25" transform="translate(233.7 889.1) rotate(-36)">PAβ V 2.0</text>
<text x="0" y="0" font-size="10.25" font-weight="bold" word-spacing="-1.1" text-anchor="end" fill="#444444" stroke="#444" stroke-width="0.25" transform="translate(268.9 889.1) rotate(-36)">PAβ V 1.0 w/ 1IP</text>
<line x1="184" y1="757.8" x2="263.6" y2="757.8" stroke="#1a1a1a" stroke-width="1.7"/>
<line x1="184" y1="768" x2="222.4" y2="768" stroke="#1a1a1a" stroke-width="1.7"/>
<line x1="224.4" y1="768" x2="263.6" y2="768" stroke="#1a1a1a" stroke-width="1.7"/>
<polygon points="220.5,750.65 221.15,752.91 223.5,752.83 221.55,754.14 222.35,756.35 220.5,754.9 218.65,756.35 219.45,754.14 217.5,752.83 219.85,752.91" fill="#222"/>
<polygon points="227.1,750.65 227.75,752.91 230.1,752.83 228.15,754.14 228.95,756.35 227.1,754.9 225.25,756.35 226.05,754.14 224.1,752.83 226.45,752.91" fill="#222"/>
<polygon points="199.9,760.85 200.55,763.11 202.9,763.03 200.95,764.34 201.75,766.55 199.9,765.1 198.05,766.55 198.85,764.34 196.9,763.03 199.25,763.11" fill="#222"/>
<polygon points="206.5,760.85 207.15,763.11 209.5,763.03 207.55,764.34 208.35,766.55 206.5,765.1 204.65,766.55 205.45,764.34 203.5,763.03 205.85,763.11" fill="#222"/>
<polygon points="240.7,760.85 241.35,763.11 243.7,763.03 241.75,764.34 242.55,766.55 240.7,765.1 238.85,766.55 239.65,764.34 237.7,763.03 240.05,763.11" fill="#222"/>
<polygon points="247.3,760.85 247.95,763.11 250.3,763.03 248.35,764.34 249.15,766.55 247.3,765.1 245.45,766.55 246.25,764.34 244.3,763.03 246.65,763.11" fill="#222"/>
<line x1="183.8" y1="815.65" x2="194.2" y2="815.65" stroke="#8f8f8f" stroke-width="1.1"/>
<line x1="183.8" y1="844.75" x2="194.2" y2="844.75" stroke="#8f8f8f" stroke-width="1.1"/>
<line x1="219.2" y1="790.63" x2="229.6" y2="790.63" stroke="#8f8f8f" stroke-width="1.1"/>
<line x1="219.2" y1="801.1" x2="229.6" y2="801.1" stroke="#8f8f8f" stroke-width="1.1"/>
<line x1="254.4" y1="875.6" x2="264.8" y2="875.6" stroke="#8f8f8f" stroke-width="1.1"/>
<line x1="254.4" y1="875.6" x2="264.8" y2="875.6" stroke="#8f8f8f" stroke-width="1.1"/>
<circle cx="192.1" cy="805.8" r="2.2" fill="#f99a5a" fill-opacity="0.78"/>
<circle cx="188" cy="828" r="2.2" fill="#f99a5a" fill-opacity="0.78"/>
<circle cx="192.1" cy="834.1" r="2.2" fill="#f99a5a" fill-opacity="0.78"/>
<circle cx="190.7" cy="836.6" r="2.2" fill="#f99a5a" fill-opacity="0.78"/>
<circle cx="188" cy="844.7" r="2.2" fill="#f99a5a" fill-opacity="0.78"/>
<circle cx="223.8" cy="786.8" r="2.2" fill="#6b8cf8" fill-opacity="0.78"/>
<circle cx="225.8" cy="794" r="2.2" fill="#6b8cf8" fill-opacity="0.78"/>
<circle cx="221.7" cy="797" r="2.2" fill="#6b8cf8" fill-opacity="0.78"/>
<circle cx="226.9" cy="799.3" r="2.2" fill="#6b8cf8" fill-opacity="0.78"/>
<circle cx="255.5" cy="875.4" r="2.2" fill="#ef45ef" fill-opacity="0.78"/>
<circle cx="258" cy="875.4" r="2.2" fill="#ef45ef" fill-opacity="0.78"/>
<circle cx="261" cy="875.4" r="2.2" fill="#ef45ef" fill-opacity="0.78"/>
<circle cx="263" cy="875.4" r="2.2" fill="#ef45ef" fill-opacity="0.78"/>
<line x1="189" y1="815.65" x2="189" y2="844.75" stroke="#505050" stroke-width="1"/>
<line x1="185.6" y1="830.2" x2="192.4" y2="830.2" stroke="#3a3a3a" stroke-width="1"/>
<line x1="224.4" y1="790.63" x2="224.4" y2="801.1" stroke="#505050" stroke-width="1"/>
<line x1="221" y1="795.87" x2="227.8" y2="795.87" stroke="#3a3a3a" stroke-width="1"/>
<line x1="259.6" y1="875.6" x2="259.6" y2="875.6" stroke="#505050" stroke-width="1"/>
<line x1="256.2" y1="875.6" x2="263" y2="875.6" stroke="#3a3a3a" stroke-width="1"/>
<text x="366" y="739.4" font-size="11" font-weight="bold" text-anchor="middle" fill="#111">Aβ1-39</text>
<line x1="310.2" y1="753.3" x2="310.2" y2="881.5" stroke="#8c8c8c" stroke-width="1"/>
<line x1="310.2" y1="881.5" x2="422" y2="881.5" stroke="#8c8c8c" stroke-width="1"/>
<line x1="308" y1="875.8" x2="310.2" y2="875.8" stroke="#8c8c8c" stroke-width="0.9"/>
<text x="307.2" y="879.6" font-size="10.7" font-weight="bold" text-anchor="end" fill="#444444" stroke="#444444" stroke-width="0.15">0</text>
<line x1="308" y1="846.66" x2="310.2" y2="846.66" stroke="#8c8c8c" stroke-width="0.9"/>
<text x="307.2" y="850.46" font-size="10.7" font-weight="bold" text-anchor="end" fill="#444444" stroke="#444444" stroke-width="0.15">3</text>
<line x1="308" y1="817.52" x2="310.2" y2="817.52" stroke="#8c8c8c" stroke-width="0.9"/>
<text x="307.2" y="821.32" font-size="10.7" font-weight="bold" text-anchor="end" fill="#444444" stroke="#444444" stroke-width="0.15">7</text>
<line x1="308" y1="788.39" x2="310.2" y2="788.39" stroke="#8c8c8c" stroke-width="0.9"/>
<text x="307.2" y="792.19" font-size="10.7" font-weight="bold" text-anchor="end" fill="#444444" stroke="#444444" stroke-width="0.15">11</text>
<line x1="308" y1="759.25" x2="310.2" y2="759.25" stroke="#8c8c8c" stroke-width="0.9"/>
<text x="307.2" y="763.05" font-size="10.7" font-weight="bold" text-anchor="end" fill="#444444" stroke="#444444" stroke-width="0.15">15</text>
<line x1="331.5" y1="881.5" x2="331.5" y2="883.7" stroke="#8c8c8c" stroke-width="0.9"/>
<line x1="366.5" y1="881.5" x2="366.5" y2="883.7" stroke="#8c8c8c" stroke-width="0.9"/>
<line x1="401.3" y1="881.5" x2="401.3" y2="883.7" stroke="#8c8c8c" stroke-width="0.9"/>
<text x="288.7" y="817.9" font-size="10.5" font-weight="bold" text-anchor="middle" fill="#111" transform="rotate(-90 288.7 817.9)" dominant-baseline="central">S/N</text>
<text x="0" y="0" font-size="10.25" font-weight="bold" word-spacing="-1.1" text-anchor="end" fill="#444444" stroke="#444" stroke-width="0.25" transform="translate(340.8 889.5) rotate(-36)">PAβ V 1.0</text>
<text x="0" y="0" font-size="10.25" font-weight="bold" word-spacing="-1.1" text-anchor="end" fill="#444444" stroke="#444" stroke-width="0.25" transform="translate(375.8 889.5) rotate(-36)">PAβ V 2.0</text>
<text x="0" y="0" font-size="10.25" font-weight="bold" word-spacing="-1.1" text-anchor="end" fill="#444444" stroke="#444" stroke-width="0.25" transform="translate(410.6 889.5) rotate(-36)">PAβ V 1.0 w/ 1IP</text>
<line x1="326" y1="757.4" x2="406.3" y2="757.4" stroke="#1a1a1a" stroke-width="1.7"/>
<line x1="326" y1="767.4" x2="364.4" y2="767.4" stroke="#1a1a1a" stroke-width="1.7"/>
<line x1="366.9" y1="767.4" x2="406.3" y2="767.4" stroke="#1a1a1a" stroke-width="1.7"/>
<polygon points="362.85,750.25 363.5,752.51 365.85,752.43 363.9,753.74 364.7,755.95 362.85,754.5 361,755.95 361.8,753.74 359.85,752.43 362.2,752.51" fill="#222"/>
<polygon points="369.45,750.25 370.1,752.51 372.45,752.43 370.5,753.74 371.3,755.95 369.45,754.5 367.6,755.95 368.4,753.74 366.45,752.43 368.8,752.51" fill="#222"/>
<polygon points="341.9,760.25 342.55,762.51 344.9,762.43 342.95,763.74 343.75,765.95 341.9,764.5 340.05,765.95 340.85,763.74 338.9,762.43 341.25,762.51" fill="#222"/>
<polygon points="348.5,760.25 349.15,762.51 351.5,762.43 349.55,763.74 350.35,765.95 348.5,764.5 346.65,765.95 347.45,763.74 345.5,762.43 347.85,762.51" fill="#222"/>
<polygon points="383.3,760.25 383.95,762.51 386.3,762.43 384.35,763.74 385.15,765.95 383.3,764.5 381.45,765.95 382.25,763.74 380.3,762.43 382.65,762.51" fill="#222"/>
<polygon points="389.9,760.25 390.55,762.51 392.9,762.43 390.95,763.74 391.75,765.95 389.9,764.5 388.05,765.95 388.85,763.74 386.9,762.43 389.25,762.51" fill="#222"/>
<line x1="326.3" y1="826.07" x2="336.7" y2="826.07" stroke="#8f8f8f" stroke-width="1.1"/>
<line x1="326.3" y1="849.38" x2="336.7" y2="849.38" stroke="#8f8f8f" stroke-width="1.1"/>
<line x1="361.3" y1="801.21" x2="371.7" y2="801.21" stroke="#8f8f8f" stroke-width="1.1"/>
<line x1="361.3" y1="808.98" x2="371.7" y2="808.98" stroke="#8f8f8f" stroke-width="1.1"/>
<line x1="396.1" y1="858.71" x2="406.5" y2="858.71" stroke="#8f8f8f" stroke-width="1.1"/>
<line x1="396.1" y1="864.92" x2="406.5" y2="864.92" stroke="#8f8f8f" stroke-width="1.1"/>
<circle cx="331.5" cy="819.2" r="2.2" fill="#f99a5a" fill-opacity="0.78"/>
<circle cx="333.1" cy="834.5" r="2.2" fill="#f99a5a" fill-opacity="0.78"/>
<circle cx="333" cy="845.8" r="2.2" fill="#f99a5a" fill-opacity="0.78"/>
<circle cx="332.1" cy="850.9" r="2.2" fill="#f99a5a" fill-opacity="0.78"/>
<circle cx="367.9" cy="799.1" r="2.2" fill="#6b8cf8" fill-opacity="0.78"/>
<circle cx="363.8" cy="805.4" r="2.2" fill="#6b8cf8" fill-opacity="0.78"/>
<circle cx="366.9" cy="808.5" r="2.2" fill="#6b8cf8" fill-opacity="0.78"/>
<circle cx="365.8" cy="804" r="2.2" fill="#6b8cf8" fill-opacity="0.78"/>
<circle cx="399.5" cy="858.6" r="2.2" fill="#ef45ef" fill-opacity="0.78"/>
<circle cx="398.5" cy="864.2" r="2.2" fill="#ef45ef" fill-opacity="0.78"/>
<circle cx="402.2" cy="864.8" r="2.2" fill="#ef45ef" fill-opacity="0.78"/>
<circle cx="401" cy="861" r="2.2" fill="#ef45ef" fill-opacity="0.78"/>
<line x1="331.5" y1="826.07" x2="331.5" y2="849.38" stroke="#505050" stroke-width="1"/>
<line x1="328.1" y1="837.73" x2="334.9" y2="837.73" stroke="#3a3a3a" stroke-width="1"/>
<line x1="366.5" y1="801.21" x2="366.5" y2="808.98" stroke="#505050" stroke-width="1"/>
<line x1="363.1" y1="805.09" x2="369.9" y2="805.09" stroke="#3a3a3a" stroke-width="1"/>
<line x1="401.3" y1="858.71" x2="401.3" y2="864.92" stroke="#505050" stroke-width="1"/>
<line x1="397.9" y1="861.81" x2="404.7" y2="861.81" stroke="#3a3a3a" stroke-width="1"/>
<text x="426.4" y="516.3" font-size="16.5" font-weight="normal" text-anchor="start" fill="#000">C)</text>
<text x="570.6" y="546.5" font-size="14.6" font-weight="bold" text-anchor="middle" fill="#000">Mean and standard deviation of</text>
<text x="570.2" y="563.1" font-size="14.6" font-weight="bold" text-anchor="middle" fill="#000">signal/noise for the Aβ peptides</text>
<line x1="436.2" y1="587.8" x2="685" y2="587.8" stroke="#222" stroke-width="1.5"/>
<line x1="436.2" y1="626.5" x2="685" y2="626.5" stroke="#222" stroke-width="1.5"/>
<line x1="436.2" y1="900.7" x2="685" y2="900.7" stroke="#222" stroke-width="1.5"/>
<text x="519.8" y="605.2" font-size="14.5" font-weight="normal" text-anchor="middle" fill="#000">PAβ</text>
<text x="519.8" y="621.3" font-size="14.5" font-weight="normal" text-anchor="middle" fill="#000">V 1.0</text>
<text x="584" y="605.2" font-size="14.5" font-weight="normal" text-anchor="middle" fill="#000">PAβ</text>
<text x="584" y="621.3" font-size="14.5" font-weight="normal" text-anchor="middle" fill="#000">V 2.0</text>
<text x="650.3" y="605.2" font-size="14.5" font-weight="normal" text-anchor="middle" fill="#000">PAβ V 1.0</text>
<text x="650.3" y="621.3" font-size="14.5" font-weight="normal" text-anchor="middle" fill="#000">w/ 1IP</text>
<text x="462.2" y="669" font-size="13" font-weight="normal" text-anchor="middle" fill="#000">Aβ1-38</text>
<text x="519.8" y="669" font-size="13.6" font-weight="normal" text-anchor="middle" fill="#000">16.0(5.3)</text>
<text x="584" y="669" font-size="13.6" font-weight="normal" text-anchor="middle" fill="#000">29.8 (2.8)</text>
<text x="650.3" y="669" font-size="13.6" font-weight="normal" text-anchor="middle" fill="#000">5.5(1.2)</text>
<text x="462.2" y="714.3" font-size="13" font-weight="normal" text-anchor="middle" fill="#000">Aβ3-40</text>
<text x="519.8" y="714.3" font-size="13.6" font-weight="normal" text-anchor="middle" fill="#000">7.8(2.5)</text>
<text x="584" y="714.3" font-size="13.6" font-weight="normal" text-anchor="middle" fill="#000">13.7(0.9)</text>
<text x="650.3" y="714.3" font-size="13.6" font-weight="normal" text-anchor="middle" fill="#000">0(0)</text>
<text x="462.2" y="759.9" font-size="13" font-weight="normal" text-anchor="middle" fill="#000">Aβ1-39</text>
<text x="519.8" y="759.9" font-size="13.6" font-weight="normal" text-anchor="middle" fill="#000">4.9(1.5)</text>
<text x="584" y="759.9" font-size="13.6" font-weight="normal" text-anchor="middle" fill="#000">9.1(0.5)</text>
<text x="650.3" y="759.9" font-size="13.6" font-weight="normal" text-anchor="middle" fill="#000">1.8(0.4)</text>
<text x="462.2" y="805.1" font-size="13" font-weight="normal" text-anchor="middle" fill="#000">Aβ1-40</text>
<text x="519.8" y="805.1" font-size="13.6" font-weight="normal" text-anchor="middle" fill="#000">72.4(23.5)</text>
<text x="584" y="805.1" font-size="13.6" font-weight="normal" text-anchor="middle" fill="#000">143.9(7.0)</text>
<text x="650.3" y="805.1" font-size="13.6" font-weight="normal" text-anchor="middle" fill="#000">23.9(5.3)</text>
<text x="462.2" y="851.6" font-size="13" font-weight="normal" text-anchor="middle" fill="#000">Aβ1-42</text>
<text x="519.8" y="851.6" font-size="13.6" font-weight="normal" text-anchor="middle" fill="#000">5.5(1.4)</text>
<text x="584" y="851.6" font-size="13.6" font-weight="normal" text-anchor="middle" fill="#000">9.5(0.4)</text>
<text x="650.3" y="851.6" font-size="13.6" font-weight="normal" text-anchor="middle" fill="#000">1.6(0.4)</text>
<text x="519.8" y="896.8" font-size="13.6" font-weight="normal" text-anchor="middle" fill="#000">3.6(0.8)</text>
<text x="584" y="896.8" font-size="13.6" font-weight="normal" text-anchor="middle" fill="#000">7.1(0.4)</text>
<text x="650.3" y="896.8" font-size="13.6" font-weight="normal" text-anchor="middle" fill="#000">2.4(0.8)</text>
<text x="462.2" y="879.8" font-size="13" font-weight="normal" text-anchor="middle" fill="#000">APP669</text>
<text x="462.2" y="896.8" font-size="13" font-weight="normal" text-anchor="middle" fill="#000">-711</text>
</svg>
</body></html>
